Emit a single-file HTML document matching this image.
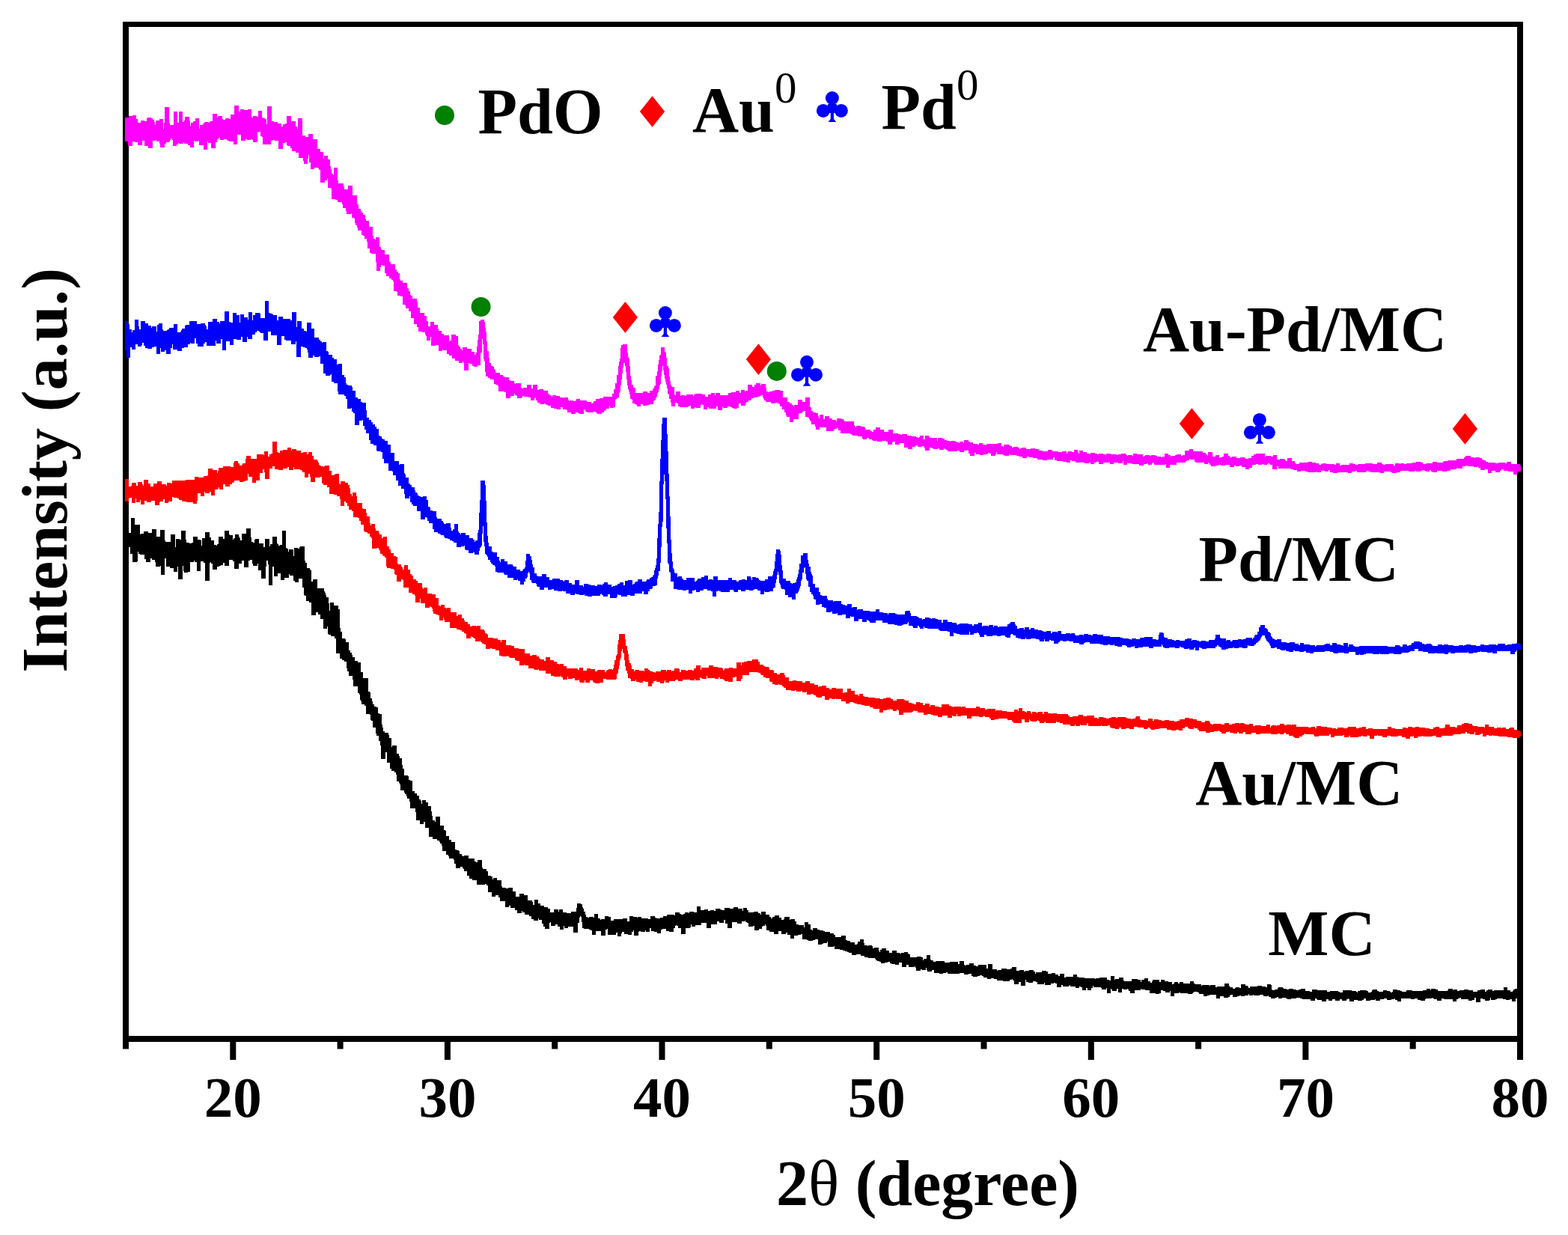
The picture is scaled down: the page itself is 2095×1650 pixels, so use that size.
<!DOCTYPE html>
<html><head><meta charset="utf-8"><title>XRD patterns</title>
<style>html,body{margin:0;padding:0;background:#fff;}body{width:2095px;height:1650px;overflow:hidden;}svg{display:block;}</style>
</head><body><svg width="2095" height="1650" viewBox="0 0 2095 1650"><g fill="#000"><rect x="164" y="29" width="1871" height="7"/><rect x="164" y="29" width="8" height="1372.5"/><rect x="2027" y="29" width="8" height="1387"/><rect x="164" y="1384" width="1871" height="8"/><rect x="307.3" y="1384" width="8" height="32"/><rect x="593.9" y="1384" width="8" height="32"/><rect x="880.5" y="1384" width="8" height="32"/><rect x="1167.2" y="1384" width="8" height="32"/><rect x="1453.8" y="1384" width="8" height="32"/><rect x="1740.4" y="1384" width="8" height="32"/><rect x="2027.0" y="1384" width="8" height="32"/><rect x="450.6" y="1384" width="8" height="17.5"/><rect x="737.2" y="1384" width="8" height="17.5"/><rect x="1023.8" y="1384" width="8" height="17.5"/><rect x="1310.5" y="1384" width="8" height="17.5"/><rect x="1597.1" y="1384" width="8" height="17.5"/><rect x="1883.7" y="1384" width="8" height="17.5"/></g><path fill="#000000" shape-rendering="crispEdges" d="M167,703.7H167V703.7H168V703.7H169V703.7H170V703.7H171V703.7H172V711.5H173V711.5H174V711.5H175V691.5H176V691.5H177V691.5H178V691.5H179V691.5H180V700.8H181V701.1H182V701.1H183V701.1H184V701.1H185V701.1H186V701.1H187V714.2H188V713.1H189V713.1H190V713.1H191V713.1H192V710.1H193V710.1H194V710.1H195V710.1H196V710.1H197V710.1H198V712.3H199V712.3H200V712.3H201V712.3H202V712.3H203V707.2H204V707.2H205V707.2H206V707.2H207V707.2H208V707.2H209V716.7H210V716.8H211V716.8H212V716.8H213V716.8H214V707.9H215V707.9H216V707.9H217V707.9H218V707.9H219V707.9H220V721.6H221V723.8H222V723.8H223V723.8H224V723.8H225V723.8H226V724.0H227V724.0H228V713.8H229V713.8H230V713.8H231V713.8H232V713.8H233V713.8H234V730.5H235V719.7H236V719.7H237V719.7H238V719.7H239V719.7H240V721.4H241V721.4H242V708.9H243V708.9H244V708.9H245V708.9H246V708.9H247V708.9H248V720.9H249V724.9H250V724.9H251V724.9H252V724.9H253V725.9H254V725.9H255V725.9H256V724.8H257V724.8H258V716.5H259V716.5H260V716.5H261V716.5H262V716.5H263V716.5H264V720.8H265V720.8H266V720.8H267V720.8H268V721.5H269V728.6H270V718.7H271V718.7H272V718.7H273V718.7H274V710.8H275V710.8H276V710.8H277V710.8H278V710.8H279V710.8H280V718.1H281V718.1H282V722.0H283V722.0H284V722.0H285V722.0H286V727.6H287V728.4H288V728.4H289V728.9H290V727.1H291V727.1H292V717.3H293V717.3H294V717.3H295V717.3H296V717.3H297V717.3H298V719.9H299V719.9H300V709.1H301V709.1H302V709.1H303V709.1H304V709.1H305V709.1H306V713.5H307V714.8H308V714.8H309V714.8H310V714.8H311V721.3H312V719.1H313V719.1H314V713.8H315V713.8H316V713.8H317V713.8H318V713.8H319V717.2H320V718.9H321V721.7H322V721.7H323V712.6H324V712.6H325V712.6H326V712.6H327V712.6H328V712.6H329V706.3H330V706.3H331V706.3H332V706.3H333V706.3H334V706.3H335V718.3H336V723.7H337V723.7H338V725.4H339V725.2H340V720.6H341V720.4H342V720.4H343V720.4H344V720.4H345V720.4H346V725.5H347V725.6H348V725.6H349V725.6H350V725.6H351V725.6H352V731.0H353V731.0H354V720.2H355V720.2H356V720.2H357V720.2H358V720.2H359V720.2H360V730.4H361V726.6H362V726.6H363V726.6H364V717.4H365V717.4H366V717.4H367V717.4H368V717.4H369V717.4H370V726.3H371V726.5H372V728.8H373V728.8H374V727.6H375V727.6H376V727.6H377V709.3H378V709.3H379V709.3H380V709.3H381V709.3H382V732.1H383V733.4H384V733.4H385V737.0H386V733.7H387V733.7H388V733.7H389V733.7H390V733.7H391V733.7H392V743.0H393V732.0H394V732.0H395V732.0H396V732.0H397V732.0H398V732.5H399V732.5H400V731.2H401V729.7H402V729.7H403V729.7H404V729.7H405V729.7H406V729.7H407V749.4H408V751.5H409V751.5H410V759.0H411V759.0H412V759.0H413V759.0H414V760.9H415V762.4H416V776.8H417V777.3H418V774.2H419V774.2H420V774.2H421V774.2H422V774.2H423V774.2H424V786.3H425V786.3H426V786.3H427V786.3H428V785.9H429V785.9H430V785.9H431V785.9H432V785.9H433V790.4H434V792.3H435V794.6H436V797.6H437V797.6H438V797.6H439V806.4H440V815.5H441V805.0H442V805.0H443V805.0H444V805.0H445V805.0H446V808.7H447V808.7H448V808.7H449V808.7H450V808.7H451V808.7H452V813.5H453V813.5H454V839.3H455V843.5H456V843.5H457V853.0H458V853.0H459V853.0H460V853.0H461V853.8H462V858.2H463V858.2H464V858.2H465V858.2H466V868.6H467V868.6H468V871.7H469V871.7H470V874.6H471V877.7H472V877.7H473V877.7H474V882.6H475V882.6H476V882.6H477V882.6H478V885.0H479V885.0H480V885.0H481V885.0H482V898.1H483V898.1H484V898.1H485V906.3H486V905.7H487V905.7H488V905.7H489V905.7H490V905.7H491V905.7H492V923.9H493V923.9H494V924.7H495V933.2H496V933.2H497V937.3H498V941.2H499V941.2H500V944.2H501V944.2H502V944.2H503V945.3H504V945.3H505V952.7H506V953.1H507V953.5H508V953.5H509V953.5H510V968.2H511V972.2H512V976.6H513V976.6H514V979.0H515V979.0H516V979.2H517V979.2H518V979.2H519V982.3H520V986.1H521V986.1H522V986.1H523V997.8H524V995.8H525V995.8H526V995.8H527V995.8H528V995.8H529V995.8H530V1006.5H531V1006.5H532V1006.5H533V1010.0H534V1012.5H535V1012.5H536V1012.5H537V1021.6H538V1026.7H539V1026.7H540V1035.7H541V1035.7H542V1035.7H543V1035.7H544V1035.7H545V1036.7H546V1041.8H547V1041.8H548V1043.1H549V1043.1H550V1043.1H551V1056.5H552V1056.5H553V1056.5H554V1059.6H555V1059.6H556V1059.6H557V1063.0H558V1063.0H559V1063.4H560V1067.8H561V1067.8H562V1070.4H563V1074.2H564V1068.8H565V1068.8H566V1068.8H567V1068.8H568V1068.8H569V1071.9H570V1071.9H571V1071.9H572V1076.9H573V1076.9H574V1076.9H575V1076.9H576V1083.7H577V1089.9H578V1095.8H579V1095.8H580V1095.8H581V1097.8H582V1091.2H583V1091.2H584V1091.2H585V1091.2H586V1091.2H587V1091.2H588V1102.8H589V1102.8H590V1102.8H591V1102.8H592V1102.8H593V1109.2H594V1109.2H595V1109.9H596V1116.6H597V1116.6H598V1116.6H599V1116.6H600V1121.9H601V1122.3H602V1122.3H603V1125.4H604V1125.4H605V1125.4H606V1125.4H607V1125.4H608V1134.8H609V1134.8H610V1135.6H611V1135.6H612V1135.6H613V1136.8H614V1140.5H615V1140.5H616V1140.5H617V1143.3H618V1144.1H619V1144.1H620V1143.1H621V1143.1H622V1143.1H623V1143.1H624V1143.1H625V1143.1H626V1146.6H627V1146.6H628V1146.6H629V1146.6H630V1146.6H631V1146.6H632V1147.0H633V1147.0H634V1151.1H635V1151.1H636V1151.6H637V1151.6H638V1148.7H639V1148.7H640V1148.7H641V1148.7H642V1148.7H643V1148.7H644V1159.2H645V1160.9H646V1160.9H647V1160.9H648V1160.9H649V1160.9H650V1164.3H651V1164.3H652V1169.5H653V1169.5H654V1169.5H655V1169.5H656V1171.1H657V1171.1H658V1174.6H659V1173.1H660V1173.1H661V1173.1H662V1173.1H663V1173.1H664V1176.2H665V1176.2H666V1176.2H667V1176.2H668V1176.2H669V1176.2H670V1183.5H671V1185.7H672V1185.7H673V1185.7H674V1185.7H675V1185.7H676V1187.3H677V1187.3H678V1187.3H679V1186.3H680V1186.3H681V1186.3H682V1186.3H683V1186.3H684V1186.3H685V1191.0H686V1191.0H687V1191.0H688V1191.0H689V1197.5H690V1197.5H691V1197.5H692V1197.5H693V1197.5H694V1193.7H695V1193.7H696V1193.7H697V1193.7H698V1193.7H699V1193.7H700V1196.3H701V1196.3H702V1196.3H703V1196.3H704V1196.3H705V1202.5H706V1202.5H707V1202.5H708V1202.5H709V1203.0H710V1203.0H711V1205.2H712V1209.1H713V1209.1H714V1201.9H715V1201.9H716V1201.9H717V1201.9H718V1201.9H719V1207.3H720V1207.3H721V1207.3H722V1209.7H723V1209.7H724V1209.7H725V1209.7H726V1209.7H727V1212.1H728V1212.1H729V1212.1H730V1212.1H731V1212.1H732V1213.5H733V1213.5H734V1213.5H735V1218.8H736V1219.4H737V1219.4H738V1219.4H739V1219.4H740V1214.6H741V1214.6H742V1214.6H743V1214.6H744V1214.6H745V1214.6H746V1218.0H747V1214.6H748V1214.6H749V1214.6H750V1214.6H751V1214.6H752V1218.8H753V1218.8H754V1218.8H755V1218.8H756V1218.8H757V1220.4H758V1220.4H759V1220.4H760V1220.4H761V1220.4H762V1220.4H763V1217.9H764V1217.9H765V1217.9H766V1217.9H767V1217.6H768V1217.6H769V1217.6H770V1213.1H771V1207.2H772V1207.2H773V1207.2H774V1207.2H775V1207.2H776V1207.6H777V1207.6H778V1212.2H779V1214.0H780V1217.6H781V1217.6H782V1221.6H783V1224.5H784V1225.3H785V1225.8H786V1225.8H787V1224.9H788V1224.9H789V1224.9H790V1224.9H791V1224.9H792V1224.9H793V1225.5H794V1221.1H795V1221.1H796V1221.1H797V1221.1H798V1221.1H799V1227.0H800V1227.0H801V1227.0H802V1229.1H803V1227.9H804V1227.9H805V1227.9H806V1227.9H807V1227.9H808V1223.5H809V1223.5H810V1223.5H811V1223.5H812V1223.5H813V1224.9H814V1224.9H815V1224.9H816V1229.9H817V1229.8H818V1229.8H819V1229.8H820V1227.9H821V1227.9H822V1227.9H823V1227.9H824V1227.9H825V1227.9H826V1228.4H827V1228.4H828V1228.4H829V1228.4H830V1228.4H831V1228.4H832V1227.0H833V1227.0H834V1227.0H835V1227.0H836V1227.0H837V1227.0H838V1230.8H839V1230.8H840V1230.8H841V1224.2H842V1224.2H843V1224.2H844V1224.2H845V1224.2H846V1225.3H847V1225.3H848V1225.3H849V1225.3H850V1225.3H851V1225.7H852V1225.4H853V1225.4H854V1225.4H855V1225.4H856V1225.4H857V1227.1H858V1227.1H859V1227.1H860V1227.1H861V1227.1H862V1227.4H863V1227.4H864V1227.4H865V1227.4H866V1228.2H867V1228.2H868V1228.2H869V1224.2H870V1224.2H871V1224.2H872V1224.2H873V1224.2H874V1224.2H875V1225.5H876V1225.5H877V1227.2H878V1227.2H879V1227.2H880V1227.2H881V1227.2H882V1225.6H883V1225.6H884V1225.6H885V1225.6H886V1224.3H887V1224.3H888V1224.3H889V1224.3H890V1224.3H891V1221.6H892V1221.6H893V1221.6H894V1221.6H895V1221.6H896V1222.2H897V1222.2H898V1222.2H899V1222.2H900V1222.2H901V1222.9H902V1219.3H903V1219.3H904V1219.3H905V1219.3H906V1219.3H907V1219.3H908V1221.1H909V1221.1H910V1221.5H911V1221.8H912V1221.8H913V1221.4H914V1221.4H915V1219.3H916V1219.3H917V1219.3H918V1219.3H919V1219.3H920V1219.9H921V1218.0H922V1218.0H923V1218.0H924V1218.0H925V1218.0H926V1218.0H927V1218.8H928V1218.8H929V1218.8H930V1218.8H931V1210.8H932V1210.8H933V1210.8H934V1210.8H935V1210.8H936V1216.0H937V1216.0H938V1216.0H939V1216.0H940V1216.0H941V1215.4H942V1215.4H943V1215.4H944V1215.4H945V1215.4H946V1217.0H947V1217.0H948V1217.0H949V1216.2H950V1216.2H951V1216.2H952V1216.2H953V1216.2H954V1216.8H955V1216.8H956V1214.0H957V1214.0H958V1214.0H959V1214.0H960V1214.0H961V1214.0H962V1214.8H963V1214.8H964V1215.5H965V1215.5H966V1215.5H967V1215.5H968V1213.1H969V1213.1H970V1213.1H971V1213.1H972V1213.1H973V1213.1H974V1213.4H975V1214.0H976V1214.0H977V1214.0H978V1214.0H979V1214.0H980V1212.0H981V1212.0H982V1212.0H983V1212.0H984V1212.0H985V1212.0H986V1214.1H987V1214.1H988V1214.1H989V1214.1H990V1214.1H991V1214.1H992V1216.5H993V1212.8H994V1212.8H995V1212.8H996V1212.8H997V1212.8H998V1215.8H999V1215.8H1000V1219.1H1001V1219.1H1002V1218.9H1003V1218.9H1004V1218.9H1005V1218.9H1006V1218.9H1007V1217.6H1008V1217.6H1009V1217.6H1010V1217.6H1011V1217.6H1012V1217.6H1013V1219.5H1014V1219.5H1015V1219.5H1016V1221.5H1017V1218.2H1018V1218.2H1019V1218.2H1020V1218.2H1021V1218.2H1022V1218.2H1023V1222.2H1024V1222.2H1025V1222.2H1026V1222.2H1027V1222.2H1028V1225.4H1029V1225.4H1030V1226.5H1031V1226.5H1032V1224.6H1033V1224.6H1034V1224.6H1035V1222.9H1036V1222.9H1037V1222.9H1038V1222.9H1039V1222.9H1040V1222.9H1041V1226.3H1042V1226.3H1043V1226.3H1044V1228.5H1045V1228.5H1046V1228.5H1047V1227.8H1048V1224.7H1049V1224.6H1050V1224.6H1051V1224.6H1052V1224.6H1053V1224.6H1054V1224.6H1055V1228.8H1056V1227.5H1057V1227.5H1058V1227.5H1059V1227.5H1060V1227.5H1061V1227.5H1062V1230.5H1063V1230.5H1064V1234.6H1065V1234.6H1066V1234.6H1067V1236.1H1068V1236.1H1069V1236.4H1070V1236.4H1071V1236.4H1072V1236.4H1073V1236.4H1074V1238.9H1075V1231.6H1076V1231.6H1077V1231.6H1078V1231.6H1079V1231.6H1080V1234.5H1081V1234.5H1082V1234.5H1083V1241.5H1084V1241.5H1085V1242.7H1086V1240.1H1087V1240.1H1088V1240.1H1089V1240.1H1090V1240.1H1091V1240.1H1092V1241.7H1093V1241.7H1094V1241.7H1095V1243.2H1096V1243.2H1097V1243.2H1098V1243.2H1099V1243.2H1100V1243.7H1101V1243.7H1102V1244.7H1103V1244.7H1104V1244.7H1105V1244.7H1106V1245.4H1107V1245.4H1108V1245.4H1109V1247.4H1110V1247.4H1111V1247.4H1112V1247.4H1113V1247.4H1114V1248.6H1115V1248.6H1116V1251.5H1117V1251.5H1118V1251.5H1119V1251.7H1120V1251.8H1121V1251.8H1122V1251.8H1123V1251.8H1124V1250.2H1125V1250.2H1126V1250.2H1127V1250.2H1128V1250.2H1129V1250.2H1130V1256.2H1131V1256.2H1132V1256.6H1133V1256.6H1134V1256.6H1135V1256.6H1136V1258.7H1137V1258.7H1138V1258.7H1139V1258.7H1140V1258.7H1141V1259.3H1142V1262.1H1143V1262.1H1144V1262.1H1145V1260.9H1146V1258.2H1147V1258.2H1148V1258.2H1149V1255.2H1150V1255.2H1151V1255.2H1152V1255.2H1153V1255.2H1154V1260.1H1155V1263.4H1156V1263.4H1157V1263.4H1158V1263.4H1159V1264.0H1160V1263.2H1161V1263.2H1162V1263.2H1163V1263.2H1164V1263.2H1165V1264.2H1166V1267.2H1167V1267.2H1168V1265.9H1169V1265.9H1170V1265.9H1171V1265.9H1172V1265.9H1173V1265.9H1174V1270.1H1175V1272.0H1176V1269.0H1177V1269.0H1178V1266.5H1179V1266.5H1180V1266.5H1181V1266.5H1182V1266.5H1183V1266.5H1184V1269.5H1185V1269.5H1186V1269.5H1187V1269.5H1188V1273.2H1189V1273.2H1190V1273.2H1191V1273.2H1192V1270.4H1193V1270.4H1194V1270.4H1195V1270.4H1196V1270.4H1197V1270.4H1198V1273.4H1199V1273.4H1200V1273.4H1201V1273.4H1202V1274.0H1203V1274.0H1204V1272.8H1205V1272.8H1206V1272.8H1207V1272.8H1208V1271.7H1209V1271.7H1210V1271.7H1211V1271.7H1212V1271.7H1213V1273.6H1214V1274.9H1215V1274.9H1216V1279.4H1217V1279.4H1218V1279.4H1219V1279.3H1220V1278.6H1221V1278.6H1222V1278.6H1223V1278.6H1224V1278.6H1225V1277.6H1226V1277.6H1227V1277.6H1228V1277.6H1229V1277.6H1230V1277.6H1231V1279.0H1232V1279.0H1233V1282.7H1234V1281.0H1235V1281.0H1236V1281.0H1237V1281.0H1238V1275.7H1239V1275.7H1240V1275.7H1241V1275.7H1242V1275.7H1243V1281.9H1244V1282.8H1245V1282.8H1246V1282.8H1247V1285.3H1248V1285.2H1249V1285.2H1250V1284.4H1251V1284.4H1252V1284.4H1253V1284.4H1254V1284.4H1255V1284.4H1256V1283.8H1257V1283.8H1258V1283.8H1259V1283.8H1260V1283.8H1261V1283.8H1262V1285.8H1263V1285.8H1264V1285.8H1265V1285.8H1266V1285.8H1267V1285.8H1268V1286.2H1269V1285.2H1270V1285.2H1271V1285.2H1272V1285.2H1273V1285.1H1274V1285.1H1275V1285.1H1276V1285.1H1277V1285.1H1278V1285.1H1279V1285.1H1280V1288.1H1281V1288.1H1282V1284.4H1283V1284.4H1284V1284.4H1285V1284.4H1286V1284.4H1287V1284.4H1288V1288.9H1289V1289.5H1290V1289.5H1291V1288.6H1292V1288.6H1293V1288.6H1294V1288.6H1295V1286.6H1296V1286.6H1297V1286.6H1298V1286.6H1299V1286.6H1300V1286.6H1301V1290.0H1302V1290.0H1303V1290.0H1304V1291.3H1305V1291.3H1306V1291.3H1307V1289.1H1308V1289.1H1309V1289.1H1310V1289.1H1311V1289.1H1312V1289.1H1313V1289.1H1314V1289.1H1315V1289.1H1316V1289.1H1317V1289.1H1318V1294.4H1319V1294.4H1320V1288.3H1321V1288.3H1322V1288.3H1323V1288.3H1324V1288.3H1325V1288.3H1326V1294.5H1327V1294.5H1328V1294.5H1329V1295.2H1330V1295.2H1331V1295.2H1332V1296.7H1333V1295.8H1334V1295.8H1335V1295.8H1336V1295.8H1337V1295.8H1338V1293.7H1339V1293.7H1340V1293.7H1341V1293.7H1342V1293.7H1343V1294.2H1344V1294.2H1345V1294.7H1346V1294.7H1347V1294.7H1348V1295.3H1349V1295.3H1350V1293.9H1351V1293.9H1352V1291.9H1353V1291.9H1354V1291.9H1355V1291.9H1356V1291.9H1357V1291.9H1358V1297.3H1359V1297.3H1360V1297.3H1361V1297.3H1362V1295.7H1363V1295.7H1364V1295.7H1365V1295.7H1366V1295.7H1367V1295.7H1368V1298.4H1369V1298.4H1370V1297.2H1371V1297.2H1372V1297.2H1373V1297.2H1374V1297.2H1375V1296.3H1376V1296.3H1377V1296.3H1378V1296.3H1379V1296.3H1380V1296.3H1381V1298.2H1382V1298.2H1383V1301.1H1384V1298.5H1385V1298.5H1386V1298.5H1387V1298.5H1388V1298.5H1389V1298.5H1390V1298.6H1391V1298.6H1392V1297.1H1393V1297.1H1394V1297.1H1395V1297.1H1396V1297.1H1397V1297.1H1398V1297.5H1399V1297.5H1400V1300.6H1401V1300.6H1402V1300.6H1403V1301.4H1404V1301.4H1405V1299.9H1406V1299.9H1407V1299.9H1408V1299.9H1409V1299.9H1410V1301.7H1411V1301.7H1412V1301.7H1413V1301.7H1414V1304.1H1415V1304.2H1416V1301.0H1417V1301.0H1418V1301.0H1419V1301.0H1420V1301.0H1421V1301.0H1422V1306.0H1423V1306.1H1424V1304.8H1425V1304.8H1426V1304.8H1427V1304.8H1428V1304.7H1429V1304.7H1430V1304.7H1431V1304.7H1432V1304.7H1433V1304.7H1434V1301.7H1435V1301.7H1436V1301.7H1437V1301.7H1438V1301.7H1439V1305.0H1440V1305.0H1441V1305.9H1442V1305.9H1443V1305.9H1444V1306.0H1445V1306.1H1446V1306.1H1447V1306.1H1448V1306.1H1449V1307.2H1450V1307.2H1451V1307.2H1452V1307.1H1453V1307.1H1454V1307.1H1455V1307.1H1456V1307.1H1457V1307.0H1458V1307.0H1459V1307.0H1460V1307.0H1461V1307.0H1462V1307.0H1463V1308.0H1464V1307.2H1465V1307.2H1466V1307.2H1467V1307.2H1468V1307.2H1469V1306.4H1470V1306.4H1471V1306.4H1472V1306.4H1473V1306.2H1474V1306.2H1475V1306.2H1476V1306.2H1477V1306.2H1478V1306.2H1479V1308.7H1480V1308.7H1481V1308.7H1482V1310.1H1483V1310.1H1484V1304.1H1485V1304.1H1486V1304.1H1487V1304.1H1488V1304.1H1489V1309.3H1490V1308.2H1491V1308.2H1492V1308.2H1493V1308.2H1494V1308.2H1495V1305.5H1496V1305.5H1497V1305.5H1498V1305.5H1499V1305.5H1500V1305.5H1501V1309.9H1502V1310.5H1503V1310.6H1504V1310.6H1505V1310.6H1506V1310.6H1507V1310.6H1508V1311.4H1509V1311.4H1510V1311.4H1511V1311.4H1512V1307.6H1513V1307.6H1514V1307.6H1515V1307.6H1516V1307.6H1517V1307.6H1518V1308.4H1519V1308.4H1520V1309.0H1521V1309.0H1522V1309.0H1523V1309.0H1524V1311.7H1525V1309.3H1526V1309.3H1527V1309.3H1528V1309.3H1529V1307.0H1530V1307.0H1531V1307.0H1532V1307.0H1533V1307.0H1534V1311.3H1535V1311.3H1536V1311.3H1537V1313.0H1538V1313.0H1539V1310.8H1540V1309.0H1541V1309.0H1542V1309.0H1543V1309.0H1544V1309.0H1545V1309.0H1546V1309.0H1547V1309.0H1548V1309.0H1549V1312.4H1550V1312.4H1551V1308.9H1552V1308.9H1553V1308.9H1554V1308.9H1555V1308.9H1556V1310.5H1557V1310.5H1558V1310.5H1559V1310.5H1560V1310.5H1561V1311.6H1562V1311.6H1563V1311.6H1564V1311.6H1565V1311.6H1566V1315.1H1567V1315.1H1568V1313.9H1569V1312.4H1570V1312.4H1571V1312.4H1572V1312.4H1573V1312.4H1574V1313.8H1575V1313.8H1576V1311.9H1577V1311.9H1578V1311.9H1579V1311.9H1580V1311.9H1581V1313.5H1582V1313.5H1583V1313.5H1584V1314.1H1585V1314.1H1586V1314.1H1587V1314.1H1588V1314.1H1589V1314.1H1590V1311.3H1591V1311.3H1592V1311.3H1593V1311.3H1594V1311.3H1595V1314.3H1596V1314.3H1597V1315.4H1598V1315.4H1599V1314.6H1600V1314.6H1601V1314.6H1602V1314.6H1603V1314.6H1604V1314.6H1605V1317.2H1606V1316.4H1607V1316.4H1608V1316.4H1609V1316.4H1610V1316.2H1611V1316.2H1612V1316.2H1613V1316.2H1614V1316.2H1615V1316.2H1616V1317.3H1617V1316.3H1618V1316.3H1619V1316.2H1620V1316.2H1621V1316.2H1622V1316.2H1623V1316.2H1624V1318.9H1625V1318.9H1626V1318.3H1627V1318.3H1628V1318.3H1629V1318.3H1630V1318.2H1631V1318.1H1632V1318.1H1633V1318.1H1634V1318.1H1635V1318.1H1636V1314.0H1637V1314.0H1638V1314.0H1639V1314.0H1640V1314.0H1641V1314.0H1642V1316.9H1643V1318.5H1644V1318.5H1645V1318.5H1646V1318.5H1647V1320.7H1648V1320.7H1649V1320.7H1650V1320.2H1651V1318.6H1652V1318.6H1653V1318.6H1654V1318.6H1655V1318.6H1656V1319.5H1657V1319.5H1658V1314.9H1659V1314.9H1660V1314.9H1661V1314.9H1662V1314.9H1663V1314.9H1664V1317.2H1665V1317.2H1666V1317.2H1667V1317.7H1668V1319.6H1669V1319.6H1670V1317.8H1671V1317.8H1672V1317.7H1673V1317.7H1674V1317.7H1675V1317.7H1676V1317.7H1677V1317.7H1678V1317.5H1679V1317.5H1680V1316.5H1681V1316.5H1682V1316.5H1683V1316.5H1684V1316.5H1685V1316.5H1686V1317.7H1687V1317.8H1688V1317.8H1689V1317.8H1690V1317.8H1691V1319.0H1692V1319.0H1693V1315.0H1694V1315.0H1695V1315.0H1696V1315.0H1697V1315.0H1698V1316.1H1699V1322.0H1700V1322.5H1701V1322.5H1702V1322.5H1703V1322.1H1704V1322.1H1705V1322.1H1706V1322.1H1707V1320.4H1708V1319.3H1709V1319.3H1710V1319.3H1711V1319.3H1712V1319.3H1713V1319.3H1714V1319.7H1715V1320.8H1716V1320.8H1717V1320.8H1718V1321.0H1719V1321.8H1720V1321.8H1721V1321.8H1722V1321.4H1723V1320.7H1724V1320.7H1725V1320.7H1726V1320.7H1727V1320.7H1728V1322.2H1729V1322.2H1730V1322.2H1731V1322.2H1732V1322.6H1733V1322.6H1734V1322.6H1735V1321.9H1736V1321.9H1737V1321.9H1738V1320.8H1739V1320.8H1740V1320.8H1741V1320.8H1742V1320.8H1743V1320.8H1744V1324.2H1745V1324.2H1746V1324.2H1747V1324.2H1748V1324.2H1749V1324.2H1750V1325.1H1751V1324.8H1752V1324.8H1753V1322.0H1754V1321.6H1755V1321.6H1756V1321.6H1757V1321.6H1758V1321.6H1759V1321.6H1760V1322.5H1761V1322.5H1762V1322.5H1763V1322.5H1764V1322.5H1765V1322.5H1766V1323.3H1767V1323.3H1768V1323.3H1769V1323.3H1770V1323.3H1771V1323.3H1772V1323.3H1773V1325.2H1774V1325.4H1775V1325.4H1776V1325.4H1777V1323.9H1778V1323.9H1779V1323.9H1780V1323.9H1781V1323.9H1782V1323.9H1783V1323.7H1784V1323.7H1785V1323.7H1786V1323.7H1787V1323.7H1788V1325.0H1789V1325.2H1790V1326.1H1791V1325.7H1792V1325.7H1793V1325.7H1794V1323.1H1795V1323.1H1796V1323.1H1797V1323.1H1798V1323.1H1799V1323.1H1800V1323.2H1801V1323.2H1802V1323.2H1803V1323.2H1804V1323.2H1805V1323.2H1806V1323.6H1807V1323.6H1808V1323.6H1809V1323.6H1810V1323.6H1811V1323.6H1812V1325.4H1813V1325.9H1814V1323.6H1815V1323.6H1816V1323.6H1817V1323.1H1818V1323.1H1819V1323.1H1820V1323.1H1821V1323.1H1822V1323.4H1823V1323.4H1824V1323.4H1825V1323.4H1826V1323.6H1827V1323.6H1828V1325.5H1829V1325.5H1830V1325.6H1831V1325.6H1832V1324.9H1833V1323.4H1834V1322.2H1835V1322.2H1836V1322.2H1837V1322.2H1838V1322.2H1839V1322.2H1840V1323.7H1841V1323.7H1842V1324.8H1843V1324.8H1844V1324.8H1845V1324.8H1846V1324.9H1847V1324.9H1848V1323.3H1849V1323.3H1850V1323.3H1851V1323.3H1852V1323.3H1853V1323.8H1854V1323.8H1855V1323.8H1856V1323.8H1857V1324.5H1858V1326.2H1859V1326.2H1860V1325.1H1861V1322.4H1862V1322.4H1863V1322.4H1864V1322.4H1865V1322.4H1866V1322.4H1867V1322.7H1868V1322.7H1869V1322.7H1870V1322.7H1871V1323.7H1872V1324.4H1873V1324.9H1874V1324.9H1875V1324.9H1876V1324.9H1877V1324.8H1878V1324.8H1879V1323.3H1880V1323.3H1881V1323.3H1882V1322.7H1883V1322.7H1884V1322.7H1885V1322.7H1886V1322.7H1887V1323.5H1888V1323.5H1889V1323.5H1890V1323.5H1891V1323.5H1892V1323.8H1893V1323.8H1894V1323.8H1895V1323.8H1896V1323.7H1897V1323.7H1898V1323.7H1899V1323.7H1900V1323.7H1901V1322.5H1902V1322.5H1903V1322.5H1904V1322.5H1905V1322.5H1906V1320.9H1907V1320.9H1908V1320.9H1909V1320.9H1910V1320.9H1911V1322.7H1912V1320.7H1913V1320.7H1914V1320.7H1915V1320.7H1916V1320.7H1917V1320.7H1918V1322.2H1919V1322.2H1920V1322.2H1921V1323.5H1922V1323.5H1923V1323.5H1924V1323.5H1925V1323.5H1926V1323.5H1927V1324.2H1928V1324.2H1929V1324.2H1930V1324.2H1931V1323.7H1932V1323.7H1933V1323.7H1934V1322.8H1935V1321.3H1936V1321.3H1937V1321.3H1938V1321.3H1939V1321.3H1940V1321.3H1941V1323.0H1942V1321.9H1943V1321.9H1944V1321.9H1945V1321.9H1946V1321.9H1947V1323.9H1948V1323.9H1949V1323.9H1950V1322.5H1951V1322.5H1952V1322.5H1953V1322.5H1954V1322.5H1955V1322.5H1956V1322.2H1957V1322.2H1958V1322.2H1959V1322.2H1960V1322.2H1961V1322.2H1962V1322.6H1963V1322.6H1964V1322.8H1965V1322.8H1966V1322.8H1967V1322.8H1968V1324.7H1969V1324.5H1970V1324.5H1971V1324.5H1972V1324.5H1973V1324.5H1974V1322.6H1975V1322.6H1976V1322.6H1977V1322.6H1978V1322.4H1979V1322.4H1980V1322.4H1981V1322.4H1982V1322.4H1983V1322.4H1984V1324.8H1985V1324.8H1986V1322.8H1987V1322.8H1988V1322.2H1989V1322.2H1990V1322.2H1991V1322.2H1992V1322.2H1993V1322.2H1994V1323.9H1995V1323.9H1996V1323.2H1997V1323.2H1998V1323.2H1999V1323.2H2000V1323.2H2001V1323.2H2002V1323.4H2003V1323.4H2004V1323.4H2005V1323.4H2006V1323.4H2007V1322.7H2008V1322.7H2009V1319.0H2010V1319.0H2011V1319.0H2012V1319.0H2013V1319.0H2014V1322.5H2015V1322.5H2016V1323.3H2017V1323.3H2018V1325.0H2019V1324.7H2020V1324.7H2021V1324.0H2022V1322.4H2023V1322.4H2024V1321.3H2025V1321.3H2026V1320.7H2027V1320.7H2028V1320.7H2029V1320.7H2030V1320.7H2031V1320.7H2032V1334.4H2031V1334.4H2030V1334.4H2029V1334.4H2028V1334.4H2027V1334.4H2026V1333.7H2025V1337.5H2024V1337.5H2023V1337.5H2022V1337.5H2021V1337.5H2020V1334.8H2019V1334.8H2018V1334.8H2017V1336.0H2016V1336.0H2015V1336.0H2014V1336.0H2013V1336.0H2012V1335.2H2011V1335.2H2010V1335.2H2009V1335.2H2008V1334.2H2007V1334.2H2006V1334.4H2005V1334.4H2004V1334.4H2003V1334.4H2002V1334.4H2001V1334.4H2000V1334.6H1999V1334.6H1998V1335.6H1997V1335.6H1996V1335.6H1995V1335.6H1994V1335.6H1993V1335.6H1992V1333.2H1991V1335.7H1990V1337.0H1989V1337.0H1988V1337.0H1987V1337.0H1986V1337.0H1985V1337.0H1984V1335.1H1983V1335.1H1982V1335.1H1981V1334.1H1980V1334.1H1979V1334.1H1978V1338.5H1977V1338.5H1976V1338.5H1975V1338.5H1974V1338.5H1973V1338.5H1972V1332.9H1971V1332.9H1970V1336.2H1969V1336.2H1968V1336.2H1967V1336.6H1966V1336.6H1965V1336.6H1964V1336.6H1963V1336.6H1962V1334.6H1961V1334.6H1960V1334.6H1959V1335.1H1958V1335.1H1957V1335.1H1956V1335.1H1955V1335.1H1954V1334.7H1953V1334.7H1952V1332.7H1951V1332.7H1950V1333.6H1949V1333.6H1948V1335.1H1947V1335.1H1946V1337.5H1945V1337.5H1944V1337.5H1943V1337.5H1942V1337.5H1941V1335.1H1940V1335.0H1939V1335.0H1938V1335.0H1937V1335.0H1936V1334.8H1935V1334.8H1934V1334.8H1933V1334.8H1932V1334.8H1931V1334.8H1930V1334.6H1929V1334.4H1928V1334.4H1927V1334.4H1926V1336.7H1925V1336.7H1924V1336.7H1923V1336.7H1922V1336.7H1921V1336.7H1920V1335.4H1919V1335.4H1918V1335.4H1917V1335.4H1916V1334.2H1915V1334.2H1914V1332.6H1913V1333.5H1912V1333.5H1911V1333.5H1910V1333.5H1909V1334.2H1908V1334.2H1907V1334.2H1906V1334.2H1905V1335.4H1904V1336.7H1903V1336.7H1902V1336.7H1901V1336.7H1900V1336.7H1899V1336.7H1898V1335.8H1897V1335.8H1896V1335.8H1895V1335.8H1894V1333.8H1893V1333.8H1892V1333.8H1891V1333.8H1890V1334.6H1889V1334.6H1888V1334.6H1887V1334.6H1886V1334.6H1885V1333.5H1884V1333.5H1883V1333.5H1882V1333.5H1881V1333.5H1880V1333.5H1879V1333.5H1878V1333.5H1877V1334.1H1876V1334.1H1875V1334.1H1874V1334.1H1873V1334.1H1872V1337.9H1871V1337.9H1870V1337.9H1869V1337.9H1868V1337.9H1867V1335.6H1866V1335.6H1865V1335.6H1864V1333.5H1863V1334.6H1862V1335.3H1861V1335.3H1860V1335.3H1859V1336.2H1858V1336.2H1857V1336.2H1856V1336.2H1855V1336.2H1854V1336.2H1853V1334.2H1852V1334.2H1851V1334.2H1850V1334.2H1849V1335.3H1848V1335.3H1847V1335.3H1846V1335.3H1845V1335.3H1844V1337.0H1843V1337.0H1842V1337.0H1841V1337.0H1840V1337.0H1839V1337.0H1838V1335.2H1837V1335.5H1836V1335.5H1835V1335.5H1834V1335.5H1833V1335.5H1832V1335.5H1831V1336.6H1830V1336.6H1829V1336.6H1828V1336.6H1827V1336.6H1826V1336.6H1825V1334.1H1824V1334.1H1823V1334.1H1822V1336.1H1821V1336.1H1820V1336.6H1819V1336.6H1818V1336.6H1817V1336.6H1816V1336.6H1815V1336.6H1814V1335.7H1813V1335.7H1812V1335.7H1811V1335.7H1810V1335.7H1809V1337.7H1808V1337.7H1807V1337.7H1806V1337.7H1805V1337.7H1804V1337.7H1803V1334.6H1802V1334.3H1801V1334.9H1800V1334.9H1799V1337.3H1798V1337.3H1797V1337.3H1796V1337.3H1795V1337.3H1794V1337.3H1793V1334.7H1792V1334.7H1791V1334.7H1790V1336.8H1789V1336.8H1788V1336.8H1787V1336.8H1786V1336.8H1785V1336.8H1784V1334.5H1783V1334.5H1782V1335.3H1781V1335.3H1780V1336.8H1779V1336.8H1778V1336.8H1777V1336.8H1776V1336.8H1775V1335.2H1774V1335.2H1773V1335.2H1772V1337.5H1771V1337.5H1770V1337.5H1769V1337.5H1768V1337.5H1767V1337.5H1766V1335.9H1765V1336.1H1764V1336.1H1763V1336.1H1762V1336.1H1761V1336.1H1760V1334.9H1759V1334.4H1758V1334.4H1757V1336.5H1756V1336.5H1755V1336.5H1754V1336.5H1753V1336.5H1752V1336.5H1751V1334.9H1750V1334.9H1749V1334.9H1748V1334.5H1747V1334.5H1746V1334.7H1745V1334.7H1744V1334.7H1743V1334.7H1742V1334.7H1741V1334.7H1740V1333.8H1739V1333.8H1738V1333.8H1737V1333.0H1736V1333.0H1735V1333.0H1734V1333.0H1733V1332.5H1732V1333.5H1731V1333.5H1730V1334.2H1729V1334.2H1728V1334.2H1727V1334.2H1726V1334.2H1725V1334.5H1724V1334.5H1723V1334.5H1722V1334.5H1721V1334.5H1720V1333.5H1719V1333.5H1718V1333.1H1717V1332.7H1716V1332.7H1715V1332.6H1714V1332.6H1713V1333.7H1712V1333.7H1711V1333.7H1710V1333.7H1709V1333.7H1708V1331.9H1707V1331.9H1706V1332.6H1705V1332.6H1704V1334.2H1703V1334.2H1702V1334.2H1701V1334.2H1700V1334.2H1699V1334.2H1698V1332.2H1697V1331.8H1696V1331.8H1695V1329.6H1694V1331.2H1693V1331.2H1692V1331.2H1691V1331.2H1690V1331.2H1689V1331.2H1688V1329.2H1687V1329.2H1686V1329.2H1685V1329.2H1684V1329.2H1683V1329.5H1682V1329.5H1681V1330.0H1680V1330.0H1679V1330.0H1678V1330.0H1677V1330.0H1676V1330.0H1675V1328.6H1674V1330.3H1673V1330.3H1672V1330.3H1671V1330.3H1670V1330.3H1669V1328.2H1668V1330.3H1667V1330.3H1666V1330.3H1665V1330.3H1664V1330.3H1663V1330.5H1662V1330.5H1661V1330.5H1660V1330.5H1659V1330.5H1658V1330.1H1657V1330.1H1656V1330.9H1655V1330.9H1654V1330.9H1653V1331.8H1652V1331.8H1651V1331.8H1650V1331.8H1649V1331.8H1648V1331.8H1647V1329.3H1646V1329.3H1645V1329.3H1644V1329.6H1643V1332.4H1642V1332.4H1641V1332.5H1640V1332.5H1639V1332.5H1638V1332.5H1637V1332.5H1636V1332.5H1635V1330.5H1634V1330.5H1633V1331.0H1632V1331.0H1631V1331.0H1630V1334.1H1629V1334.1H1628V1334.1H1627V1334.1H1626V1334.1H1625V1329.2H1624V1329.2H1623V1329.2H1622V1329.2H1621V1329.2H1620V1328.9H1619V1328.9H1618V1328.9H1617V1328.9H1616V1330.3H1615V1330.3H1614V1330.3H1613V1330.8H1612V1330.8H1611V1330.8H1610V1330.8H1609V1330.8H1608V1327.6H1607V1328.2H1606V1328.2H1605V1328.2H1604V1328.2H1603V1328.2H1602V1326.2H1601V1326.2H1600V1325.1H1599V1325.1H1598V1325.4H1597V1325.4H1596V1325.4H1595V1325.7H1594V1327.2H1593V1328.0H1592V1328.0H1591V1328.0H1590V1328.0H1589V1328.0H1588V1328.0H1587V1327.3H1586V1327.3H1585V1326.8H1584V1326.8H1583V1326.8H1582V1326.8H1581V1326.8H1580V1326.8H1579V1326.8H1578V1326.8H1577V1325.9H1576V1325.9H1575V1326.9H1574V1326.9H1573V1326.9H1572V1326.9H1571V1326.9H1570V1326.9H1569V1331.0H1568V1331.0H1567V1331.0H1566V1331.0H1565V1331.0H1564V1324.2H1563V1325.6H1562V1325.6H1561V1325.6H1560V1325.6H1559V1325.6H1558V1325.6H1557V1323.7H1556V1323.7H1555V1323.7H1554V1323.0H1553V1323.0H1552V1323.0H1551V1327.2H1550V1327.2H1549V1327.7H1548V1327.7H1547V1327.7H1546V1327.7H1545V1327.7H1544V1327.0H1543V1327.0H1542V1327.0H1541V1327.0H1540V1327.0H1539V1327.0H1538V1327.0H1537V1327.0H1536V1323.1H1535V1323.1H1534V1323.1H1533V1323.1H1532V1323.1H1531V1323.1H1530V1322.3H1529V1322.3H1528V1322.3H1527V1322.3H1526V1322.3H1525V1320.7H1524V1323.1H1523V1323.1H1522V1323.1H1521V1323.1H1520V1323.1H1519V1323.1H1518V1322.9H1517V1322.9H1516V1327.4H1515V1327.4H1514V1327.4H1513V1327.4H1512V1327.4H1511V1327.4H1510V1324.2H1509V1324.2H1508V1322.2H1507V1321.0H1506V1322.1H1505V1322.1H1504V1322.1H1503V1322.1H1502V1322.1H1501V1320.9H1500V1320.9H1499V1325.7H1498V1325.7H1497V1325.7H1496V1325.7H1495V1325.7H1494V1321.2H1493V1321.2H1492V1324.0H1491V1324.0H1490V1324.0H1489V1324.0H1488V1324.0H1487V1324.0H1486V1321.8H1485V1321.4H1484V1327.0H1483V1327.0H1482V1327.0H1481V1327.0H1480V1327.0H1479V1319.8H1478V1321.9H1477V1321.9H1476V1321.9H1475V1321.9H1474V1321.9H1473V1321.9H1472V1319.8H1471V1318.9H1470V1318.9H1469V1318.9H1468V1318.9H1467V1318.9H1466V1318.6H1465V1318.6H1464V1318.6H1463V1318.6H1462V1318.6H1461V1316.8H1460V1319.6H1459V1319.6H1458V1322.7H1457V1322.7H1456V1322.7H1455V1322.7H1454V1322.7H1453V1320.3H1452V1320.3H1451V1322.9H1450V1322.9H1449V1322.9H1448V1322.9H1447V1322.9H1446V1318.6H1445V1318.6H1444V1317.5H1443V1317.5H1442V1319.9H1441V1319.9H1440V1319.9H1439V1319.9H1438V1319.9H1437V1317.7H1436V1317.7H1435V1318.2H1434V1318.2H1433V1318.2H1432V1318.2H1431V1318.2H1430V1315.6H1429V1317.0H1428V1317.9H1427V1317.9H1426V1318.3H1425V1318.3H1424V1318.3H1423V1318.3H1422V1318.3H1421V1318.3H1420V1316.3H1419V1316.3H1418V1319.4H1417V1319.4H1416V1319.4H1415V1319.4H1414V1319.4H1413V1319.4H1412V1314.2H1411V1314.2H1410V1312.8H1409V1313.4H1408V1314.3H1407V1314.3H1406V1314.3H1405V1314.3H1404V1316.0H1403V1316.0H1402V1316.0H1401V1316.0H1400V1316.0H1399V1316.0H1398V1315.5H1397V1315.5H1396V1312.8H1395V1314.5H1394V1314.5H1393V1314.5H1392V1315.0H1391V1315.0H1390V1315.0H1389V1315.0H1388V1315.0H1387V1315.0H1386V1312.2H1385V1312.2H1384V1311.0H1383V1311.0H1382V1311.2H1381V1311.2H1380V1313.0H1379V1313.0H1378V1313.0H1377V1313.0H1376V1313.0H1375V1313.0H1374V1311.7H1373V1311.7H1372V1311.7H1371V1309.3H1370V1316.9H1369V1316.9H1368V1316.9H1367V1316.9H1366V1316.9H1365V1316.9H1364V1312.2H1363V1312.2H1362V1312.2H1361V1314.8H1360V1314.8H1359V1314.8H1358V1314.8H1357V1314.8H1356V1314.8H1355V1309.9H1354V1309.9H1353V1307.5H1352V1308.6H1351V1308.6H1350V1308.6H1349V1310.7H1348V1310.7H1347V1310.7H1346V1310.9H1345V1310.9H1344V1310.9H1343V1310.9H1342V1310.9H1341V1310.9H1340V1309.6H1339V1309.6H1338V1309.6H1337V1310.3H1336V1310.3H1335V1310.3H1334V1310.3H1333V1310.3H1332V1307.8H1331V1307.8H1330V1307.8H1329V1307.8H1328V1307.4H1327V1307.2H1326V1307.2H1325V1307.2H1324V1307.5H1323V1307.5H1322V1307.5H1321V1307.5H1320V1307.5H1319V1305.9H1318V1305.9H1317V1305.9H1316V1305.9H1315V1305.9H1314V1303.6H1313V1303.6H1312V1302.7H1311V1302.7H1310V1302.7H1309V1303.5H1308V1303.5H1307V1303.5H1306V1305.3H1305V1305.3H1304V1305.3H1303V1305.3H1302V1305.3H1301V1305.3H1300V1303.9H1299V1303.9H1298V1301.1H1297V1301.1H1296V1301.1H1295V1301.1H1294V1302.1H1293V1302.1H1292V1302.1H1291V1302.1H1290V1302.1H1289V1302.1H1288V1300.3H1287V1300.3H1286V1299.8H1285V1299.8H1284V1299.8H1283V1299.8H1282V1300.6H1281V1300.6H1280V1300.6H1279V1301.0H1278V1301.0H1277V1301.0H1276V1301.0H1275V1301.0H1274V1300.7H1273V1300.7H1272V1301.1H1271V1301.1H1270V1301.1H1269V1301.1H1268V1301.1H1267V1301.1H1266V1298.9H1265V1298.9H1264V1300.3H1263V1300.3H1262V1300.3H1261V1300.3H1260V1301.3H1259V1301.3H1258V1301.3H1257V1301.3H1256V1301.3H1255V1300.3H1254V1300.3H1253V1300.3H1252V1300.3H1251V1300.3H1250V1299.8H1249V1299.8H1248V1295.6H1247V1295.6H1246V1295.6H1245V1298.2H1244V1298.2H1243V1298.2H1242V1298.2H1241V1298.2H1240V1298.2H1239V1295.7H1238V1293.1H1237V1295.9H1236V1295.9H1235V1295.9H1234V1295.9H1233V1295.9H1232V1295.2H1231V1295.2H1230V1296.8H1229V1296.8H1228V1296.8H1227V1296.8H1226V1296.8H1225V1296.8H1224V1293.3H1223V1291.0H1222V1291.8H1221V1291.8H1220V1291.8H1219V1291.8H1218V1291.8H1217V1291.6H1216V1291.6H1215V1291.6H1214V1288.9H1213V1288.9H1212V1288.9H1211V1292.0H1210V1292.0H1209V1292.0H1208V1292.0H1207V1292.0H1206V1292.0H1205V1285.5H1204V1285.5H1203V1285.5H1202V1285.5H1201V1288.9H1200V1288.9H1199V1288.9H1198V1288.9H1197V1288.9H1196V1287.5H1195V1287.5H1194V1287.5H1193V1287.5H1192V1287.5H1191V1286.6H1190V1286.6H1189V1285.2H1188V1285.2H1187V1285.2H1186V1286.0H1185V1286.0H1184V1286.0H1183V1286.0H1182V1287.2H1181V1287.2H1180V1287.2H1179V1287.2H1178V1287.2H1177V1285.2H1176V1285.2H1175V1284.3H1174V1284.3H1173V1284.3H1172V1282.7H1171V1282.7H1170V1281.3H1169V1279.9H1168V1279.9H1167V1279.9H1166V1280.2H1165V1280.2H1164V1280.2H1163V1280.2H1162V1280.2H1161V1280.2H1160V1279.3H1159V1279.3H1158V1279.3H1157V1279.3H1156V1279.3H1155V1277.2H1154V1277.2H1153V1277.2H1152V1277.2H1151V1277.2H1150V1275.2H1149V1275.2H1148V1275.1H1147V1275.1H1146V1275.1H1145V1275.1H1144V1276.0H1143V1276.0H1142V1276.0H1141V1276.0H1140V1276.0H1139V1276.0H1138V1273.4H1137V1273.2H1136V1273.2H1135V1273.2H1134V1272.1H1133V1272.1H1132V1270.9H1131V1270.9H1130V1270.9H1129V1270.4H1128V1270.4H1127V1270.4H1126V1268.8H1125V1268.8H1124V1268.8H1123V1268.8H1122V1267.8H1121V1267.8H1120V1268.2H1119V1268.2H1118V1268.2H1117V1268.2H1116V1268.2H1115V1263.9H1114V1265.0H1113V1265.0H1112V1265.0H1111V1265.0H1110V1265.0H1109V1265.0H1108V1264.6H1107V1264.6H1106V1258.3H1105V1260.3H1104V1260.3H1103V1260.3H1102V1260.3H1101V1260.3H1100V1260.6H1099V1260.6H1098V1262.1H1097V1262.1H1096V1262.1H1095V1262.1H1094V1262.1H1093V1255.2H1092V1255.2H1091V1255.2H1090V1255.2H1089V1256.4H1088V1256.4H1087V1256.4H1086V1257.0H1085V1257.0H1084V1257.0H1083V1257.0H1082V1257.0H1081V1257.0H1080V1255.5H1079V1255.5H1078V1254.9H1077V1254.9H1076V1254.9H1075V1254.9H1074V1254.9H1073V1254.9H1072V1248.1H1071V1248.1H1070V1249.1H1069V1249.1H1068V1249.1H1067V1249.1H1066V1250.1H1065V1250.1H1064V1250.1H1063V1250.1H1062V1250.1H1061V1254.4H1060V1254.4H1059V1254.4H1058V1254.4H1057V1254.4H1056V1249.0H1055V1249.0H1054V1249.0H1053V1249.0H1052V1246.1H1051V1246.1H1050V1248.1H1049V1248.1H1048V1248.1H1047V1248.1H1046V1248.1H1045V1248.1H1044V1243.8H1043V1243.8H1042V1243.8H1041V1243.8H1040V1247.5H1039V1247.5H1038V1247.5H1037V1247.5H1036V1247.5H1035V1247.5H1034V1245.3H1033V1245.3H1032V1245.3H1031V1245.3H1030V1245.3H1029V1245.3H1028V1242.7H1027V1242.7H1026V1242.7H1025V1242.7H1024V1236.5H1023V1235.1H1022V1236.6H1021V1236.6H1020V1236.6H1019V1238.1H1018V1241.1H1017V1241.1H1016V1241.1H1015V1241.1H1014V1243.2H1013V1243.2H1012V1243.2H1011V1243.2H1010V1243.2H1009V1243.2H1008V1237.1H1007V1237.1H1006V1237.8H1005V1237.8H1004V1237.8H1003V1237.8H1002V1237.8H1001V1237.8H1000V1232.5H999V1232.5H998V1232.3H997V1232.3H996V1229.6H995V1230.7H994V1230.7H993V1230.7H992V1230.7H991V1234.3H990V1234.4H989V1234.4H988V1234.4H987V1234.4H986V1234.4H985V1231.5H984V1231.5H983V1231.5H982V1231.8H981V1231.8H980V1231.8H979V1231.8H978V1239.5H977V1239.5H976V1239.5H975V1239.5H974V1239.5H973V1239.5H972V1233.8H971V1233.8H970V1233.7H969V1229.0H968V1229.0H967V1232.9H966V1232.9H965V1232.9H964V1232.9H963V1232.9H962V1232.9H961V1231.0H960V1231.4H959V1231.4H958V1234.7H957V1234.7H956V1234.7H955V1234.7H954V1234.7H953V1235.2H952V1235.2H951V1235.2H950V1239.9H949V1239.9H948V1239.9H947V1239.9H946V1239.9H945V1239.9H944V1233.2H943V1233.2H942V1233.2H941V1233.2H940V1233.4H939V1233.4H938V1233.4H937V1235.5H936V1235.5H935V1235.5H934V1235.5H933V1235.5H932V1236.3H931V1236.3H930V1236.3H929V1238.1H928V1238.1H927V1238.1H926V1238.1H925V1238.1H924V1235.0H923V1239.0H922V1239.5H921V1239.5H920V1239.5H919V1239.5H918V1239.5H917V1239.5H916V1247.6H915V1247.6H914V1247.6H913V1247.6H912V1247.6H911V1247.6H910V1240.2H909V1240.2H908V1240.2H907V1240.2H906V1236.5H905V1236.5H904V1235.6H903V1236.5H902V1239.6H901V1239.6H900V1245.4H899V1245.4H898V1245.4H897V1245.4H896V1245.4H895V1245.4H894V1243.6H893V1243.6H892V1243.6H891V1243.6H890V1240.8H889V1240.8H888V1240.8H887V1240.8H886V1241.4H885V1241.6H884V1241.8H883V1247.2H882V1247.2H881V1247.2H880V1247.2H879V1247.2H878V1245.4H877V1245.4H876V1245.4H875V1245.4H874V1244.0H873V1244.0H872V1244.0H871V1244.0H870V1239.8H869V1239.8H868V1245.3H867V1245.3H866V1245.3H865V1245.3H864V1245.3H863V1243.2H862V1244.8H861V1244.8H860V1244.8H859V1244.8H858V1244.8H857V1244.8H856V1244.3H855V1244.3H854V1245.0H853V1250.0H852V1250.0H851V1250.0H850V1250.0H849V1250.0H848V1250.0H847V1243.1H846V1245.1H845V1245.1H844V1248.6H843V1248.6H842V1248.6H841V1248.6H840V1248.6H839V1247.5H838V1247.5H837V1247.5H836V1247.5H835V1247.5H834V1245.1H833V1245.1H832V1245.1H831V1247.4H830V1251.2H829V1251.2H828V1251.2H827V1251.2H826V1251.2H825V1246.0H824V1245.6H823V1248.9H822V1248.9H821V1248.9H820V1248.9H819V1248.9H818V1248.8H817V1248.8H816V1248.8H815V1248.8H814V1248.8H813V1248.8H812V1241.3H811V1241.5H810V1241.7H809V1249.9H808V1249.9H807V1249.9H806V1249.9H805V1249.9H804V1249.9H803V1243.8H802V1243.8H801V1243.8H800V1243.6H799V1243.6H798V1243.6H797V1243.6H796V1249.0H795V1249.0H794V1249.0H793V1249.0H792V1249.0H791V1242.6H790V1242.6H789V1241.6H788V1241.6H787V1241.1H786V1240.9H785V1240.9H784V1240.9H783V1240.9H782V1240.9H781V1240.9H780V1239.9H779V1239.9H778V1232.4H777V1225.3H776V1224.4H775V1226.0H774V1233.3H773V1233.3H772V1246.4H771V1246.4H770V1246.4H769V1246.4H768V1246.4H767V1246.4H766V1238.1H765V1238.1H764V1238.1H763V1238.1H762V1237.5H761V1237.5H760V1237.5H759V1239.5H758V1239.5H757V1239.5H756V1239.5H755V1239.5H754V1236.7H753V1241.6H752V1241.6H751V1241.6H750V1241.6H749V1241.6H748V1237.9H747V1237.9H746V1237.9H745V1235.4H744V1235.4H743V1235.4H742V1237.3H741V1237.3H740V1237.3H739V1237.3H738V1237.3H737V1237.3H736V1232.3H735V1233.0H734V1241.3H733V1241.3H732V1241.3H731V1241.3H730V1241.3H729V1241.3H728V1237.8H727V1237.8H726V1233.6H725V1233.6H724V1229.3H723V1229.3H722V1229.3H721V1228.5H720V1226.8H719V1230.0H718V1230.0H717V1230.0H716V1230.0H715V1230.0H714V1230.0H713V1228.1H712V1228.1H711V1228.1H710V1223.9H709V1223.9H708V1223.9H707V1221.9H706V1221.9H705V1221.9H704V1221.9H703V1221.9H702V1221.9H701V1219.3H700V1219.3H699V1219.3H698V1216.9H697V1219.7H696V1219.7H695V1219.7H694V1219.7H693V1219.7H692V1219.7H691V1216.0H690V1216.0H689V1216.0H688V1213.3H687V1213.3H686V1213.3H685V1213.3H684V1213.3H683V1213.3H682V1210.3H681V1210.3H680V1212.4H679V1212.4H678V1212.4H677V1212.4H676V1212.4H675V1203.7H674V1203.7H673V1204.2H672V1204.2H671V1204.2H670V1204.2H669V1204.2H668V1198.8H667V1198.8H666V1196.3H665V1196.3H664V1196.3H663V1196.3H662V1197.8H661V1197.8H660V1197.8H659V1197.8H658V1197.8H657V1191.5H656V1191.5H655V1191.5H654V1191.5H653V1191.5H652V1183.1H651V1183.1H650V1180.8H649V1180.8H648V1181.7H647V1181.7H646V1181.7H645V1181.7H644V1181.7H643V1182.3H642V1182.3H641V1182.3H640V1182.3H639V1182.3H638V1182.3H637V1175.6H636V1175.6H635V1175.6H634V1175.6H633V1175.6H632V1175.6H631V1173.8H630V1173.8H629V1173.8H628V1173.8H627V1170.1H626V1170.1H625V1170.1H624V1164.3H623V1164.3H622V1164.3H621V1164.3H620V1160.8H619V1159.7H618V1158.3H617V1158.3H616V1158.3H615V1159.8H614V1159.8H613V1159.8H612V1159.8H611V1159.8H610V1159.8H609V1154.1H608V1154.1H607V1148.5H606V1146.6H605V1147.1H604V1147.1H603V1147.1H602V1147.1H601V1147.1H600V1143.6H599V1142.0H598V1142.0H597V1142.0H596V1137.4H595V1137.4H594V1137.4H593V1137.4H592V1137.4H591V1129.6H590V1127.2H589V1127.2H588V1125.2H587V1122.9H586V1122.9H585V1122.9H584V1121.2H583V1121.2H582V1121.2H581V1121.2H580V1121.2H579V1121.2H578V1118.4H577V1118.4H576V1118.4H575V1118.4H574V1118.4H573V1106.0H572V1106.0H571V1106.0H570V1106.0H569V1106.0H568V1098.3H567V1098.3H566V1101.0H565V1101.0H564V1101.0H563V1101.0H562V1101.0H561V1095.6H560V1095.6H559V1095.6H558V1095.6H557V1095.6H556V1085.0H555V1080.4H554V1080.4H553V1080.4H552V1080.4H551V1080.4H550V1080.4H549V1080.4H548V1071.4H547V1067.4H546V1067.4H545V1067.4H544V1063.9H543V1060.8H542V1060.8H541V1058.8H540V1056.1H539V1056.1H538V1056.1H537V1056.1H536V1056.1H535V1047.5H534V1046.2H533V1043.7H532V1043.7H531V1043.7H530V1035.2H529V1032.2H528V1032.2H527V1030.4H526V1030.4H525V1030.4H524V1030.4H523V1026.7H522V1026.7H521V1019.4H520V1019.4H519V1019.0H518V1019.0H517V1004.6H516V1004.6H515V1014.3H514V1014.3H513V1014.3H512V1014.3H511V1014.3H510V1014.3H509V996.1H508V989.5H507V989.5H506V983.1H505V983.1H504V983.1H503V979.5H502V972.1H501V972.1H500V972.1H499V972.1H498V962.7H497V962.7H496V961.7H495V955.4H494V954.3H493V954.3H492V954.3H491V954.3H490V954.3H489V943.1H488V942.5H487V941.2H486V941.2H485V941.2H484V941.2H483V936.7H482V934.7H481V927.6H480V926.3H479V926.3H478V917.3H477V917.3H476V917.3H475V917.3H474V917.3H473V917.3H472V907.9H471V902.9H470V902.9H469V902.9H468V902.9H467V902.9H466V897.3H465V897.3H464V893.2H463V883.5H462V883.5H461V883.5H460V882.3H459V882.3H458V882.3H457V879.5H456V879.5H455V879.5H454V873.2H453V873.2H452V873.2H451V873.2H450V873.2H449V853.2H448V853.2H447V849.6H446V849.6H445V849.6H444V849.6H443V849.6H442V847.7H441V847.7H440V847.7H439V846.9H438V836.7H437V839.6H436V839.6H435V839.6H434V839.6H433V839.6H432V826.6H431V826.6H430V826.6H429V826.6H428V821.3H427V821.3H426V821.3H425V818.2H424V818.2H423V818.2H422V821.8H421V821.8H420V821.8H419V821.8H418V821.8H417V821.8H416V805.0H415V805.0H414V805.0H413V802.6H412V802.6H411V802.6H410V802.6H409V796.1H408V796.1H407V794.7H406V784.9H405V784.9H404V772.6H403V772.6H402V772.6H401V772.6H400V772.6H399V777.5H398V777.5H397V777.5H396V777.5H395V777.5H394V775.8H393V775.8H392V768.8H391V768.8H390V768.8H389V768.8H388V768.8H387V766.8H386V772.1H385V772.1H384V772.1H383V772.1H382V772.1H381V772.1H380V774.7H379V774.7H378V774.7H377V774.7H376V774.7H375V766.3H374V766.0H373V766.0H372V766.0H371V769.6H370V769.6H369V769.6H368V769.6H367V769.6H366V757.3H365V757.3H364V782.4H363V782.4H362V782.4H361V782.4H360V782.4H359V753.6H358V748.5H357V748.5H356V757.4H355V772.5H354V772.5H353V772.5H352V772.5H351V772.5H350V772.5H349V761.6H348V761.6H347V761.6H346V761.6H345V752.7H344V756.1H343V756.1H342V756.1H341V756.1H340V756.1H339V756.1H338V753.0H337V747.6H336V747.6H335V747.6H334V748.9H333V748.9H332V757.7H331V757.7H330V757.7H329V757.7H328V757.7H327V757.7H326V748.7H325V748.7H324V748.7H323V753.0H322V753.0H321V753.0H320V753.0H319V760.2H318V760.2H317V760.2H316V760.2H315V760.2H314V760.2H313V750.2H312V750.2H311V748.3H310V747.7H309V747.7H308V747.7H307V747.7H306V756.3H305V756.3H304V756.3H303V756.3H302V756.3H301V756.3H300V751.7H299V751.7H298V755.3H297V755.3H296V755.3H295V756.3H294V756.3H293V756.7H292V756.7H291V756.7H290V760.9H289V760.9H288V760.9H287V760.9H286V760.9H285V760.9H284V752.6H283V752.6H282V751.4H281V751.5H280V776.1H279V776.1H278V776.1H277V776.1H276V776.1H275V776.1H274V752.2H273V752.2H272V750.1H271V750.1H270V750.1H269V750.1H268V762.7H267V762.7H266V762.7H265V762.7H264V762.7H263V751.4H262V751.4H261V751.4H260V748.8H259V751.4H258V751.4H257V751.4H256V751.4H255V751.4H254V763.7H253V763.7H252V763.7H251V765.3H250V765.3H249V765.3H248V765.3H247V765.3H246V763.2H245V756.4H244V774.2H243V774.2H242V774.2H241V774.2H240V774.2H239V774.2H238V757.1H237V763.7H236V763.7H235V763.7H234V763.7H233V763.7H232V759.4H231V759.4H230V759.4H229V759.4H228V759.4H227V756.7H226V756.7H225V756.7H224V756.7H223V756.7H222V746.3H221V746.3H220V767.6H219V767.6H218V767.6H217V767.6H216V767.6H215V756.0H214V757.4H213V757.4H212V757.4H211V757.4H210V757.4H209V757.4H208V751.0H207V748.0H206V748.0H205V748.0H204V748.0H203V745.5H202V745.5H201V750.6H200V750.6H199V750.6H198V750.6H197V750.6H196V750.6H195V746.6H194V746.6H193V741.2H192V741.2H191V741.2H190V741.2H189V741.2H188V740.6H187V740.0H186V740.0H185V736.6H184V750.3H183V750.7H182V750.7H181V750.7H180V750.7H179V750.7H178V750.7H177V740.2H176V740.2H175V740.2H174V731.4H173V731.4H172V733.0H171V733.0H170V733.0H169V733.0H168V733.0H167Z"/><path fill="#ff0000" shape-rendering="crispEdges" d="M167,640.0H167V640.0H168V640.0H169V640.0H170V640.0H171V640.0H172V650.2H173V649.7H174V649.7H175V649.0H176V644.8H177V644.8H178V644.8H179V644.8H180V644.8H181V644.8H182V648.6H183V648.6H184V644.2H185V644.2H186V644.2H187V644.2H188V644.2H189V644.2H190V646.9H191V649.1H192V640.8H193V640.8H194V640.8H195V640.8H196V640.8H197V640.8H198V646.3H199V646.3H200V646.3H201V649.9H202V649.9H203V649.9H204V649.9H205V645.7H206V645.7H207V645.7H208V645.7H209V645.7H210V643.1H211V643.1H212V643.1H213V643.1H214V643.1H215V643.1H216V646.6H217V646.6H218V646.6H219V646.6H220V646.6H221V646.6H222V649.0H223V645.1H224V645.1H225V645.1H226V645.1H227V645.1H228V646.1H229V646.1H230V641.5H231V641.5H232V641.5H233V641.5H234V641.5H235V641.5H236V642.2H237V642.2H238V642.2H239V642.2H240V642.2H241V641.5H242V641.5H243V641.5H244V641.5H245V641.5H246V642.2H247V642.2H248V641.3H249V641.3H250V641.3H251V641.3H252V641.3H253V641.3H254V640.5H255V640.5H256V640.5H257V640.5H258V640.5H259V640.5H260V636.5H261V636.5H262V636.5H263V636.5H264V636.5H265V637.9H266V637.9H267V637.9H268V637.9H269V637.9H270V637.8H271V637.8H272V635.9H273V635.9H274V635.9H275V635.9H276V635.9H277V635.1H278V626.3H279V626.3H280V626.3H281V626.3H282V626.3H283V626.3H284V628.3H285V628.3H286V628.3H287V628.3H288V628.3H289V628.3H290V631.6H291V628.6H292V625.1H293V624.9H294V624.9H295V624.9H296V624.9H297V624.9H298V622.7H299V622.7H300V622.7H301V622.7H302V622.5H303V622.5H304V622.5H305V622.5H306V622.5H307V622.5H308V623.9H309V623.9H310V623.9H311V623.9H312V617.5H313V616.3H314V616.3H315V616.3H316V616.3H317V616.3H318V619.2H319V619.2H320V622.4H321V622.4H322V622.4H323V621.2H324V619.2H325V618.9H326V618.9H327V618.9H328V613.3H329V608.7H330V608.7H331V608.7H332V608.7H333V608.7H334V608.7H335V613.3H336V613.3H337V613.3H338V613.3H339V613.3H340V613.1H341V613.1H342V613.1H343V606.7H344V606.7H345V606.7H346V606.7H347V606.7H348V607.1H349V607.1H350V607.1H351V607.1H352V608.0H353V603.1H354V603.1H355V603.1H356V603.1H357V603.1H358V610.4H359V610.4H360V607.3H361V607.3H362V606.1H363V606.1H364V590.1H365V590.1H366V590.1H367V590.1H368V590.1H369V590.1H370V603.6H371V603.6H372V604.9H373V604.9H374V602.0H375V602.0H376V602.0H377V602.0H378V600.9H379V600.9H380V600.9H381V600.9H382V600.9H383V600.9H384V598.1H385V598.1H386V598.1H387V598.1H388V598.1H389V602.0H390V599.7H391V599.7H392V599.7H393V599.7H394V599.7H395V599.7H396V602.1H397V602.1H398V602.1H399V602.1H400V602.1H401V602.1H402V604.9H403V604.9H404V604.9H405V603.7H406V603.7H407V603.7H408V603.7H409V603.7H410V607.1H411V607.1H412V603.5H413V603.5H414V603.5H415V603.5H416V603.5H417V608.7H418V608.7H419V613.8H420V613.8H421V613.8H422V614.3H423V614.3H424V616.3H425V617.6H426V620.7H427V621.6H428V621.6H429V623.2H430V623.2H431V623.2H432V623.6H433V623.2H434V622.0H435V622.0H436V622.0H437V622.0H438V622.0H439V622.0H440V628.9H441V628.9H442V628.9H443V634.6H444V634.6H445V635.3H446V634.2H447V634.2H448V633.0H449V633.0H450V633.0H451V633.0H452V633.0H453V645.9H454V646.5H455V642.8H456V642.8H457V642.8H458V642.8H459V642.8H460V642.8H461V644.9H462V644.9H463V644.9H464V644.9H465V648.3H466V648.3H467V652.1H468V660.2H469V660.2H470V662.7H471V658.3H472V658.3H473V658.3H474V658.3H475V658.3H476V662.6H477V671.6H478V671.6H479V671.6H480V671.6H481V671.7H482V671.7H483V671.7H484V679.0H485V679.8H486V679.8H487V679.8H488V679.8H489V685.0H490V689.6H491V690.1H492V690.1H493V690.1H494V699.1H495V702.3H496V700.3H497V700.3H498V700.3H499V700.3H500V700.3H501V706.4H502V709.3H503V709.3H504V709.3H505V709.3H506V712.4H507V713.5H508V713.5H509V713.5H510V719.0H511V719.0H512V717.2H513V717.2H514V717.2H515V717.2H516V717.2H517V729.7H518V729.9H519V729.9H520V734.1H521V734.1H522V738.8H523V738.8H524V738.8H525V738.8H526V742.9H527V742.9H528V742.9H529V744.1H530V744.1H531V753.2H532V753.9H533V753.9H534V753.9H535V753.9H536V757.2H537V758.0H538V760.7H539V760.7H540V755.2H541V755.2H542V755.2H543V755.2H544V755.2H545V761.1H546V761.1H547V761.1H548V767.1H549V767.1H550V769.1H551V769.1H552V774.2H553V774.2H554V774.2H555V774.2H556V775.7H557V775.7H558V778.7H559V778.7H560V778.7H561V778.7H562V778.7H563V778.7H564V784.5H565V787.0H566V784.5H567V784.5H568V784.5H569V784.5H570V784.5H571V792.8H572V792.8H573V793.1H574V793.1H575V793.1H576V793.1H577V794.4H578V794.4H579V794.4H580V794.4H581V794.4H582V798.6H583V798.6H584V798.6H585V798.6H586V808.7H587V808.7H588V810.0H589V808.2H590V808.2H591V808.2H592V808.2H593V808.2H594V811.5H595V811.5H596V813.2H597V811.8H598V811.8H599V811.8H600V811.8H601V811.8H602V818.4H603V818.4H604V818.2H605V818.2H606V818.2H607V818.2H608V818.2H609V818.2H610V823.2H611V823.2H612V820.5H613V820.5H614V820.5H615V820.5H616V820.5H617V826.2H618V826.2H619V826.2H620V828.8H621V831.2H622V831.2H623V831.2H624V831.2H625V833.5H626V833.5H627V833.5H628V836.9H629V836.9H630V835.6H631V835.6H632V835.6H633V835.6H634V835.6H635V835.6H636V837.3H637V836.2H638V836.2H639V836.2H640V836.2H641V836.2H642V841.2H643V841.2H644V841.2H645V841.2H646V841.2H647V843.1H648V845.7H649V845.7H650V846.6H651V847.7H652V851.8H653V851.8H654V851.5H655V851.5H656V851.5H657V851.5H658V851.5H659V853.0H660V853.0H661V853.2H662V853.2H663V853.2H664V853.2H665V854.9H666V854.9H667V855.2H668V855.2H669V858.3H670V855.1H671V855.1H672V855.1H673V855.1H674V855.1H675V855.1H676V861.9H677V861.9H678V861.6H679V861.6H680V861.6H681V861.6H682V861.6H683V863.1H684V863.1H685V863.1H686V863.1H687V866.3H688V866.3H689V866.3H690V866.3H691V866.3H692V866.3H693V867.0H694V867.0H695V867.0H696V867.0H697V867.1H698V867.1H699V867.1H700V867.1H701V872.6H702V872.6H703V872.6H704V872.6H705V872.6H706V872.6H707V872.6H708V876.0H709V876.0H710V876.0H711V875.3H712V875.3H713V875.3H714V875.3H715V875.3H716V875.3H717V877.0H718V877.0H719V877.0H720V878.8H721V880.1H722V880.9H723V880.9H724V880.9H725V880.9H726V880.9H727V883.3H728V882.5H729V878.3H730V878.3H731V878.3H732V878.3H733V878.3H734V878.3H735V882.0H736V882.0H737V882.0H738V882.0H739V882.0H740V883.9H741V883.9H742V883.9H743V883.9H744V887.3H745V887.3H746V887.3H747V888.2H748V886.5H749V886.5H750V886.5H751V886.5H752V886.5H753V889.8H754V889.8H755V889.8H756V889.8H757V892.5H758V892.5H759V892.5H760V892.5H761V892.9H762V892.9H763V892.9H764V892.9H765V893.3H766V893.3H767V893.2H768V893.2H769V893.2H770V893.2H771V893.2H772V895.0H773V895.0H774V892.0H775V892.0H776V892.0H777V892.0H778V892.0H779V896.2H780V896.2H781V896.2H782V896.0H783V896.0H784V892.7H785V892.7H786V892.7H787V892.7H788V892.7H789V894.0H790V894.0H791V894.0H792V894.0H793V894.0H794V894.0H795V897.3H796V897.3H797V897.3H798V894.9H799V894.9H800V894.9H801V894.9H802V894.9H803V894.6H804V894.6H805V894.6H806V894.6H807V894.6H808V897.8H809V898.1H810V896.2H811V895.0H812V895.0H813V893.6H814V893.6H815V893.6H816V893.6H817V893.6H818V895.1H819V892.7H820V888.2H821V882.4H822V882.4H823V875.9H824V873.7H825V860.6H826V855.0H827V846.5H828V846.5H829V846.5H830V846.5H831V846.5H832V846.5H833V846.5H834V846.9H835V853.5H836V862.9H837V863.0H838V868.8H839V874.4H840V882.2H841V885.8H842V885.8H843V888.6H844V893.7H845V893.7H846V893.7H847V897.2H848V894.5H849V894.5H850V894.5H851V894.5H852V894.5H853V894.5H854V896.2H855V896.2H856V896.2H857V896.2H858V896.2H859V896.2H860V897.4H861V893.3H862V893.3H863V893.3H864V893.3H865V893.3H866V894.7H867V894.7H868V896.1H869V897.4H870V897.4H871V897.4H872V898.2H873V898.2H874V898.2H875V898.8H876V897.0H877V897.0H878V896.6H879V896.6H880V896.6H881V896.6H882V896.6H883V895.4H884V895.0H885V895.0H886V895.0H887V895.0H888V895.0H889V895.0H890V896.7H891V894.6H892V894.6H893V894.6H894V894.6H895V894.6H896V894.6H897V896.6H898V896.2H899V896.2H900V896.2H901V893.0H902V893.0H903V893.0H904V893.0H905V893.0H906V893.0H907V894.0H908V897.6H909V897.6H910V895.1H911V895.1H912V895.1H913V895.1H914V895.1H915V895.1H916V896.2H917V896.2H918V896.2H919V894.5H920V894.5H921V894.5H922V894.5H923V894.5H924V894.5H925V895.9H926V895.9H927V893.3H928V892.7H929V892.7H930V889.3H931V889.3H932V889.3H933V889.3H934V889.3H935V889.3H936V895.4H937V891.6H938V891.6H939V891.6H940V891.6H941V891.6H942V891.6H943V891.9H944V891.9H945V891.9H946V891.6H947V889.3H948V889.3H949V889.3H950V889.3H951V889.3H952V889.3H953V890.5H954V890.5H955V890.5H956V890.5H957V890.5H958V890.5H959V891.6H960V891.6H961V891.6H962V891.6H963V891.6H964V891.7H965V893.0H966V896.0H967V894.8H968V893.3H969V893.3H970V893.3H971V893.3H972V893.3H973V893.3H974V892.4H975V892.4H976V892.4H977V892.4H978V892.4H979V893.3H980V893.3H981V893.3H982V893.3H983V893.3H984V884.7H985V884.7H986V884.7H987V884.7H988V884.7H989V884.7H990V889.2H991V884.9H992V884.9H993V884.9H994V884.0H995V884.0H996V884.0H997V884.0H998V882.7H999V882.7H1000V882.7H1001V882.7H1002V882.7H1003V882.7H1004V883.1H1005V881.3H1006V881.3H1007V881.3H1008V881.0H1009V881.0H1010V881.0H1011V881.0H1012V881.0H1013V883.7H1014V883.7H1015V887.6H1016V888.1H1017V888.3H1018V888.3H1019V888.3H1020V889.5H1021V889.5H1022V890.5H1023V890.5H1024V890.5H1025V890.5H1026V890.5H1027V891.8H1028V894.7H1029V894.7H1030V895.1H1031V895.1H1032V895.1H1033V896.0H1034V898.7H1035V898.8H1036V899.1H1037V899.1H1038V901.0H1039V901.0H1040V901.0H1041V901.0H1042V898.8H1043V898.8H1044V898.8H1045V898.8H1046V898.8H1047V898.8H1048V901.6H1049V905.2H1050V905.4H1051V905.4H1052V905.4H1053V905.4H1054V909.7H1055V909.9H1056V910.1H1057V910.1H1058V910.1H1059V909.3H1060V909.3H1061V909.3H1062V909.3H1063V909.3H1064V910.3H1065V910.3H1066V909.8H1067V909.8H1068V909.8H1069V909.8H1070V909.8H1071V909.8H1072V911.6H1073V911.6H1074V911.6H1075V911.6H1076V909.7H1077V909.7H1078V909.7H1079V909.7H1080V909.7H1081V909.7H1082V912.6H1083V912.6H1084V913.0H1085V913.0H1086V913.0H1087V913.0H1088V915.0H1089V915.0H1090V915.0H1091V915.0H1092V915.0H1093V918.4H1094V917.1H1095V917.1H1096V917.1H1097V917.1H1098V916.0H1099V916.0H1100V916.0H1101V916.0H1102V916.0H1103V916.0H1104V918.7H1105V918.7H1106V918.7H1107V919.4H1108V920.7H1109V920.7H1110V920.7H1111V919.4H1112V919.4H1113V919.4H1114V919.4H1115V919.4H1116V919.4H1117V920.1H1118V920.3H1119V920.3H1120V920.1H1121V920.1H1122V920.1H1123V920.1H1124V920.1H1125V920.1H1126V925.8H1127V925.8H1128V925.3H1129V925.3H1130V925.3H1131V925.3H1132V919.5H1133V919.5H1134V919.5H1135V919.5H1136V919.5H1137V923.2H1138V923.2H1139V923.2H1140V923.2H1141V923.2H1142V928.0H1143V928.0H1144V928.0H1145V928.0H1146V928.0H1147V930.3H1148V926.5H1149V926.5H1150V926.5H1151V926.5H1152V926.5H1153V930.0H1154V930.0H1155V930.9H1156V930.9H1157V930.9H1158V930.9H1159V930.9H1160V932.2H1161V932.2H1162V931.9H1163V931.9H1164V931.9H1165V931.9H1166V931.9H1167V931.9H1168V932.1H1169V932.5H1170V932.6H1171V932.6H1172V932.6H1173V932.6H1174V932.6H1175V932.6H1176V934.1H1177V933.6H1178V933.6H1179V933.6H1180V933.2H1181V933.2H1182V933.2H1183V933.2H1184V932.3H1185V932.3H1186V932.3H1187V932.3H1188V932.3H1189V932.3H1190V933.8H1191V933.8H1192V933.8H1193V935.5H1194V935.7H1195V935.7H1196V935.7H1197V935.7H1198V934.4H1199V934.4H1200V934.4H1201V934.4H1202V934.4H1203V933.7H1204V933.7H1205V933.7H1206V933.7H1207V933.7H1208V935.2H1209V935.5H1210V935.8H1211V935.8H1212V935.8H1213V935.8H1214V939.4H1215V939.4H1216V939.4H1217V939.4H1218V939.5H1219V939.5H1220V940.4H1221V940.6H1222V940.5H1223V940.5H1224V937.7H1225V937.7H1226V937.7H1227V937.7H1228V937.7H1229V939.1H1230V939.1H1231V939.1H1232V939.1H1233V942.4H1234V942.4H1235V942.4H1236V939.7H1237V939.7H1238V939.7H1239V939.7H1240V939.7H1241V939.7H1242V943.6H1243V942.0H1244V942.0H1245V942.0H1246V942.0H1247V942.0H1248V942.0H1249V943.5H1250V943.5H1251V943.5H1252V944.1H1253V944.1H1254V944.1H1255V944.7H1256V944.7H1257V944.7H1258V941.2H1259V941.2H1260V941.2H1261V941.2H1262V941.2H1263V940.9H1264V940.9H1265V940.9H1266V940.9H1267V940.9H1268V942.7H1269V942.7H1270V942.7H1271V943.7H1272V943.7H1273V944.8H1274V944.2H1275V944.2H1276V944.2H1277V944.2H1278V943.9H1279V943.9H1280V943.9H1281V943.9H1282V943.9H1283V943.9H1284V945.0H1285V944.4H1286V944.4H1287V944.4H1288V944.4H1289V944.4H1290V946.0H1291V945.9H1292V945.9H1293V945.9H1294V945.9H1295V945.9H1296V945.8H1297V945.8H1298V945.8H1299V945.8H1300V945.8H1301V945.8H1302V946.0H1303V946.0H1304V944.4H1305V944.4H1306V944.4H1307V944.4H1308V944.4H1309V945.9H1310V945.9H1311V945.9H1312V945.9H1313V945.9H1314V946.3H1315V946.3H1316V948.2H1317V947.7H1318V947.7H1319V947.0H1320V947.0H1321V947.0H1322V947.0H1323V947.0H1324V946.8H1325V946.8H1326V946.8H1327V946.8H1328V946.8H1329V946.8H1330V950.2H1331V948.8H1332V948.8H1333V948.8H1334V948.7H1335V948.7H1336V948.7H1337V948.7H1338V948.7H1339V950.2H1340V950.1H1341V950.1H1342V950.1H1343V950.1H1344V950.1H1345V950.5H1346V950.5H1347V950.5H1348V950.9H1349V950.9H1350V950.9H1351V950.9H1352V950.9H1353V951.1H1354V951.1H1355V948.3H1356V948.3H1357V948.3H1358V948.3H1359V948.3H1360V949.6H1361V945.5H1362V945.5H1363V945.5H1364V945.5H1365V945.5H1366V949.6H1367V949.6H1368V949.6H1369V950.5H1370V950.5H1371V951.8H1372V949.5H1373V949.5H1374V949.5H1375V949.5H1376V949.5H1377V952.4H1378V953.5H1379V951.0H1380V951.0H1381V951.0H1382V951.0H1383V951.0H1384V951.5H1385V951.5H1386V951.5H1387V951.2H1388V951.2H1389V951.2H1390V951.2H1391V951.2H1392V951.2H1393V954.3H1394V954.3H1395V950.9H1396V950.9H1397V950.9H1398V950.9H1399V950.9H1400V953.1H1401V953.1H1402V953.1H1403V953.1H1404V953.1H1405V953.6H1406V953.3H1407V953.3H1408V953.3H1409V953.3H1410V953.3H1411V953.3H1412V954.4H1413V954.4H1414V954.4H1415V953.8H1416V953.8H1417V953.8H1418V953.8H1419V953.8H1420V953.8H1421V953.9H1422V953.9H1423V953.9H1424V954.3H1425V954.3H1426V954.3H1427V955.7H1428V955.7H1429V957.6H1430V957.6H1431V957.6H1432V957.6H1433V957.2H1434V957.2H1435V957.2H1436V956.8H1437V956.8H1438V956.8H1439V956.8H1440V956.3H1441V954.5H1442V954.5H1443V954.5H1444V954.5H1445V954.5H1446V954.5H1447V957.2H1448V956.5H1449V956.5H1450V956.5H1451V956.5H1452V956.4H1453V956.4H1454V956.4H1455V956.4H1456V956.2H1457V956.2H1458V956.2H1459V956.2H1460V956.2H1461V956.2H1462V958.7H1463V958.7H1464V958.7H1465V958.7H1466V959.7H1467V959.7H1468V958.2H1469V958.2H1470V958.2H1471V958.2H1472V958.2H1473V958.2H1474V958.9H1475V958.9H1476V958.9H1477V959.2H1478V959.5H1479V959.5H1480V959.5H1481V960.0H1482V958.7H1483V958.7H1484V958.7H1485V957.8H1486V957.8H1487V957.8H1488V957.8H1489V957.8H1490V957.8H1491V958.5H1492V958.5H1493V958.1H1494V958.1H1495V958.1H1496V958.1H1497V958.1H1498V958.1H1499V957.9H1500V957.9H1501V957.9H1502V957.9H1503V957.9H1504V959.4H1505V959.4H1506V960.1H1507V960.1H1508V960.1H1509V960.1H1510V960.1H1511V960.8H1512V961.4H1513V960.3H1514V960.3H1515V960.3H1516V960.3H1517V957.7H1518V957.2H1519V957.2H1520V957.2H1521V957.2H1522V957.2H1523V961.4H1524V961.4H1525V961.6H1526V962.3H1527V961.5H1528V961.5H1529V961.5H1530V961.5H1531V961.5H1532V962.8H1533V962.8H1534V960.1H1535V960.1H1536V960.1H1537V960.1H1538V960.1H1539V960.1H1540V963.0H1541V963.0H1542V960.8H1543V960.8H1544V960.8H1545V960.8H1546V960.8H1547V960.8H1548V962.0H1549V962.0H1550V962.0H1551V962.0H1552V963.2H1553V963.2H1554V963.2H1555V963.2H1556V962.1H1557V961.8H1558V961.8H1559V961.8H1560V961.8H1561V961.8H1562V962.9H1563V962.9H1564V962.9H1565V962.9H1566V963.1H1567V963.1H1568V963.1H1569V963.5H1570V963.5H1571V963.5H1572V964.2H1573V963.2H1574V963.2H1575V963.2H1576V961.0H1577V961.0H1578V961.0H1579V961.0H1580V961.0H1581V961.0H1582V961.4H1583V959.3H1584V959.3H1585V959.3H1586V959.3H1587V959.3H1588V959.3H1589V959.5H1590V960.4H1591V960.4H1592V960.4H1593V960.4H1594V960.7H1595V960.7H1596V960.7H1597V960.7H1598V960.7H1599V963.1H1600V963.1H1601V963.1H1602V963.1H1603V963.1H1604V963.1H1605V964.9H1606V964.8H1607V964.8H1608V964.8H1609V964.8H1610V962.6H1611V962.6H1612V962.6H1613V962.6H1614V962.6H1615V962.6H1616V965.2H1617V966.9H1618V966.9H1619V967.7H1620V967.7H1621V966.5H1622V966.5H1623V966.5H1624V966.5H1625V966.5H1626V966.5H1627V966.5H1628V966.5H1629V966.5H1630V966.5H1631V966.5H1632V967.7H1633V967.7H1634V967.7H1635V967.7H1636V966.4H1637V966.4H1638V966.4H1639V966.4H1640V966.4H1641V966.4H1642V967.7H1643V967.6H1644V967.6H1645V967.6H1646V967.4H1647V967.4H1648V967.4H1649V967.4H1650V966.3H1651V966.1H1652V966.1H1653V966.1H1654V966.1H1655V966.1H1656V967.2H1657V965.7H1658V965.7H1659V965.7H1660V965.7H1661V965.7H1662V967.1H1663V967.1H1664V967.8H1665V967.9H1666V967.9H1667V967.9H1668V967.9H1669V967.2H1670V967.2H1671V967.2H1672V967.2H1673V967.2H1674V970.0H1675V970.0H1676V970.0H1677V968.7H1678V968.7H1679V968.7H1680V968.7H1681V968.7H1682V968.7H1683V969.4H1684V969.4H1685V970.0H1686V970.0H1687V970.0H1688V970.0H1689V970.0H1690V970.0H1691V969.7H1692V967.5H1693V967.5H1694V967.5H1695V967.5H1696V967.5H1697V972.3H1698V969.6H1699V969.0H1700V969.0H1701V969.0H1702V969.0H1703V969.0H1704V969.0H1705V970.0H1706V968.8H1707V968.8H1708V968.8H1709V968.8H1710V967.4H1711V967.4H1712V967.4H1713V967.4H1714V967.4H1715V967.4H1716V969.0H1717V969.0H1718V969.0H1719V967.8H1720V967.8H1721V967.8H1722V967.8H1723V967.8H1724V967.8H1725V969.3H1726V968.4H1727V968.4H1728V968.4H1729V968.4H1730V968.4H1731V968.4H1732V970.6H1733V970.6H1734V971.2H1735V971.2H1736V971.2H1737V971.2H1738V971.2H1739V970.7H1740V970.7H1741V970.7H1742V970.7H1743V970.7H1744V971.0H1745V971.0H1746V971.0H1747V971.0H1748V971.5H1749V971.5H1750V971.5H1751V971.5H1752V971.0H1753V971.0H1754V971.0H1755V971.0H1756V971.0H1757V972.5H1758V972.5H1759V970.3H1760V970.3H1761V970.3H1762V970.3H1763V970.3H1764V970.3H1765V970.5H1766V971.2H1767V970.8H1768V970.8H1769V970.8H1770V970.8H1771V970.8H1772V970.8H1773V971.6H1774V971.6H1775V971.6H1776V971.6H1777V971.6H1778V971.6H1779V972.6H1780V972.6H1781V972.6H1782V972.6H1783V972.6H1784V972.9H1785V973.9H1786V973.9H1787V971.6H1788V971.6H1789V971.6H1790V971.6H1791V971.6H1792V971.6H1793V972.3H1794V972.3H1795V973.3H1796V973.3H1797V973.3H1798V973.4H1799V973.4H1800V971.8H1801V970.6H1802V970.6H1803V970.6H1804V970.6H1805V970.6H1806V970.8H1807V970.8H1808V970.8H1809V970.8H1810V970.8H1811V970.8H1812V972.7H1813V972.7H1814V972.7H1815V972.7H1816V971.7H1817V971.7H1818V971.7H1819V971.7H1820V971.1H1821V971.1H1822V971.1H1823V971.1H1824V971.1H1825V973.8H1826V974.1H1827V974.1H1828V973.2H1829V973.2H1830V973.2H1831V973.2H1832V973.2H1833V973.2H1834V973.9H1835V973.9H1836V974.0H1837V974.0H1838V973.6H1839V973.6H1840V973.6H1841V973.6H1842V973.6H1843V973.6H1844V973.8H1845V973.8H1846V973.8H1847V973.8H1848V973.9H1849V973.9H1850V973.9H1851V974.1H1852V974.3H1853V974.3H1854V971.3H1855V971.3H1856V971.3H1857V971.3H1858V971.3H1859V972.8H1860V972.8H1861V972.8H1862V972.8H1863V972.8H1864V973.5H1865V973.5H1866V974.4H1867V974.4H1868V974.4H1869V974.4H1870V974.4H1871V974.4H1872V974.4H1873V974.4H1874V971.7H1875V971.7H1876V971.7H1877V971.7H1878V971.7H1879V972.5H1880V972.5H1881V970.5H1882V970.5H1883V970.5H1884V970.5H1885V970.5H1886V970.5H1887V971.9H1888V971.9H1889V971.9H1890V971.9H1891V970.5H1892V970.5H1893V970.5H1894V970.5H1895V970.5H1896V971.7H1897V971.7H1898V971.7H1899V971.7H1900V971.8H1901V971.8H1902V971.8H1903V971.8H1904V973.4H1905V973.0H1906V973.0H1907V973.0H1908V973.0H1909V973.0H1910V974.1H1911V974.1H1912V974.1H1913V974.0H1914V974.0H1915V972.2H1916V972.2H1917V972.2H1918V970.9H1919V970.9H1920V970.9H1921V970.9H1922V970.9H1923V973.1H1924V973.1H1925V973.1H1926V973.1H1927V973.1H1928V973.1H1929V972.2H1930V972.2H1931V968.4H1932V968.4H1933V968.4H1934V968.4H1935V968.4H1936V968.4H1937V970.8H1938V971.3H1939V971.3H1940V971.3H1941V971.3H1942V971.3H1943V971.3H1944V971.7H1945V971.7H1946V971.6H1947V968.5H1948V968.5H1949V968.5H1950V968.5H1951V968.5H1952V968.5H1953V967.2H1954V967.1H1955V967.1H1956V966.1H1957V966.1H1958V966.1H1959V966.1H1960V966.1H1961V966.1H1962V967.1H1963V967.1H1964V967.1H1965V967.1H1966V967.1H1967V968.7H1968V969.7H1969V969.7H1970V970.0H1971V970.0H1972V970.0H1973V970.0H1974V970.5H1975V971.4H1976V970.8H1977V970.8H1978V970.8H1979V970.8H1980V970.8H1981V970.8H1982V971.2H1983V972.2H1984V968.4H1985V968.4H1986V968.4H1987V968.4H1988V968.4H1989V971.2H1990V971.2H1991V970.5H1992V970.5H1993V970.5H1994V970.5H1995V970.5H1996V972.6H1997V972.6H1998V972.6H1999V972.6H2000V972.1H2001V972.1H2002V972.1H2003V972.1H2004V972.1H2005V972.1H2006V972.9H2007V972.3H2008V972.3H2009V972.3H2010V972.3H2011V972.3H2012V973.5H2013V973.5H2014V973.5H2015V973.5H2016V973.3H2017V971.9H2018V971.9H2019V971.9H2020V971.9H2021V971.9H2022V971.9H2023V974.7H2024V974.7H2025V974.7H2026V974.7H2027V974.7H2028V976.0H2029V976.0H2030V976.0H2031V976.5H2032V984.1H2031V984.1H2030V985.7H2029V985.7H2028V985.7H2027V985.7H2026V985.7H2025V985.7H2024V985.7H2023V985.7H2022V985.7H2021V985.3H2020V985.3H2019V985.3H2018V985.3H2017V985.3H2016V985.1H2015V985.1H2014V984.3H2013V984.3H2012V984.3H2011V984.3H2010V984.3H2009V984.3H2008V984.3H2007V984.3H2006V984.3H2005V984.3H2004V984.3H2003V984.3H2002V983.1H2001V983.1H2000V983.1H1999V983.1H1998V982.5H1997V982.5H1996V982.5H1995V982.4H1994V982.5H1993V982.5H1992V982.5H1991V982.5H1990V982.5H1989V981.7H1988V981.7H1987V981.7H1986V984.3H1985V984.3H1984V984.3H1983V984.3H1982V984.3H1981V980.2H1980V980.2H1979V980.9H1978V981.4H1977V981.9H1976V981.9H1975V981.9H1974V981.9H1973V981.9H1972V981.9H1971V978.4H1970V981.0H1969V981.0H1968V981.0H1967V981.0H1966V981.0H1965V981.0H1964V980.0H1963V980.0H1962V980.0H1961V980.0H1960V977.7H1959V977.7H1958V980.0H1957V980.0H1956V980.0H1955V980.0H1954V980.0H1953V980.0H1952V981.0H1951V981.1H1950V981.1H1949V981.1H1948V981.1H1947V981.1H1946V981.1H1945V981.3H1944V981.3H1943V981.3H1942V981.9H1941V982.7H1940V982.7H1939V983.4H1938V983.4H1937V983.4H1936V983.4H1935V983.4H1934V983.2H1933V983.4H1932V983.4H1931V983.4H1930V983.4H1929V983.4H1928V983.4H1927V982.9H1926V984.9H1925V984.9H1924V984.9H1923V984.9H1922V984.9H1921V984.6H1920V984.6H1919V983.2H1918V983.3H1917V983.3H1916V983.3H1915V983.3H1914V983.7H1913V983.7H1912V983.7H1911V983.7H1910V983.8H1909V983.8H1908V983.8H1907V983.8H1906V983.8H1905V983.8H1904V983.8H1903V983.8H1902V983.8H1901V983.3H1900V984.0H1899V984.0H1898V984.0H1897V984.0H1896V984.0H1895V984.0H1894V986.2H1893V986.2H1892V986.2H1891V986.2H1890V986.2H1889V982.8H1888V983.9H1887V983.9H1886V983.9H1885V983.9H1884V986.5H1883V986.5H1882V986.5H1881V986.5H1880V986.5H1879V986.5H1878V984.9H1877V984.9H1876V984.9H1875V984.9H1874V984.9H1873V982.7H1872V982.7H1871V982.7H1870V982.7H1869V982.7H1868V984.4H1867V984.4H1866V984.4H1865V984.4H1864V984.4H1863V984.4H1862V983.8H1861V983.8H1860V983.8H1859V983.8H1858V982.8H1857V982.8H1856V982.8H1855V983.0H1854V983.0H1853V984.7H1852V984.7H1851V984.7H1850V984.7H1849V984.7H1848V984.7H1847V983.4H1846V983.4H1845V983.4H1844V983.4H1843V983.4H1842V983.4H1841V982.1H1840V982.6H1839V983.3H1838V983.3H1837V983.3H1836V986.9H1835V986.9H1834V986.9H1833V986.9H1832V986.9H1831V986.9H1830V983.0H1829V983.0H1828V982.2H1827V983.9H1826V983.9H1825V983.9H1824V983.9H1823V983.9H1822V983.9H1821V983.2H1820V983.2H1819V983.8H1818V983.8H1817V983.8H1816V983.8H1815V985.0H1814V985.1H1813V985.1H1812V985.1H1811V985.1H1810V985.4H1809V985.4H1808V985.4H1807V985.4H1806V985.4H1805V985.4H1804V983.1H1803V983.0H1802V984.8H1801V984.8H1800V984.8H1799V984.8H1798V984.8H1797V984.8H1796V981.9H1795V981.9H1794V982.5H1793V982.5H1792V982.5H1791V982.7H1790V982.7H1789V982.7H1788V982.7H1787V982.7H1786V983.3H1785V983.3H1784V983.3H1783V985.1H1782V985.1H1781V985.1H1780V985.1H1779V985.1H1778V981.2H1777V981.2H1776V983.2H1775V983.2H1774V983.2H1773V983.2H1772V983.2H1771V983.0H1770V983.3H1769V983.3H1768V983.3H1767V983.3H1766V983.3H1765V983.3H1764V983.0H1763V983.0H1762V984.1H1761V984.1H1760V984.1H1759V984.1H1758V984.1H1757V984.1H1756V981.5H1755V980.7H1754V980.7H1753V980.7H1752V980.7H1751V980.7H1750V980.7H1749V980.9H1748V980.9H1747V980.9H1746V980.9H1745V980.9H1744V980.2H1743V980.6H1742V981.7H1741V981.7H1740V983.7H1739V983.7H1738V983.7H1737V983.7H1736V986.0H1735V986.0H1734V986.0H1733V986.0H1732V986.0H1731V986.0H1730V984.6H1729V984.6H1728V982.7H1727V982.7H1726V982.7H1725V982.7H1724V982.7H1723V982.7H1722V980.7H1721V980.7H1720V980.7H1719V980.7H1718V978.9H1717V978.9H1716V980.1H1715V980.7H1714V980.7H1713V980.7H1712V980.7H1711V980.7H1710V979.5H1709V979.5H1708V979.9H1707V981.4H1706V981.4H1705V981.4H1704V981.4H1703V981.4H1702V981.4H1701V980.6H1700V980.6H1699V980.6H1698V980.2H1697V980.2H1696V980.2H1695V980.0H1694V980.0H1693V980.0H1692V980.3H1691V980.3H1690V980.3H1689V980.3H1688V980.3H1687V980.3H1686V980.3H1685V980.3H1684V980.8H1683V980.8H1682V980.8H1681V980.8H1680V980.8H1679V980.8H1678V978.8H1677V978.8H1676V978.9H1675V978.9H1674V979.1H1673V979.1H1672V981.1H1671V981.1H1670V981.1H1669V981.1H1668V981.1H1667V981.1H1666V981.1H1665V981.1H1664V977.9H1663V977.9H1662V977.9H1661V980.2H1660V980.2H1659V980.2H1658V980.2H1657V980.2H1656V980.2H1655V977.7H1654V977.7H1653V979.7H1652V979.7H1651V979.7H1650V979.7H1649V979.7H1648V979.2H1647V979.2H1646V979.2H1645V979.2H1644V979.2H1643V977.3H1642V977.8H1641V977.8H1640V977.8H1639V977.8H1638V979.5H1637V979.5H1636V979.5H1635V979.5H1634V979.5H1633V979.5H1632V977.9H1631V977.9H1630V977.1H1629V975.6H1628V976.5H1627V976.5H1626V976.5H1625V976.5H1624V976.6H1623V976.6H1622V977.5H1621V977.5H1620V977.5H1619V977.5H1618V977.5H1617V978.5H1616V978.5H1615V978.5H1614V978.5H1613V978.5H1612V978.5H1611V976.7H1610V977.4H1609V977.4H1608V977.4H1607V977.4H1606V977.4H1605V976.6H1604V976.6H1603V976.6H1602V974.5H1601V974.5H1600V972.6H1599V972.6H1598V972.6H1597V972.6H1596V971.7H1595V973.6H1594V973.6H1593V973.6H1592V973.6H1591V973.6H1590V973.6H1589V972.9H1588V972.9H1587V971.3H1586V971.3H1585V971.3H1584V971.3H1583V973.3H1582V973.3H1581V973.3H1580V976.0H1579V976.0H1578V976.0H1577V976.0H1576V976.0H1575V974.5H1574V974.5H1573V974.5H1572V974.5H1571V976.2H1570V976.2H1569V976.2H1568V976.2H1567V976.2H1566V976.2H1565V975.4H1564V975.4H1563V975.4H1562V975.4H1561V975.4H1560V975.4H1559V972.6H1558V973.2H1557V973.2H1556V973.2H1555V973.2H1554V973.2H1553V973.2H1552V972.8H1551V972.8H1550V972.8H1549V974.1H1548V974.1H1547V974.4H1546V974.4H1545V974.4H1544V974.4H1543V974.8H1542V974.8H1541V974.8H1540V974.8H1539V974.8H1538V973.8H1537V972.5H1536V972.3H1535V972.3H1534V973.3H1533V973.5H1532V973.5H1531V973.5H1530V973.5H1529V973.5H1528V972.0H1527V972.4H1526V972.4H1525V972.4H1524V972.4H1523V972.4H1522V972.3H1521V972.3H1520V971.2H1519V971.2H1518V971.2H1517V971.2H1516V971.0H1515V973.8H1514V973.8H1513V973.8H1512V973.8H1511V973.8H1510V973.5H1509V972.5H1508V973.1H1507V973.1H1506V973.1H1505V973.1H1504V973.7H1503V973.7H1502V973.7H1501V973.7H1500V973.7H1499V973.7H1498V972.3H1497V972.3H1496V972.3H1495V974.1H1494V974.1H1493V974.1H1492V974.1H1491V974.1H1490V973.3H1489V973.3H1488V973.3H1487V973.3H1486V973.3H1485V971.8H1484V971.8H1483V969.4H1482V969.2H1481V969.2H1480V970.1H1479V970.1H1478V970.1H1477V970.1H1476V970.1H1475V970.1H1474V969.8H1473V969.8H1472V969.2H1471V969.7H1470V969.7H1469V969.7H1468V969.7H1467V969.7H1466V969.7H1465V970.3H1464V970.3H1463V970.3H1462V970.3H1461V970.3H1460V970.3H1459V969.7H1458V969.7H1457V969.7H1456V969.7H1455V969.7H1454V967.0H1453V966.3H1452V969.3H1451V969.3H1450V969.3H1449V969.3H1448V969.3H1447V969.1H1446V969.1H1445V969.1H1444V968.1H1443V970.2H1442V970.2H1441V970.2H1440V970.2H1439V970.2H1438V970.2H1437V967.9H1436V969.7H1435V969.7H1434V969.7H1433V969.7H1432V969.7H1431V969.7H1430V967.6H1429V968.0H1428V968.0H1427V968.0H1426V968.0H1425V968.0H1424V968.0H1423V967.6H1422V967.6H1421V967.6H1420V965.7H1419V965.7H1418V965.7H1417V965.7H1416V965.0H1415V965.0H1414V965.0H1413V965.0H1412V964.4H1411V965.5H1410V965.5H1409V965.5H1408V965.5H1407V965.5H1406V966.1H1405V966.1H1404V966.1H1403V966.1H1402V966.1H1401V966.1H1400V965.6H1399V965.6H1398V965.6H1397V964.3H1396V964.7H1395V966.3H1394V966.3H1393V966.3H1392V966.3H1391V966.3H1390V966.3H1389V964.3H1388V963.0H1387V962.2H1386V963.3H1385V964.4H1384V964.4H1383V964.4H1382V964.4H1381V964.4H1380V964.3H1379V964.3H1378V962.8H1377V962.8H1376V960.6H1375V965.0H1374V965.0H1373V965.0H1372V965.0H1371V965.0H1370V965.0H1369V961.1H1368V961.1H1367V961.1H1366V961.1H1365V965.6H1364V965.6H1363V965.6H1362V965.6H1361V965.6H1360V966.0H1359V966.0H1358V966.0H1357V966.0H1356V966.0H1355V966.0H1354V963.8H1353V963.8H1352V961.9H1351V961.9H1350V961.9H1349V961.9H1348V961.8H1347V961.8H1346V959.9H1345V959.9H1344V960.1H1343V960.1H1342V960.1H1341V960.1H1340V960.1H1339V960.1H1338V960.0H1337V960.0H1336V960.0H1335V960.0H1334V960.7H1333V960.7H1332V960.9H1331V960.9H1330V960.9H1329V962.0H1328V962.0H1327V962.0H1326V962.0H1325V962.0H1324V959.8H1323V959.8H1322V958.0H1321V958.0H1320V958.0H1319V958.0H1318V958.0H1317V957.6H1316V956.8H1315V956.8H1314V956.8H1313V958.2H1312V958.2H1311V958.2H1310V958.2H1309V958.2H1308V957.3H1307V957.3H1306V957.3H1305V956.5H1304V956.5H1303V956.7H1302V956.7H1301V956.7H1300V956.7H1299V956.7H1298V959.5H1297V959.5H1296V959.5H1295V959.5H1294V959.5H1293V959.5H1292V956.2H1291V956.2H1290V956.2H1289V956.2H1288V955.5H1287V955.5H1286V955.5H1285V955.5H1284V957.2H1283V957.2H1282V957.2H1281V957.2H1280V957.2H1279V954.4H1278V957.1H1277V957.1H1276V957.1H1275V957.1H1274V957.1H1273V956.2H1272V959.2H1271V959.2H1270V959.2H1269V959.2H1268V959.2H1267V959.2H1266V956.4H1265V956.4H1264V956.4H1263V956.4H1262V956.2H1261V956.2H1260V956.2H1259V958.2H1258V958.2H1257V958.2H1256V958.2H1255V958.2H1254V958.2H1253V956.2H1252V956.2H1251V956.2H1250V956.2H1249V956.2H1248V956.2H1247V954.9H1246V954.9H1245V954.9H1244V954.3H1243V954.3H1242V954.3H1241V954.3H1240V954.1H1239V954.8H1238V954.8H1237V954.8H1236V954.8H1235V954.8H1234V952.0H1233V952.0H1232V952.0H1231V952.0H1230V952.0H1229V952.0H1228V952.0H1227V952.0H1226V949.8H1225V949.8H1224V949.7H1223V949.7H1222V949.1H1221V950.1H1220V950.7H1219V951.3H1218V951.8H1217V951.8H1216V951.8H1215V951.8H1214V951.8H1213V951.6H1212V951.6H1211V951.6H1210V951.6H1209V951.6H1208V951.6H1207V955.1H1206V955.1H1205V955.1H1204V955.1H1203V955.1H1202V955.1H1201V949.0H1200V948.4H1199V948.4H1198V950.4H1197V950.4H1196V950.4H1195V950.4H1194V950.4H1193V947.9H1192V947.9H1191V947.9H1190V946.6H1189V948.2H1188V948.2H1187V948.2H1186V948.2H1185V948.5H1184V949.1H1183V949.1H1182V949.1H1181V949.1H1180V952.1H1179V952.1H1178V952.1H1177V952.1H1176V952.1H1175V946.6H1174V946.6H1173V946.6H1172V946.6H1171V946.6H1170V946.6H1169V946.6H1168V946.6H1167V945.6H1166V945.3H1165V945.3H1164V945.3H1163V945.3H1162V942.9H1161V942.9H1160V942.6H1159V942.6H1158V942.6H1157V942.6H1156V942.6H1155V941.6H1154V941.6H1153V941.6H1152V941.6H1151V941.0H1150V941.4H1149V941.4H1148V941.4H1147V941.4H1146V941.4H1145V939.8H1144V939.8H1143V939.8H1142V939.3H1141V939.3H1140V938.3H1139V937.9H1138V937.9H1137V937.9H1136V937.9H1135V939.8H1134V939.8H1133V939.8H1132V939.8H1131V939.8H1130V937.4H1129V937.4H1128V937.4H1127V936.7H1126V936.7H1125V936.7H1124V934.3H1123V934.3H1122V934.3H1121V934.3H1120V934.3H1119V933.7H1118V933.7H1117V932.7H1116V933.9H1115V933.9H1114V933.9H1113V933.9H1112V933.9H1111V933.2H1110V933.2H1109V933.2H1108V934.8H1107V934.8H1106V934.8H1105V934.8H1104V934.8H1103V934.8H1102V930.4H1101V930.4H1100V930.4H1099V930.4H1098V932.2H1097V932.2H1096V932.2H1095V932.2H1094V932.2H1093V932.2H1092V930.6H1091V930.6H1090V928.6H1089V928.6H1088V928.0H1087V928.0H1086V926.5H1085V926.5H1084V927.5H1083V927.5H1082V927.5H1081V927.5H1080V927.5H1079V927.5H1078V923.5H1077V924.7H1076V924.7H1075V924.7H1074V924.7H1073V924.7H1072V922.7H1071V922.7H1070V923.5H1069V923.5H1068V923.5H1067V923.5H1066V923.5H1065V923.5H1064V922.4H1063V921.5H1062V922.9H1061V922.9H1060V922.9H1059V922.9H1058V922.9H1057V921.9H1056V921.9H1055V921.9H1054V921.9H1053V921.6H1052V921.6H1051V921.6H1050V919.2H1049V919.2H1048V919.2H1047V916.9H1046V916.9H1045V914.7H1044V914.7H1043V914.7H1042V914.7H1041V913.8H1040V915.1H1039V915.1H1038V915.1H1037V915.1H1036V915.1H1035V913.6H1034V913.6H1033V913.6H1032V910.5H1031V910.5H1030V910.5H1029V909.8H1028V906.1H1027V906.1H1026V906.1H1025V906.1H1024V906.1H1023V905.0H1022V905.0H1021V905.0H1020V902.1H1019V902.1H1018V902.1H1017V900.5H1016V899.2H1015V899.2H1014V899.2H1013V898.0H1012V897.9H1011V897.9H1010V897.9H1009V897.9H1008V898.1H1007V898.1H1006V898.2H1005V898.2H1004V898.2H1003V898.2H1002V898.2H1001V901.9H1000V901.9H999V901.9H998V901.9H997V901.9H996V901.9H995V901.5H994V901.5H993V901.5H992V907.2H991V907.2H990V909.5H989V909.5H988V909.5H987V909.5H986V909.5H985V909.5H984V904.2H983V904.2H982V904.6H981V904.6H980V904.6H979V910.7H978V910.7H977V910.7H976V910.7H975V910.7H974V910.7H973V909.5H972V909.5H971V909.5H970V909.5H969V909.5H968V908.1H967V908.1H966V907.4H965V907.4H964V907.4H963V907.4H962V905.2H961V905.2H960V906.5H959V906.5H958V906.5H957V906.5H956V906.5H955V905.9H954V905.9H953V905.9H952V905.9H951V906.3H950V906.3H949V906.3H948V906.3H947V906.3H946V906.3H945V903.2H944V906.7H943V906.7H942V906.7H941V906.7H940V906.7H939V906.7H938V905.8H937V905.8H936V905.1H935V909.0H934V909.0H933V909.0H932V909.0H931V909.0H930V909.0H929V906.6H928V908.6H927V908.6H926V908.6H925V908.6H924V908.6H923V908.6H922V907.8H921V907.8H920V907.8H919V907.8H918V907.7H917V907.7H916V907.7H915V907.9H914V907.9H913V907.9H912V910.1H911V910.1H910V910.1H909V910.1H908V910.1H907V910.1H906V907.5H905V907.5H904V907.5H903V908.5H902V909.5H901V909.5H900V909.6H899V909.6H898V909.6H897V909.6H896V909.6H895V909.6H894V912.4H893V912.4H892V912.4H891V912.4H890V912.4H889V909.3H888V910.5H887V913.0H886V913.0H885V913.0H884V913.0H883V913.0H882V910.9H881V910.9H880V910.9H879V910.9H878V910.9H877V909.4H876V910.1H875V910.1H874V910.1H873V913.0H872V913.0H871V916.7H870V916.7H869V916.7H868V916.7H867V916.7H866V911.1H865V911.1H864V911.1H863V911.1H862V910.0H861V910.0H860V910.0H859V911.5H858V911.5H857V911.5H856V911.5H855V911.5H854V910.8H853V910.8H852V910.8H851V910.8H850V908.0H849V910.4H848V910.4H847V910.4H846V910.4H845V910.4H844V910.4H843V906.9H842V905.5H841V905.5H840V905.5H839V900.0H838V895.9H837V895.9H836V889.5H835V881.7H834V873.3H833V871.6H832V867.4H831V870.3H830V878.5H829V882.2H828V889.3H827V893.9H826V900.0H825V900.0H824V907.4H823V907.5H822V907.5H821V907.5H820V907.5H819V907.5H818V908.0H817V908.0H816V908.2H815V908.2H814V908.2H813V908.2H812V908.2H811V908.2H810V906.7H809V906.7H808V907.4H807V907.4H806V911.6H805V911.6H804V911.6H803V911.6H802V911.6H801V912.5H800V912.5H799V912.5H798V912.5H797V912.5H796V912.5H795V911.9H794V911.9H793V910.9H792V908.9H791V908.9H790V908.9H789V908.9H788V912.3H787V912.3H786V912.3H785V912.3H784V912.3H783V912.3H782V909.0H781V911.6H780V911.6H779V911.6H778V911.6H777V911.6H776V911.6H775V910.7H774V908.4H773V908.7H772V908.7H771V908.7H770V908.7H769V908.7H768V905.7H767V905.7H766V905.7H765V907.1H764V907.1H763V907.1H762V907.1H761V907.1H760V907.1H759V903.5H758V907.9H757V907.9H756V907.9H755V907.9H754V907.9H753V907.9H752V905.2H751V905.2H750V902.8H749V904.0H748V904.0H747V904.0H746V904.0H745V904.0H744V904.0H743V904.0H742V904.0H741V904.0H740V903.1H739V903.1H738V903.1H737V903.1H736V899.6H735V899.6H734V899.8H733V899.8H732V899.8H731V899.8H730V899.8H729V895.8H728V895.8H727V895.5H726V896.1H725V896.1H724V896.1H723V896.1H722V896.1H721V896.1H720V893.9H719V894.8H718V894.8H717V894.8H716V894.8H715V894.8H714V893.7H713V893.3H712V893.3H711V893.3H710V893.3H709V893.3H708V892.8H707V892.8H706V889.4H705V889.4H704V889.4H703V889.4H702V889.4H701V888.4H700V888.5H699V888.5H698V888.5H697V888.5H696V888.5H695V888.5H694V883.4H693V883.4H692V883.4H691V883.4H690V881.7H689V881.7H688V879.4H687V879.4H686V879.4H685V878.5H684V878.5H683V878.5H682V878.5H681V878.0H680V877.1H679V876.3H678V877.2H677V877.2H676V877.2H675V877.2H674V877.2H673V876.7H672V876.7H671V876.7H670V875.6H669V875.6H668V875.6H667V869.1H666V869.1H665V869.1H664V869.1H663V869.1H662V866.7H661V866.7H660V866.7H659V866.7H658V866.7H657V866.3H656V866.3H655V866.9H654V866.9H653V866.9H652V866.9H651V866.9H650V866.9H649V860.7H648V860.7H647V860.4H646V860.4H645V860.4H644V858.0H643V857.5H642V855.7H641V856.8H640V857.1H639V857.1H638V857.1H637V857.1H636V857.1H635V853.3H634V853.3H633V852.4H632V851.2H631V851.2H630V849.7H629V853.4H628V853.4H627V853.4H626V853.4H625V853.4H624V852.6H623V846.8H622V845.8H621V845.8H620V843.8H619V843.8H618V843.8H617V841.6H616V841.6H615V841.6H614V840.7H613V840.7H612V840.7H611V840.7H610V838.7H609V838.7H608V838.7H607V838.7H606V838.5H605V838.5H604V838.5H603V838.5H602V838.5H601V831.1H600V831.1H599V831.0H598V831.0H597V831.0H596V831.0H595V831.0H594V827.9H593V825.0H592V828.7H591V828.7H590V828.7H589V828.7H588V828.7H587V822.1H586V822.1H585V821.1H584V821.1H583V821.1H582V819.6H581V819.6H580V819.6H579V816.6H578V813.2H577V811.1H576V811.1H575V810.4H574V811.5H573V811.5H572V811.5H571V811.5H570V811.5H569V811.5H568V805.9H567V805.9H566V805.9H565V805.9H564V805.9H563V805.9H562V800.2H561V804.8H560V804.8H559V804.8H558V804.8H557V804.8H556V804.8H555V796.1H554V793.6H553V793.6H552V793.6H551V791.7H550V791.7H549V791.7H548V791.7H547V791.7H546V784.8H545V784.8H544V784.6H543V784.6H542V784.6H541V784.6H540V784.6H539V775.0H538V773.9H537V773.9H536V777.1H535V777.1H534V777.1H533V777.1H532V777.1H531V777.1H530V768.2H529V768.2H528V766.7H527V761.1H526V760.1H525V760.1H524V760.1H523V760.1H522V758.9H521V758.9H520V758.9H519V758.9H518V758.9H517V757.2H516V744.8H515V744.5H514V743.3H513V743.3H512V742.2H511V739.5H510V739.5H509V739.5H508V736.0H507V734.4H506V731.8H505V731.8H504V731.8H503V733.4H502V733.4H501V733.4H500V733.4H499V733.4H498V733.4H497V719.4H496V717.0H495V717.0H494V713.0H493V713.0H492V713.0H491V710.6H490V710.6H489V710.6H488V710.1H487V710.1H486V701.0H485V701.0H484V701.0H483V701.0H482V695.9H481V695.9H480V692.4H479V692.4H478V691.4H477V691.4H476V691.4H475V691.4H474V691.4H473V691.4H472V683.2H471V683.2H470V681.2H469V681.2H468V681.2H467V681.2H466V676.0H465V676.0H464V671.5H463V671.5H462V670.4H461V670.4H460V676.1H459V676.1H458V676.1H457V676.1H456V676.1H455V666.6H454V663.3H453V663.3H452V663.3H451V663.3H450V661.4H449V661.4H448V661.4H447V661.4H446V659.5H445V659.5H444V659.5H443V659.5H442V659.5H441V659.5H440V651.3H439V650.8H438V650.8H437V647.6H436V647.6H435V647.6H434V647.6H433V647.6H432V645.6H431V645.6H430V636.8H429V636.8H428V637.8H427V637.8H426V637.8H425V637.8H424V638.1H423V638.1H422V638.1H421V644.2H420V644.2H419V644.2H418V644.2H417V644.2H416V644.2H415V637.0H414V632.8H413V632.8H412V638.2H411V638.2H410V638.2H409V638.2H408V638.2H407V630.7H406V630.7H405V630.7H404V629.3H403V628.2H402V628.2H401V626.9H400V627.1H399V627.1H398V627.1H397V627.1H396V627.1H395V627.1H394V627.1H393V624.1H392V628.1H391V628.1H390V628.1H389V628.1H388V628.1H387V628.1H386V624.4H385V624.4H384V625.7H383V625.7H382V625.7H381V625.7H380V625.7H379V625.7H378V628.4H377V628.4H376V628.4H375V628.4H374V628.4H373V628.4H372V626.5H371V626.5H370V626.5H369V626.5H368V626.5H367V623.3H366V623.3H365V623.3H364V626.2H363V626.2H362V626.2H361V626.2H360V640.4H359V640.4H358V640.4H357V640.4H356V640.4H355V640.4H354V630.7H353V626.6H352V626.6H351V632.1H350V632.1H349V632.1H348V632.1H347V641.5H346V641.5H345V641.5H344V641.5H343V641.5H342V645.4H341V645.4H340V645.4H339V645.4H338V645.4H337V636.6H336V636.6H335V636.6H334V636.6H333V636.6H332V633.1H331V642.4H330V642.4H329V642.4H328V643.2H327V643.2H326V643.2H325V644.2H324V644.2H323V644.2H322V644.2H321V644.2H320V641.8H319V641.8H318V641.8H317V642.4H316V642.4H315V642.4H314V642.4H313V643.6H312V645.2H311V645.2H310V646.9H309V646.9H308V646.9H307V649.5H306V649.5H305V649.5H304V649.5H303V649.5H302V649.5H301V646.7H300V646.7H299V646.7H298V654.1H297V654.1H296V654.1H295V654.1H294V654.1H293V651.3H292V652.7H291V653.9H290V653.9H289V653.9H288V653.9H287V662.2H286V662.2H285V662.2H284V662.2H283V662.2H282V657.2H281V657.2H280V658.6H279V658.6H278V658.6H277V658.6H276V658.6H275V658.6H274V657.1H273V663.4H272V663.4H271V663.4H270V663.4H269V663.4H268V658.9H267V658.9H266V658.9H265V659.0H264V668.5H263V673.0H262V673.0H261V673.0H260V673.0H259V673.0H258V671.3H257V671.3H256V671.3H255V671.3H254V671.3H253V671.3H252V671.1H251V671.1H250V671.1H249V670.1H248V670.1H247V670.1H246V670.1H245V670.1H244V670.1H243V667.7H242V667.7H241V667.7H240V667.7H239V665.5H238V665.5H237V665.0H236V665.0H235V664.5H234V664.5H233V664.5H232V663.5H231V663.5H230V669.5H229V669.5H228V669.5H227V669.5H226V669.5H225V671.8H224V671.8H223V671.8H222V671.8H221V671.8H220V667.3H219V667.3H218V669.6H217V669.6H216V669.6H215V669.6H214V670.9H213V674.5H212V674.5H211V674.5H210V674.5H209V674.5H208V674.5H207V668.5H206V668.5H205V668.5H204V668.5H203V668.5H202V670.7H201V670.7H200V670.7H199V670.7H198V670.7H197V670.7H196V669.2H195V669.2H194V669.2H193V674.4H192V674.4H191V674.4H190V674.4H189V674.4H188V668.0H187V670.9H186V670.9H185V670.9H184V670.9H183V670.9H182V666.3H181V672.2H180V672.2H179V672.2H178V672.2H177V672.2H176V664.7H175V665.3H174V665.3H173V666.3H172V670.2H171V670.2H170V670.2H169V670.2H168V670.2H167Z"/><path fill="#0000ff" shape-rendering="crispEdges" d="M167,428.7H167V428.7H168V428.7H169V428.7H170V428.7H171V432.8H172V432.8H173V440.1H174V440.1H175V440.1H176V444.3H177V441.4H178V441.4H179V441.4H180V426.7H181V426.7H182V426.7H183V426.7H184V426.7H185V435.5H186V440.0H187V440.0H188V429.2H189V429.2H190V429.2H191V429.2H192V429.2H193V429.2H194V431.9H195V431.9H196V431.9H197V431.9H198V435.4H199V435.4H200V435.4H201V435.4H202V437.7H203V435.8H204V435.8H205V435.8H206V435.8H207V435.8H208V435.8H209V443.2H210V434.0H211V434.0H212V432.3H213V432.3H214V432.3H215V432.3H216V432.3H217V439.7H218V441.6H219V441.6H220V441.6H221V441.6H222V441.6H223V440.8H224V439.5H225V439.5H226V437.9H227V437.9H228V437.9H229V437.9H230V437.9H231V437.9H232V433.2H233V433.2H234V433.2H235V433.2H236V433.2H237V444.4H238V444.4H239V444.4H240V443.7H241V442.9H242V440.5H243V438.6H244V438.6H245V438.6H246V438.6H247V434.8H248V433.6H249V433.6H250V433.6H251V433.6H252V433.6H253V428.9H254V428.9H255V428.9H256V428.9H257V428.9H258V428.9H259V429.2H260V429.2H261V429.3H262V429.3H263V432.6H264V432.6H265V432.8H266V433.1H267V433.1H268V432.2H269V432.2H270V432.2H271V432.2H272V432.2H273V432.2H274V434.4H275V436.1H276V440.3H277V440.3H278V429.5H279V429.5H280V429.5H281V429.5H282V429.5H283V429.5H284V426.1H285V426.1H286V426.1H287V426.1H288V426.1H289V426.1H290V429.9H291V429.9H292V429.9H293V432.3H294V429.2H295V429.2H296V429.2H297V429.2H298V429.2H299V429.2H300V416.4H301V416.4H302V416.4H303V416.4H304V416.4H305V416.4H306V430.2H307V430.2H308V430.9H309V430.9H310V430.9H311V417.6H312V417.6H313V417.6H314V417.6H315V417.6H316V421.0H317V421.0H318V421.0H319V421.0H320V431.3H321V420.3H322V420.3H323V420.3H324V420.3H325V420.3H326V423.8H327V423.8H328V423.8H329V423.8H330V423.8H331V427.1H332V417.0H333V417.0H334V417.0H335V417.0H336V417.0H337V428.1H338V421.4H339V421.4H340V421.4H341V417.5H342V417.5H343V417.5H344V417.5H345V417.5H346V417.5H347V418.9H348V424.7H349V425.0H350V425.0H351V424.6H352V424.6H353V424.6H354V401.8H355V401.8H356V401.8H357V401.8H358V401.8H359V417.6H360V417.6H361V418.8H362V418.8H363V418.8H364V420.4H365V420.8H366V420.8H367V420.8H368V420.8H369V420.8H370V427.5H371V427.5H372V422.5H373V422.5H374V422.5H375V422.5H376V422.5H377V422.5H378V426.0H379V426.0H380V426.2H381V426.2H382V426.2H383V426.2H384V426.2H385V426.3H386V426.3H387V426.3H388V427.5H389V427.5H390V417.2H391V417.2H392V417.2H393V417.2H394V417.2H395V417.2H396V437.0H397V429.3H398V429.3H399V429.3H400V429.3H401V429.3H402V429.3H403V439.2H404V439.2H405V439.2H406V441.6H407V441.6H408V441.6H409V442.6H410V430.9H411V430.9H412V430.9H413V430.9H414V430.9H415V430.9H416V439.0H417V439.0H418V439.0H419V439.0H420V451.3H421V451.3H422V451.3H423V451.3H424V451.3H425V451.3H426V454.0H427V454.0H428V455.5H429V455.5H430V458.0H431V457.1H432V457.1H433V457.1H434V457.1H435V457.1H436V468.6H437V468.6H438V470.3H439V474.2H440V474.2H441V474.2H442V474.2H443V474.2H444V478.0H445V478.0H446V480.0H447V480.0H448V480.0H449V480.0H450V486.5H451V486.5H452V486.0H453V486.0H454V486.0H455V486.0H456V486.0H457V501.0H458V501.0H459V501.4H460V503.6H461V503.6H462V512.3H463V513.7H464V513.7H465V515.3H466V515.3H467V515.3H468V515.3H469V515.3H470V517.1H471V521.6H472V521.6H473V521.6H474V521.6H475V530.8H476V530.8H477V530.8H478V532.9H479V532.9H480V532.9H481V532.9H482V537.1H483V537.1H484V537.6H485V537.6H486V537.6H487V537.6H488V537.6H489V547.7H490V558.1H491V558.1H492V558.1H493V561.4H494V561.4H495V561.4H496V563.9H497V564.0H498V566.6H499V566.6H500V566.6H501V569.5H502V569.5H503V572.5H504V572.5H505V572.9H506V581.8H507V581.8H508V583.3H509V583.3H510V585.9H511V585.9H512V587.2H513V587.2H514V588.8H515V588.8H516V588.8H517V588.8H518V594.0H519V594.0H520V594.0H521V594.0H522V604.9H523V604.9H524V604.9H525V604.9H526V604.9H527V616.2H528V616.2H529V616.2H530V616.2H531V616.2H532V616.2H533V621.3H534V620.1H535V620.1H536V620.1H537V620.1H538V620.1H539V620.1H540V632.2H541V634.4H542V637.6H543V638.4H544V638.4H545V638.4H546V645.7H547V645.7H548V647.8H549V647.8H550V650.6H551V650.6H552V650.6H553V650.6H554V655.4H555V657.8H556V657.8H557V658.8H558V662.0H559V662.0H560V662.5H561V662.5H562V663.5H563V663.5H564V663.5H565V662.6H566V662.6H567V662.6H568V662.6H569V662.6H570V668.1H571V668.1H572V676.9H573V676.9H574V677.5H575V681.9H576V681.9H577V681.9H578V683.3H579V683.3H580V683.3H581V683.3H582V683.3H583V690.5H584V693.3H585V693.3H586V693.3H587V693.3H588V693.3H589V693.3H590V695.7H591V695.7H592V697.5H593V699.8H594V699.8H595V699.8H596V699.1H597V699.1H598V699.1H599V699.1H600V699.1H601V699.1H602V705.3H603V709.0H604V709.0H605V707.4H606V707.4H607V699.6H608V699.6H609V699.6H610V699.6H611V699.6H612V709.6H613V711.7H614V711.9H615V714.0H616V712.1H617V712.1H618V712.1H619V712.1H620V712.1H621V712.1H622V714.5H623V714.5H624V714.5H625V714.5H626V714.5H627V719.4H628V719.4H629V719.4H630V719.4H631V719.4H632V720.8H633V720.8H634V723.5H635V722.3H636V722.3H637V722.3H638V712.2H639V708.4H640V684.9H641V668.1H642V642.4H643V642.4H644V642.4H645V642.4H646V642.4H647V642.4H648V648.0H649V668.8H650V698.0H651V715.6H652V725.0H653V730.3H654V730.3H655V730.3H656V730.3H657V737.3H658V737.3H659V737.9H660V738.0H661V738.0H662V738.0H663V738.0H664V743.6H665V743.8H666V743.8H667V749.2H668V750.7H669V747.2H670V747.2H671V747.2H672V747.2H673V747.2H674V749.9H675V749.9H676V749.9H677V749.9H678V754.0H679V754.3H680V754.3H681V754.3H682V754.3H683V754.3H684V754.3H685V755.9H686V757.2H687V757.2H688V757.2H689V757.2H690V760.8H691V760.8H692V760.8H693V760.8H694V760.8H695V762.5H696V762.5H697V762.8H698V762.0H699V759.9H700V759.9H701V758.2H702V749.4H703V739.6H704V739.6H705V739.6H706V739.6H707V739.6H708V743.3H709V743.3H710V748.4H711V753.7H712V758.4H713V758.4H714V766.0H715V766.4H716V766.4H717V769.2H718V769.8H719V769.8H720V769.8H721V770.2H722V770.2H723V770.2H724V766.9H725V766.9H726V766.9H727V766.9H728V766.9H729V766.9H730V771.0H731V771.0H732V771.0H733V771.0H734V774.6H735V774.6H736V774.8H737V774.8H738V773.1H739V773.1H740V773.1H741V772.7H742V772.7H743V772.7H744V772.7H745V772.7H746V772.7H747V772.7H748V774.7H749V774.7H750V774.7H751V774.7H752V776.4H753V776.7H754V775.3H755V775.3H756V775.3H757V775.3H758V775.3H759V775.3H760V778.7H761V778.7H762V779.3H763V779.3H764V781.1H765V780.6H766V780.6H767V780.6H768V775.0H769V775.0H770V775.0H771V775.0H772V775.0H773V775.0H774V781.7H775V781.7H776V782.4H777V782.4H778V782.4H779V783.5H780V780.0H781V780.0H782V780.0H783V780.0H784V780.0H785V780.0H786V780.5H787V780.5H788V780.5H789V782.3H790V781.7H791V781.7H792V781.7H793V781.7H794V781.7H795V783.2H796V783.2H797V783.2H798V780.7H799V780.7H800V780.7H801V780.7H802V780.7H803V780.7H804V782.4H805V780.3H806V780.3H807V777.9H808V777.9H809V777.9H810V777.9H811V777.9H812V781.0H813V781.0H814V781.0H815V781.0H816V781.0H817V784.3H818V784.3H819V783.4H820V783.4H821V783.4H822V782.3H823V782.3H824V782.3H825V779.8H826V779.8H827V779.8H828V777.6H829V777.6H830V777.6H831V777.6H832V777.6H833V781.8H834V781.8H835V776.3H836V776.3H837V776.3H838V776.3H839V774.6H840V774.6H841V774.6H842V774.6H843V774.6H844V774.6H845V780.6H846V780.3H847V779.8H848V778.4H849V777.1H850V777.1H851V777.1H852V774.2H853V774.2H854V774.2H855V774.2H856V774.2H857V774.2H858V777.2H859V777.2H860V777.2H861V777.2H862V777.2H863V775.6H864V773.7H865V773.7H866V773.7H867V773.7H868V772.2H869V772.2H870V770.8H871V770.8H872V768.8H873V768.1H874V761.5H875V758.7H876V755.4H877V746.4H878V718.7H879V699.6H880V683.6H881V642.7H882V613.3H883V588.1H884V566.1H885V558.3H886V558.3H887V558.3H888V558.3H889V558.3H890V558.3H891V579.8H892V602.6H893V632.5H894V662.5H895V690.2H896V721.3H897V739.2H898V749.7H899V758.7H900V760.6H901V765.1H902V765.9H903V765.9H904V765.9H905V771.2H906V770.4H907V770.4H908V770.4H909V770.4H910V770.4H911V772.7H912V772.7H913V774.5H914V774.5H915V774.5H916V774.5H917V771.6H918V771.6H919V771.6H920V771.6H921V771.6H922V771.6H923V771.6H924V771.6H925V771.6H926V771.6H927V771.6H928V776.7H929V776.6H930V776.2H931V774.7H932V773.3H933V773.3H934V773.3H935V773.3H936V773.3H937V771.0H938V771.0H939V771.0H940V771.0H941V769.4H942V769.4H943V769.4H944V769.4H945V769.4H946V775.4H947V773.5H948V773.5H949V773.5H950V773.5H951V773.5H952V775.0H953V770.1H954V770.1H955V770.1H956V770.1H957V770.1H958V770.1H959V774.5H960V774.6H961V774.6H962V774.6H963V774.6H964V774.8H965V774.8H966V774.8H967V774.8H968V774.8H969V774.8H970V774.8H971V774.8H972V774.8H973V771.5H974V771.5H975V771.5H976V771.5H977V771.5H978V774.9H979V774.9H980V774.9H981V774.9H982V774.9H983V774.9H984V777.0H985V777.2H986V777.2H987V775.4H988V775.4H989V775.1H990V775.1H991V774.3H992V774.3H993V774.3H994V774.3H995V774.3H996V775.4H997V775.4H998V770.1H999V770.1H1000V770.1H1001V770.1H1002V770.1H1003V771.6H1004V775.0H1005V771.1H1006V771.1H1007V771.1H1008V771.1H1009V771.1H1010V771.5H1011V771.5H1012V771.5H1013V773.1H1014V774.6H1015V774.6H1016V776.2H1017V775.8H1018V775.8H1019V775.8H1020V775.8H1021V775.8H1022V774.4H1023V774.4H1024V774.4H1025V773.9H1026V769.6H1027V769.6H1028V769.6H1029V769.6H1030V769.6H1031V769.6H1032V768.0H1033V763.2H1034V759.8H1035V750.1H1036V739.8H1037V734.4H1038V734.4H1039V734.4H1040V734.4H1041V734.4H1042V735.9H1043V740.7H1044V754.5H1045V762.1H1046V773.2H1047V773.3H1048V773.3H1049V773.3H1050V775.8H1051V775.8H1052V775.8H1053V775.8H1054V775.8H1055V775.8H1056V779.0H1057V779.0H1058V780.0H1059V778.8H1060V778.8H1061V778.8H1062V778.1H1063V778.1H1064V773.9H1065V771.1H1066V766.7H1067V760.5H1068V753.2H1069V753.2H1070V741.5H1071V741.5H1072V741.5H1073V739.0H1074V739.0H1075V739.0H1076V739.0H1077V739.0H1078V739.0H1079V747.7H1080V753.0H1081V756.8H1082V756.8H1083V763.8H1084V766.5H1085V769.4H1086V779.9H1087V780.3H1088V780.3H1089V784.9H1090V784.9H1091V784.9H1092V784.9H1093V784.9H1094V791.4H1095V791.4H1096V795.4H1097V795.4H1098V795.8H1099V795.8H1100V795.8H1101V795.8H1102V795.8H1103V795.8H1104V795.8H1105V799.5H1106V802.0H1107V802.0H1108V802.0H1109V802.0H1110V802.0H1111V802.0H1112V802.4H1113V804.1H1114V803.2H1115V803.2H1116V803.2H1117V803.2H1118V803.2H1119V803.2H1120V803.3H1121V803.3H1122V803.3H1123V803.3H1124V806.9H1125V806.9H1126V807.6H1127V807.6H1128V807.6H1129V809.4H1130V809.4H1131V809.4H1132V806.7H1133V806.7H1134V806.7H1135V806.7H1136V806.7H1137V806.7H1138V812.4H1139V811.4H1140V811.4H1141V811.4H1142V811.4H1143V811.4H1144V811.4H1145V815.4H1146V813.5H1147V813.5H1148V813.5H1149V813.5H1150V813.5H1151V813.8H1152V813.8H1153V816.2H1154V816.2H1155V816.2H1156V815.8H1157V815.8H1158V815.8H1159V815.8H1160V815.8H1161V815.8H1162V816.6H1163V816.6H1164V816.6H1165V817.2H1166V817.2H1167V817.2H1168V817.4H1169V817.4H1170V814.3H1171V814.3H1172V814.3H1173V814.3H1174V814.3H1175V817.5H1176V817.5H1177V817.5H1178V817.5H1179V817.5H1180V818.8H1181V818.8H1182V819.3H1183V819.3H1184V819.3H1185V819.3H1186V821.0H1187V819.3H1188V819.3H1189V819.3H1190V819.3H1191V818.6H1192V818.6H1193V818.6H1194V818.6H1195V818.6H1196V820.2H1197V820.2H1198V820.9H1199V820.9H1200V820.5H1201V820.5H1202V820.5H1203V820.5H1204V820.5H1205V820.5H1206V820.7H1207V820.7H1208V821.3H1209V817.3H1210V815.5H1211V815.5H1212V815.5H1213V815.5H1214V815.5H1215V815.5H1216V818.7H1217V822.8H1218V822.8H1219V822.8H1220V822.8H1221V823.4H1222V823.4H1223V823.4H1224V823.4H1225V824.3H1226V824.3H1227V825.4H1228V825.9H1229V825.9H1230V825.9H1231V825.9H1232V827.7H1233V827.2H1234V827.2H1235V826.8H1236V825.3H1237V825.3H1238V825.3H1239V825.3H1240V825.3H1241V825.3H1242V826.4H1243V826.4H1244V826.9H1245V826.1H1246V826.1H1247V826.1H1248V826.1H1249V826.1H1250V826.5H1251V826.5H1252V826.7H1253V827.9H1254V827.9H1255V828.2H1256V828.4H1257V828.4H1258V831.6H1259V831.6H1260V828.3H1261V828.3H1262V828.3H1263V828.3H1264V828.3H1265V828.3H1266V831.2H1267V831.0H1268V831.0H1269V831.0H1270V831.0H1271V831.0H1272V831.6H1273V831.6H1274V831.6H1275V831.6H1276V831.6H1277V831.6H1278V833.9H1279V835.2H1280V833.6H1281V833.6H1282V833.4H1283V833.4H1284V833.4H1285V833.4H1286V833.4H1287V833.4H1288V832.8H1289V832.8H1290V832.8H1291V832.8H1292V832.8H1293V832.8H1294V834.4H1295V834.4H1296V834.4H1297V834.4H1298V834.4H1299V836.0H1300V835.6H1301V834.4H1302V834.4H1303V834.4H1304V834.4H1305V834.4H1306V834.4H1307V831.9H1308V831.9H1309V831.9H1310V831.9H1311V831.9H1312V836.5H1313V836.3H1314V836.3H1315V836.3H1316V836.3H1317V836.3H1318V836.3H1319V836.4H1320V836.5H1321V835.1H1322V835.1H1323V835.1H1324V835.1H1325V835.1H1326V835.1H1327V838.0H1328V835.8H1329V835.8H1330V835.8H1331V835.8H1332V835.8H1333V838.3H1334V838.3H1335V837.0H1336V837.0H1337V837.0H1338V837.0H1339V837.0H1340V837.0H1341V837.3H1342V837.3H1343V837.3H1344V836.7H1345V836.7H1346V834.3H1347V834.3H1348V832.9H1349V832.9H1350V830.8H1351V830.8H1352V830.8H1353V830.8H1354V830.8H1355V830.8H1356V833.9H1357V835.5H1358V835.5H1359V840.1H1360V840.1H1361V840.1H1362V839.3H1363V839.3H1364V839.3H1365V839.3H1366V839.3H1367V839.3H1368V840.7H1369V837.7H1370V837.7H1371V837.7H1372V837.7H1373V837.7H1374V837.7H1375V840.6H1376V840.6H1377V839.1H1378V839.1H1379V839.1H1380V839.1H1381V839.1H1382V841.2H1383V841.2H1384V841.2H1385V841.2H1386V841.2H1387V841.8H1388V841.8H1389V841.8H1390V841.8H1391V841.8H1392V842.6H1393V842.6H1394V843.8H1395V843.8H1396V844.2H1397V844.2H1398V843.2H1399V843.2H1400V843.2H1401V843.2H1402V843.2H1403V843.2H1404V845.6H1405V845.6H1406V844.0H1407V844.0H1408V844.0H1409V844.0H1410V844.0H1411V844.0H1412V844.5H1413V843.0H1414V843.0H1415V843.0H1416V843.0H1417V843.0H1418V846.5H1419V846.5H1420V846.5H1421V846.5H1422V846.5H1423V846.5H1424V845.5H1425V845.5H1426V845.5H1427V845.5H1428V845.5H1429V845.5H1430V847.3H1431V846.2H1432V846.2H1433V846.2H1434V846.2H1435V846.2H1436V847.9H1437V849.2H1438V849.2H1439V849.2H1440V849.2H1441V849.1H1442V848.3H1443V848.3H1444V848.3H1445V848.3H1446V848.3H1447V849.4H1448V847.2H1449V847.2H1450V847.2H1451V847.2H1452V847.2H1453V847.2H1454V847.9H1455V847.9H1456V847.9H1457V847.9H1458V848.7H1459V848.7H1460V847.0H1461V847.0H1462V847.0H1463V847.0H1464V847.0H1465V847.0H1466V848.4H1467V848.4H1468V847.8H1469V847.8H1470V847.8H1471V847.8H1472V847.8H1473V847.8H1474V850.3H1475V850.3H1476V850.3H1477V850.0H1478V850.0H1479V850.0H1480V850.0H1481V850.0H1482V850.0H1483V851.0H1484V851.0H1485V851.0H1486V851.0H1487V851.0H1488V851.0H1489V851.0H1490V851.0H1491V851.0H1492V851.0H1493V851.0H1494V851.0H1495V851.0H1496V851.0H1497V851.7H1498V852.1H1499V852.1H1500V852.9H1501V852.9H1502V852.9H1503V852.9H1504V852.9H1505V853.1H1506V853.1H1507V853.1H1508V854.2H1509V854.2H1510V854.2H1511V854.5H1512V852.8H1513V852.8H1514V852.8H1515V852.8H1516V852.8H1517V852.8H1518V854.4H1519V854.4H1520V853.5H1521V853.5H1522V853.5H1523V851.7H1524V851.7H1525V851.7H1526V851.7H1527V851.7H1528V852.3H1529V851.4H1530V851.4H1531V851.4H1532V851.4H1533V851.4H1534V850.9H1535V850.9H1536V850.9H1537V850.9H1538V850.9H1539V850.9H1540V854.3H1541V854.3H1542V854.3H1543V854.3H1544V854.3H1545V855.0H1546V854.5H1547V854.0H1548V848.0H1549V844.5H1550V844.5H1551V844.5H1552V844.5H1553V844.5H1554V846.4H1555V851.3H1556V852.3H1557V852.3H1558V852.3H1559V852.3H1560V853.6H1561V854.4H1562V854.4H1563V854.4H1564V854.4H1565V854.4H1566V854.9H1567V854.9H1568V855.2H1569V856.3H1570V856.3H1571V854.7H1572V854.7H1573V854.7H1574V854.7H1575V854.7H1576V855.6H1577V855.6H1578V855.6H1579V855.6H1580V855.5H1581V855.5H1582V855.5H1583V853.9H1584V853.9H1585V853.9H1586V853.1H1587V853.1H1588V853.1H1589V853.1H1590V853.1H1591V853.1H1592V856.2H1593V854.9H1594V854.9H1595V854.9H1596V854.9H1597V854.9H1598V854.9H1599V855.7H1600V855.7H1601V856.1H1602V856.5H1603V856.5H1604V856.5H1605V856.2H1606V856.2H1607V856.2H1608V856.2H1609V856.2H1610V856.2H1611V856.8H1612V856.6H1613V856.6H1614V856.6H1615V855.4H1616V855.1H1617V855.1H1618V855.1H1619V855.1H1620V855.1H1621V855.4H1622V854.6H1623V853.4H1624V848.1H1625V848.1H1626V848.1H1627V848.1H1628V848.1H1629V848.1H1630V852.4H1631V853.0H1632V853.0H1633V852.9H1634V852.9H1635V852.9H1636V852.9H1637V852.9H1638V855.5H1639V855.3H1640V855.3H1641V855.3H1642V855.3H1643V855.3H1644V856.5H1645V856.5H1646V855.6H1647V855.3H1648V855.3H1649V855.3H1650V855.0H1651V854.9H1652V854.9H1653V854.9H1654V854.2H1655V854.2H1656V854.2H1657V854.2H1658V854.2H1659V854.7H1660V854.4H1661V854.4H1662V854.4H1663V853.7H1664V852.8H1665V851.6H1666V851.6H1667V851.6H1668V851.6H1669V851.6H1670V851.6H1671V851.9H1672V852.4H1673V853.7H1674V852.3H1675V852.3H1676V848.9H1677V847.8H1678V847.8H1679V847.8H1680V843.7H1681V843.7H1682V837.9H1683V837.9H1684V834.8H1685V834.8H1686V834.8H1687V834.8H1688V834.8H1689V834.8H1690V838.8H1691V838.8H1692V840.2H1693V841.1H1694V843.9H1695V843.9H1696V845.3H1697V846.4H1698V849.8H1699V851.4H1700V853.4H1701V853.4H1702V853.8H1703V853.8H1704V854.7H1705V854.8H1706V853.8H1707V853.8H1708V853.8H1709V853.8H1710V853.8H1711V853.8H1712V858.4H1713V858.4H1714V858.4H1715V858.4H1716V858.4H1717V858.4H1718V858.4H1719V859.1H1720V859.4H1721V859.4H1722V858.8H1723V858.2H1724V858.2H1725V858.2H1726V858.2H1727V858.2H1728V858.2H1729V858.2H1730V859.8H1731V859.8H1732V859.8H1733V859.8H1734V859.8H1735V861.7H1736V861.7H1737V858.6H1738V858.6H1739V858.6H1740V858.6H1741V858.6H1742V861.4H1743V861.4H1744V861.2H1745V861.2H1746V861.2H1747V861.2H1748V861.2H1749V861.2H1750V861.7H1751V861.7H1752V861.7H1753V862.4H1754V862.4H1755V862.4H1756V862.4H1757V863.5H1758V862.7H1759V862.2H1760V861.9H1761V861.9H1762V861.7H1763V861.7H1764V861.7H1765V861.5H1766V861.5H1767V861.5H1768V861.5H1769V861.4H1770V861.4H1771V860.2H1772V860.2H1773V860.2H1774V860.2H1775V860.2H1776V860.2H1777V861.8H1778V861.8H1779V861.8H1780V859.3H1781V859.3H1782V859.3H1783V859.3H1784V859.3H1785V859.3H1786V860.7H1787V860.7H1788V860.7H1789V860.7H1790V860.7H1791V861.5H1792V861.5H1793V861.5H1794V863.4H1795V858.9H1796V858.9H1797V858.9H1798V858.9H1799V858.9H1800V858.9H1801V863.7H1802V861.2H1803V861.2H1804V861.2H1805V861.2H1806V861.2H1807V861.2H1808V863.0H1809V863.0H1810V864.0H1811V864.2H1812V864.2H1813V864.2H1814V863.9H1815V863.9H1816V862.6H1817V862.6H1818V862.6H1819V862.6H1820V862.6H1821V862.6H1822V862.7H1823V862.7H1824V862.7H1825V862.7H1826V862.7H1827V863.4H1828V863.4H1829V863.4H1830V863.4H1831V863.4H1832V863.4H1833V863.4H1834V863.4H1835V863.4H1836V863.4H1837V863.4H1838V863.0H1839V863.0H1840V863.0H1841V863.0H1842V863.0H1843V863.0H1844V863.0H1845V862.9H1846V862.9H1847V862.9H1848V862.9H1849V862.9H1850V862.9H1851V863.1H1852V863.1H1853V863.1H1854V863.9H1855V863.9H1856V863.9H1857V864.2H1858V864.1H1859V864.1H1860V864.0H1861V864.0H1862V864.0H1863V863.5H1864V862.4H1865V862.3H1866V862.3H1867V862.3H1868V862.3H1869V862.3H1870V863.0H1871V864.4H1872V864.0H1873V864.0H1874V861.4H1875V861.4H1876V861.4H1877V861.4H1878V861.4H1879V861.4H1880V862.7H1881V862.7H1882V862.0H1883V862.0H1884V862.0H1885V861.3H1886V858.7H1887V858.7H1888V858.7H1889V857.1H1890V857.1H1891V857.1H1892V857.1H1893V857.1H1894V857.1H1895V857.1H1896V857.1H1897V858.3H1898V858.3H1899V858.3H1900V860.1H1901V860.1H1902V860.1H1903V860.7H1904V860.7H1905V860.7H1906V860.0H1907V860.0H1908V860.0H1909V860.0H1910V860.0H1911V860.0H1912V860.9H1913V862.4H1914V862.8H1915V862.8H1916V862.9H1917V862.9H1918V862.9H1919V863.2H1920V862.7H1921V860.6H1922V860.6H1923V860.6H1924V860.6H1925V860.6H1926V860.6H1927V861.5H1928V861.5H1929V861.1H1930V861.1H1931V861.1H1932V861.1H1933V861.1H1934V861.1H1935V862.1H1936V862.0H1937V862.0H1938V862.0H1939V862.0H1940V862.0H1941V862.0H1942V863.2H1943V863.2H1944V863.1H1945V863.1H1946V862.9H1947V862.9H1948V862.9H1949V861.5H1950V861.5H1951V861.5H1952V861.5H1953V861.5H1954V861.5H1955V862.8H1956V861.9H1957V861.9H1958V861.9H1959V861.0H1960V861.0H1961V861.0H1962V861.0H1963V861.0H1964V861.0H1965V862.3H1966V862.0H1967V861.8H1968V861.8H1969V861.8H1970V861.8H1971V861.8H1972V862.6H1973V862.6H1974V862.6H1975V862.6H1976V862.6H1977V862.6H1978V861.0H1979V861.0H1980V861.0H1981V861.0H1982V861.0H1983V862.2H1984V862.2H1985V862.2H1986V861.8H1987V861.8H1988V861.8H1989V861.4H1990V861.4H1991V861.4H1992V861.0H1993V861.0H1994V861.0H1995V861.0H1996V861.0H1997V861.0H1998V861.1H1999V861.6H2000V862.1H2001V859.6H2002V859.6H2003V859.6H2004V859.6H2005V859.6H2006V859.6H2007V860.2H2008V860.2H2009V860.2H2010V860.2H2011V861.5H2012V862.1H2013V862.3H2014V860.5H2015V860.5H2016V860.5H2017V860.5H2018V860.5H2019V860.5H2020V860.1H2021V860.1H2022V860.1H2023V860.1H2024V859.8H2025V859.8H2026V859.4H2027V859.4H2028V859.4H2029V859.4H2030V859.4H2031V859.8H2032V868.3H2031V868.3H2030V868.3H2029V868.3H2028V868.3H2027V868.5H2026V871.3H2025V871.3H2024V873.9H2023V873.9H2022V873.9H2021V873.9H2020V873.9H2019V873.9H2018V870.0H2017V870.0H2016V870.0H2015V870.1H2014V870.1H2013V870.1H2012V870.3H2011V870.3H2010V870.3H2009V870.3H2008V870.3H2007V870.3H2006V870.2H2005V870.2H2004V869.8H2003V869.8H2002V869.6H2001V870.3H2000V872.7H1999V872.7H1998V872.7H1997V872.7H1996V872.7H1995V872.7H1994V870.8H1993V871.7H1992V871.7H1991V871.7H1990V871.7H1989V871.7H1988V871.7H1987V870.5H1986V870.5H1985V870.5H1984V870.5H1983V870.5H1982V870.5H1981V870.5H1980V870.5H1979V869.8H1978V871.4H1977V871.4H1976V871.4H1975V871.4H1974V872.2H1973V872.2H1972V872.2H1971V872.2H1970V872.2H1969V871.8H1968V872.8H1967V872.8H1966V872.8H1965V872.8H1964V872.8H1963V872.8H1962V871.3H1961V871.8H1960V871.8H1959V872.4H1958V872.4H1957V872.4H1956V872.4H1955V872.4H1954V872.1H1953V872.1H1952V872.1H1951V872.1H1950V872.1H1949V872.1H1948V871.9H1947V871.9H1946V871.9H1945V871.9H1944V873.2H1943V873.2H1942V873.2H1941V873.2H1940V873.2H1939V873.2H1938V870.9H1937V872.0H1936V872.0H1935V874.3H1934V874.3H1933V874.3H1932V874.3H1931V874.3H1930V872.8H1929V872.8H1928V872.8H1927V872.8H1926V872.8H1925V872.9H1924V872.9H1923V872.9H1922V872.9H1921V872.9H1920V872.9H1919V871.9H1918V873.2H1917V873.2H1916V873.2H1915V873.2H1914V873.2H1913V873.2H1912V873.2H1911V873.2H1910V873.2H1909V872.6H1908V870.8H1907V871.0H1906V871.0H1905V871.0H1904V871.0H1903V871.0H1902V871.0H1901V869.9H1900V869.9H1899V869.9H1898V869.9H1897V869.9H1896V869.9H1895V866.8H1894V866.8H1893V866.8H1892V866.8H1891V866.8H1890V869.7H1889V869.7H1888V869.7H1887V870.2H1886V870.3H1885V870.3H1884V870.5H1883V871.2H1882V872.1H1881V872.1H1880V872.1H1879V872.1H1878V872.1H1877V872.1H1876V871.7H1875V871.6H1874V871.6H1873V872.6H1872V873.5H1871V873.5H1870V873.5H1869V873.5H1868V874.0H1867V874.0H1866V874.0H1865V874.0H1864V874.0H1863V874.0H1862V873.0H1861V873.0H1860V873.0H1859V872.9H1858V872.9H1857V872.9H1856V874.2H1855V874.2H1854V874.2H1853V874.2H1852V874.2H1851V874.2H1850V873.9H1849V873.9H1848V873.6H1847V873.6H1846V873.5H1845V873.5H1844V872.9H1843V873.6H1842V873.6H1841V873.6H1840V873.6H1839V874.3H1838V874.3H1837V874.3H1836V874.3H1835V874.3H1834V873.0H1833V873.0H1832V873.0H1831V872.6H1830V872.6H1829V872.6H1828V872.6H1827V872.6H1826V873.0H1825V873.9H1824V873.9H1823V873.9H1822V874.7H1821V874.7H1820V874.7H1819V874.7H1818V874.7H1817V874.3H1816V874.7H1815V874.7H1814V874.7H1813V874.7H1812V874.7H1811V870.8H1810V870.8H1809V870.8H1808V870.7H1807V871.1H1806V871.4H1805V871.4H1804V871.4H1803V871.4H1802V872.7H1801V872.7H1800V872.7H1799V872.7H1798V872.7H1797V872.7H1796V872.2H1795V872.2H1794V872.2H1793V872.2H1792V872.4H1791V872.4H1790V872.4H1789V872.4H1788V873.4H1787V873.4H1786V873.4H1785V873.4H1784V873.4H1783V873.4H1782V872.2H1781V871.0H1780V871.0H1779V871.0H1778V871.0H1777V870.0H1776V870.0H1775V869.5H1774V869.5H1773V869.5H1772V869.5H1771V869.5H1770V871.1H1769V871.1H1768V871.3H1767V871.3H1766V871.3H1765V871.3H1764V871.3H1763V870.8H1762V870.8H1761V870.8H1760V870.8H1759V870.8H1758V870.6H1757V870.6H1756V870.7H1755V872.7H1754V872.7H1753V872.7H1752V872.7H1751V872.7H1750V872.1H1749V872.1H1748V872.1H1747V872.1H1746V872.1H1745V870.1H1744V870.1H1743V869.8H1742V870.5H1741V870.5H1740V870.5H1739V870.5H1738V870.5H1737V870.5H1736V870.4H1735V870.3H1734V870.3H1733V870.3H1732V870.3H1731V870.3H1730V869.3H1729V868.9H1728V871.2H1727V871.2H1726V871.2H1725V871.2H1724V871.2H1723V871.2H1722V870.0H1721V870.0H1720V870.0H1719V870.0H1718V868.3H1717V869.1H1716V869.1H1715V869.1H1714V869.1H1713V869.1H1712V867.5H1711V867.5H1710V866.6H1709V866.6H1708V866.6H1707V866.6H1706V865.3H1705V865.3H1704V865.3H1703V865.8H1702V865.8H1701V865.8H1700V865.8H1699V865.8H1698V862.8H1697V861.4H1696V859.4H1695V858.4H1694V857.4H1693V856.0H1692V853.7H1691V851.5H1690V849.2H1689V848.6H1688V848.6H1687V848.8H1686V851.4H1685V853.0H1684V854.9H1683V855.5H1682V857.3H1681V857.8H1680V859.3H1679V859.3H1678V860.8H1677V860.8H1676V862.9H1675V863.4H1674V863.4H1673V863.4H1672V863.4H1671V863.4H1670V863.2H1669V863.2H1668V862.4H1667V864.9H1666V865.7H1665V865.7H1664V865.7H1663V865.7H1662V865.7H1661V865.7H1660V865.2H1659V865.2H1658V864.8H1657V864.8H1656V864.8H1655V865.7H1654V865.7H1653V865.7H1652V865.7H1651V865.7H1650V865.7H1649V865.0H1648V865.0H1647V865.7H1646V865.7H1645V866.4H1644V866.4H1643V866.4H1642V866.4H1641V866.9H1640V866.9H1639V866.9H1638V868.2H1637V868.2H1636V868.2H1635V868.2H1634V868.2H1633V868.2H1632V865.2H1631V864.7H1630V863.6H1629V863.6H1628V862.3H1627V862.3H1626V864.4H1625V864.4H1624V866.4H1623V866.4H1622V866.4H1621V866.4H1620V866.4H1619V865.5H1618V865.5H1617V866.3H1616V866.3H1615V866.3H1614V866.3H1613V866.3H1612V867.2H1611V867.2H1610V867.2H1609V867.2H1608V867.2H1607V867.2H1606V865.7H1605V865.5H1604V865.4H1603V865.4H1602V869.2H1601V869.2H1600V869.2H1599V869.2H1598V869.2H1597V865.3H1596V866.0H1595V867.6H1594V867.6H1593V867.6H1592V867.6H1591V867.6H1590V867.6H1589V866.0H1588V866.9H1587V866.9H1586V866.9H1585V866.9H1584V866.9H1583V866.9H1582V866.1H1581V865.0H1580V865.0H1579V865.0H1578V863.9H1577V863.9H1576V865.8H1575V865.8H1574V865.8H1573V865.8H1572V865.8H1571V865.8H1570V865.1H1569V865.1H1568V865.1H1567V865.1H1566V865.4H1565V865.4H1564V865.4H1563V865.4H1562V866.4H1561V866.4H1560V866.4H1559V866.4H1558V866.4H1557V866.4H1556V865.4H1555V865.4H1554V863.4H1553V861.3H1552V863.9H1551V863.9H1550V863.9H1549V863.9H1548V863.9H1547V864.1H1546V864.1H1545V864.1H1544V864.1H1543V864.1H1542V864.1H1541V865.8H1540V865.8H1539V865.8H1538V865.8H1537V865.8H1536V865.8H1535V864.1H1534V864.1H1533V864.1H1532V863.6H1531V863.6H1530V863.6H1529V864.0H1528V864.0H1527V864.7H1526V864.7H1525V864.7H1524V865.1H1523V865.1H1522V865.1H1521V866.1H1520V866.1H1519V866.1H1518V866.1H1517V866.1H1516V862.8H1515V863.5H1514V863.5H1513V863.5H1512V863.5H1511V864.9H1510V864.9H1509V864.9H1508V864.9H1507V864.9H1506V862.9H1505V862.9H1504V862.0H1503V862.4H1502V862.4H1501V862.4H1500V862.4H1499V863.5H1498V863.5H1497V863.5H1496V863.5H1495V863.5H1494V863.5H1493V862.9H1492V862.9H1491V862.9H1490V862.9H1489V861.3H1488V861.9H1487V861.9H1486V861.9H1485V861.9H1484V861.9H1483V861.3H1482V861.2H1481V861.2H1480V861.8H1479V861.8H1478V861.8H1477V861.8H1476V861.8H1475V861.8H1474V861.0H1473V861.0H1472V861.0H1471V861.0H1470V860.4H1469V860.4H1468V860.4H1467V860.4H1466V860.3H1465V860.3H1464V860.3H1463V860.3H1462V860.3H1461V860.1H1460V860.1H1459V860.1H1458V860.1H1457V860.1H1456V858.3H1455V858.3H1454V858.3H1453V858.3H1452V858.3H1451V858.3H1450V858.9H1449V858.9H1448V860.8H1447V860.8H1446V860.8H1445V860.8H1444V860.8H1443V860.8H1442V859.0H1441V859.0H1440V859.0H1439V859.0H1438V858.6H1437V858.6H1436V858.6H1435V858.6H1434V857.2H1433V857.2H1432V857.2H1431V857.2H1430V857.2H1429V857.2H1428V856.0H1427V855.9H1426V856.0H1425V856.9H1424V856.9H1423V856.9H1422V856.9H1421V856.9H1420V856.3H1419V856.3H1418V855.8H1417V855.8H1416V857.6H1415V857.6H1414V859.9H1413V859.9H1412V859.9H1411V859.9H1410V859.9H1409V859.9H1408V856.1H1407V856.1H1406V856.1H1405V856.1H1404V855.1H1403V855.1H1402V857.1H1401V857.1H1400V857.1H1399V857.1H1398V857.1H1397V857.1H1396V853.9H1395V856.7H1394V856.7H1393V856.7H1392V856.7H1391V856.7H1390V856.7H1389V855.1H1388V854.1H1387V854.1H1386V854.1H1385V854.1H1384V853.2H1383V853.4H1382V853.4H1381V853.4H1380V853.4H1379V853.4H1378V853.4H1377V853.8H1376V853.8H1375V853.8H1374V853.8H1373V853.8H1372V853.8H1371V852.1H1370V854.3H1369V854.3H1368V854.3H1367V854.3H1366V854.3H1365V854.3H1364V853.0H1363V853.0H1362V853.0H1361V853.0H1360V851.5H1359V851.5H1358V851.5H1357V849.4H1356V849.4H1355V849.4H1354V847.8H1353V847.3H1352V847.3H1351V848.3H1350V851.9H1349V851.9H1348V851.9H1347V851.9H1346V851.9H1345V850.7H1344V850.7H1343V848.8H1342V849.4H1341V849.4H1340V849.4H1339V849.4H1338V849.4H1337V850.1H1336V850.1H1335V850.1H1334V850.1H1333V850.1H1332V848.6H1331V848.6H1330V848.6H1329V848.6H1328V848.6H1327V848.6H1326V849.6H1325V849.6H1324V849.7H1323V849.7H1322V849.7H1321V849.7H1320V849.7H1319V849.7H1318V848.2H1317V848.2H1316V848.2H1315V850.6H1314V850.6H1313V850.6H1312V850.6H1311V850.6H1310V850.6H1309V847.6H1308V845.9H1307V845.3H1306V845.3H1305V845.7H1304V845.7H1303V845.7H1302V845.8H1301V848.1H1300V848.1H1299V848.1H1298V848.1H1297V848.1H1296V844.3H1295V848.1H1294V848.1H1293V848.1H1292V848.1H1291V848.1H1290V848.1H1289V848.1H1288V848.1H1287V847.9H1286V847.8H1285V847.8H1284V847.8H1283V847.8H1282V847.4H1281V847.4H1280V847.4H1279V847.4H1278V846.3H1277V846.3H1276V846.3H1275V845.4H1274V849.5H1273V849.5H1272V849.5H1271V849.5H1270V849.5H1269V844.3H1268V844.3H1267V844.1H1266V843.3H1265V843.3H1264V843.3H1263V842.6H1262V842.6H1261V842.7H1260V842.7H1259V842.7H1258V842.7H1257V842.7H1256V841.6H1255V841.6H1254V840.1H1253V840.1H1252V840.1H1251V840.1H1250V840.1H1249V840.1H1248V840.1H1247V839.9H1246V839.9H1245V840.2H1244V840.2H1243V840.2H1242V840.2H1241V840.2H1240V840.2H1239V839.4H1238V839.4H1237V839.4H1236V839.4H1235V837.1H1234V839.7H1233V839.7H1232V839.7H1231V839.7H1230V839.7H1229V837.7H1228V836.4H1227V836.4H1226V839.1H1225V839.1H1224V839.1H1223V839.1H1222V839.1H1221V839.1H1220V836.5H1219V835.5H1218V835.5H1217V835.5H1216V835.5H1215V835.5H1214V831.3H1213V832.6H1212V833.5H1211V833.5H1210V833.5H1209V833.5H1208V833.5H1207V835.3H1206V835.3H1205V835.5H1204V835.5H1203V835.5H1202V835.5H1201V835.5H1200V835.5H1199V834.9H1198V834.9H1197V834.9H1196V834.9H1195V834.0H1194V834.0H1193V834.0H1192V834.0H1191V834.0H1190V834.0H1189V833.9H1188V833.9H1187V833.9H1186V832.0H1185V831.8H1184V832.4H1183V832.4H1182V832.4H1181V832.4H1180V832.4H1179V829.4H1178V829.4H1177V829.4H1176V829.4H1175V829.4H1174V829.4H1173V829.4H1172V829.4H1171V829.4H1170V832.2H1169V832.2H1168V832.2H1167V832.2H1166V832.2H1165V832.2H1164V832.1H1163V832.1H1162V829.8H1161V828.6H1160V828.6H1159V827.7H1158V830.6H1157V830.6H1156V830.6H1155V830.6H1154V830.6H1153V830.6H1152V827.3H1151V826.8H1150V827.0H1149V827.0H1148V827.0H1147V830.4H1146V830.4H1145V830.4H1144V830.4H1143V830.4H1142V830.4H1141V824.0H1140V824.0H1139V824.0H1138V824.0H1137V823.4H1136V826.0H1135V826.0H1134V826.0H1133V826.0H1132V826.0H1131V826.0H1130V820.7H1129V820.7H1128V820.7H1127V820.7H1126V820.7H1125V821.8H1124V821.8H1123V821.8H1122V821.8H1121V821.8H1120V821.8H1119V819.2H1118V819.5H1117V819.5H1116V819.5H1115V819.5H1114V819.5H1113V819.5H1112V817.3H1111V817.3H1110V817.8H1109V817.8H1108V817.8H1107V817.8H1106V817.8H1105V817.8H1104V812.0H1103V812.0H1102V812.0H1101V810.6H1100V810.6H1099V810.6H1098V807.0H1097V807.0H1096V807.0H1095V807.8H1094V807.8H1093V807.8H1092V807.8H1091V807.8H1090V800.5H1089V800.5H1088V800.4H1087V795.7H1086V794.4H1085V794.4H1084V791.4H1083V791.4H1082V784.4H1081V783.5H1080V775.9H1079V775.9H1078V774.1H1077V766.5H1076V758.0H1075V758.6H1074V765.3H1073V765.3H1072V773.8H1071V775.6H1070V782.9H1069V786.4H1068V788.7H1067V790.7H1066V792.7H1065V792.7H1064V792.7H1063V800.7H1062V800.7H1061V800.7H1060V800.7H1059V800.7H1058V797.6H1057V797.6H1056V797.6H1055V797.6H1054V797.6H1053V794.8H1052V794.7H1051V794.7H1050V794.7H1049V788.3H1048V787.4H1047V787.4H1046V787.4H1045V787.4H1044V784.9H1043V781.2H1042V779.3H1041V768.4H1040V764.4H1039V767.9H1038V774.0H1037V778.6H1036V784.6H1035V784.8H1034V785.8H1033V790.4H1032V790.4H1031V790.4H1030V790.4H1029V790.4H1028V791.1H1027V791.1H1026V791.1H1025V791.1H1024V791.1H1023V791.1H1022V790.2H1021V794.2H1020V794.2H1019V794.2H1018V794.2H1017V794.2H1016V788.9H1015V788.9H1014V788.9H1013V788.9H1012V787.2H1011V787.2H1010V787.2H1009V787.1H1008V787.7H1007V788.4H1006V788.5H1005V788.5H1004V788.5H1003V788.5H1002V788.5H1001V788.1H1000V788.1H999V788.1H998V788.1H997V787.7H996V790.1H995V790.1H994V790.1H993V790.1H992V790.1H991V790.1H990V788.3H989V788.3H988V788.3H987V787.5H986V790.7H985V790.7H984V790.7H983V790.7H982V790.7H981V789.9H980V787.5H979V787.5H978V787.5H977V787.5H976V787.5H975V790.5H974V790.5H973V790.5H972V790.5H971V790.5H970V790.5H969V791.1H968V791.1H967V791.1H966V791.1H965V791.1H964V791.1H963V790.4H962V790.4H961V788.9H960V788.9H959V789.8H958V789.8H957V796.9H956V796.9H955V796.9H954V796.9H953V796.9H952V789.9H951V789.9H950V789.4H949V789.4H948V789.4H947V789.4H946V788.7H945V787.2H944V787.2H943V787.0H942V787.0H941V787.0H940V789.2H939V789.2H938V789.2H937V789.2H936V789.2H935V790.6H934V790.6H933V790.6H932V790.6H931V790.6H930V787.8H929V787.8H928V788.5H927V788.5H926V788.5H925V793.1H924V793.1H923V793.1H922V793.1H921V793.1H920V787.7H919V787.7H918V787.7H917V789.1H916V789.1H915V789.1H914V789.1H913V789.1H912V788.2H911V788.2H910V788.2H909V788.2H908V788.2H907V787.7H906V787.7H905V786.5H904V786.5H903V786.5H902V786.5H901V786.5H900V776.8H899V776.8H898V776.8H897V776.8H896V765.3H895V764.2H894V754.2H893V752.1H892V725.8H891V705.5H890V667.0H889V642.8H888V634.3H887V647.2H886V697.1H885V704.1H884V731.0H883V752.4H882V762.7H881V763.2H880V768.5H879V772.6H878V782.3H877V782.3H876V783.4H875V783.4H874V783.4H873V783.4H872V785.5H871V786.9H870V786.9H869V786.9H868V789.5H867V789.5H866V793.6H865V793.6H864V793.6H863V793.6H862V793.6H861V793.6H860V790.4H859V790.4H858V792.6H857V792.6H856V792.6H855V792.6H854V792.6H853V792.6H852V793.4H851V793.4H850V793.4H849V793.4H848V796.2H847V796.2H846V796.2H845V796.2H844V796.2H843V795.6H842V795.0H841V795.0H840V795.0H839V795.0H838V797.4H837V797.4H836V797.4H835V797.4H834V797.4H833V796.6H832V796.6H831V796.6H830V795.2H829V795.2H828V795.2H827V795.2H826V793.7H825V797.2H824V799.0H823V799.0H822V799.0H821V799.0H820V799.0H819V798.7H818V798.7H817V798.7H816V798.7H815V794.2H814V794.2H813V794.2H812V796.8H811V796.8H810V796.8H809V796.8H808V796.8H807V796.8H806V795.3H805V795.3H804V792.8H803V793.7H802V795.9H801V795.9H800V795.9H799V796.2H798V796.2H797V796.2H796V796.2H795V796.2H794V796.2H793V795.7H792V795.7H791V796.9H790V796.9H789V796.9H788V796.9H787V796.9H786V796.9H785V795.5H784V795.5H783V795.5H782V795.5H781V793.9H780V795.3H779V795.3H778V795.3H777V795.3H776V795.3H775V795.3H774V794.3H773V794.3H772V794.3H771V794.3H770V792.5H769V792.5H768V794.6H767V794.6H766V794.6H765V794.6H764V794.6H763V794.6H762V792.6H761V792.6H760V792.6H759V792.6H758V792.5H757V792.5H756V790.1H755V790.1H754V790.1H753V790.1H752V789.4H751V789.6H750V789.6H749V789.6H748V789.6H747V789.6H746V789.6H745V789.1H744V789.1H743V789.1H742V789.1H741V789.1H740V787.0H739V787.0H738V787.0H737V787.5H736V787.5H735V787.5H734V787.5H733V787.5H732V784.6H731V784.6H730V785.2H729V785.2H728V785.2H727V788.3H726V788.3H725V788.3H724V788.3H723V788.3H722V788.3H721V783.5H720V783.5H719V783.5H718V782.8H717V779.5H716V779.3H715V779.3H714V779.3H713V779.3H712V779.3H711V778.2H710V775.2H709V775.2H708V765.9H707V763.6H706V766.3H705V770.8H704V772.8H703V772.8H702V776.6H701V776.6H700V780.5H699V780.5H698V780.5H697V780.5H696V780.5H695V775.9H694V775.6H693V775.6H692V773.7H691V775.3H690V775.3H689V775.3H688V775.3H687V775.3H686V771.9H685V771.9H684V772.0H683V772.0H682V772.0H681V772.0H680V772.0H679V772.0H678V768.0H677V768.0H676V768.0H675V768.0H674V766.9H673V764.7H672V764.7H671V764.7H670V765.4H669V765.4H668V765.4H667V765.4H666V765.4H665V765.4H664V763.7H663V763.7H662V756.6H661V755.0H660V755.0H659V755.0H658V752.5H657V752.5H656V751.3H655V748.2H654V748.2H653V748.2H652V744.1H651V741.5H650V741.2H649V740.0H648V729.5H647V724.2H646V702.5H645V712.9H644V728.6H643V731.4H642V732.2H641V736.3H640V740.9H639V740.9H638V740.9H637V740.9H636V740.9H635V740.9H634V737.9H633V737.9H632V738.7H631V738.7H630V738.7H629V738.7H628V738.7H627V738.7H626V735.3H625V735.3H624V735.3H623V735.0H622V734.1H621V729.2H620V730.0H619V730.0H618V730.0H617V730.0H616V730.9H615V730.9H614V730.9H613V730.9H612V730.9H611V730.9H610V725.3H609V725.3H608V725.3H607V725.3H606V722.5H605V722.5H604V722.4H603V721.8H602V721.8H601V720.0H600V720.0H599V720.0H598V718.7H597V718.7H596V718.7H595V718.7H594V717.1H593V715.3H592V715.3H591V715.3H590V715.3H589V713.5H588V712.7H587V712.7H586V712.7H585V711.3H584V711.3H583V711.3H582V711.3H581V711.3H580V706.9H579V706.9H578V699.2H577V699.2H576V698.8H575V698.5H574V698.5H573V695.8H572V695.8H571V691.8H570V690.8H569V690.8H568V694.4H567V694.4H566V694.4H565V694.4H564V694.4H563V694.4H562V682.6H561V682.6H560V682.6H559V682.6H558V682.6H557V675.8H556V675.8H555V675.8H554V675.8H553V675.8H552V673.9H551V673.9H550V670.5H549V670.5H548V662.8H547V666.1H546V666.1H545V666.1H544V666.1H543V666.1H542V666.1H541V660.2H540V652.8H539V652.8H538V652.8H537V652.8H536V648.5H535V648.5H534V648.5H533V648.5H532V641.5H531V641.5H530V641.5H529V635.3H528V635.3H527V635.3H526V634.7H525V629.7H524V628.7H523V628.7H522V628.7H521V628.7H520V628.7H519V618.6H518V619.3H517V619.3H516V619.3H515V619.3H514V619.3H513V612.8H512V612.8H511V603.9H510V603.5H509V603.0H508V602.5H507V602.5H506V602.5H505V602.5H504V601.5H503V595.0H502V595.0H501V595.0H500V595.0H499V593.0H498V593.0H497V593.0H496V593.0H495V588.4H494V588.4H493V579.0H492V579.0H491V579.0H490V579.0H489V574.0H488V574.0H487V568.5H486V568.5H485V561.1H484V561.7H483V561.7H482V561.7H481V561.7H480V567.7H479V567.7H478V567.7H477V567.7H476V567.7H475V567.7H474V552.3H473V552.3H472V550.2H471V550.2H470V544.9H469V545.7H468V545.7H467V545.7H466V545.7H465V545.7H464V532.6H463V532.6H462V529.3H461V529.3H460V527.1H459V527.1H458V526.5H457V526.5H456V526.5H455V526.5H454V526.5H453V526.5H452V522.5H451V512.1H450V512.1H449V512.1H448V512.1H447V512.1H446V509.6H445V509.6H444V509.6H443V499.8H442V501.1H441V501.6H440V501.6H439V501.6H438V501.6H437V501.6H436V501.6H435V498.6H434V498.6H433V498.6H432V486.0H431V486.0H430V486.0H429V486.0H428V476.3H427V476.3H426V477.2H425V477.2H424V477.2H423V477.2H422V477.2H421V477.2H420V475.0H419V474.6H418V477.6H417V477.6H416V477.6H415V477.6H414V477.6H413V477.6H412V471.0H411V467.3H410V465.1H409V465.1H408V463.9H407V463.9H406V463.9H405V462.5H404V462.5H403V462.5H402V477.4H401V477.4H400V477.4H399V477.4H398V477.4H397V477.4H396V455.6H395V459.8H394V459.8H393V459.8H392V459.8H391V459.8H390V459.8H389V455.3H388V455.3H387V454.9H386V454.9H385V454.9H384V454.9H383V454.9H382V453.8H381V453.8H380V448.8H379V448.8H378V448.8H377V448.8H376V461.1H375V461.1H374V461.1H373V461.1H372V461.1H371V461.1H370V448.2H369V448.2H368V448.3H367V448.3H366V448.3H365V448.3H364V448.3H363V448.3H362V442.5H361V442.5H360V442.5H359V442.5H358V454.5H357V454.5H356V454.5H355V454.5H354V454.5H353V454.5H352V444.8H351V444.8H350V444.8H349V444.8H348V444.0H347V443.3H346V442.0H345V442.0H344V442.0H343V444.4H342V444.4H341V446.5H340V446.5H339V446.5H338V446.5H337V453.1H336V453.1H335V453.1H334V453.1H333V453.1H332V453.1H331V449.6H330V456.8H329V456.8H328V456.8H327V456.8H326V456.8H325V456.8H324V450.3H323V450.3H322V454.1H321V454.1H320V454.1H319V454.1H318V454.1H317V454.1H316V453.4H315V453.4H314V453.4H313V453.4H312V460.6H311V460.6H310V460.6H309V460.6H308V460.6H307V455.6H306V455.6H305V455.6H304V455.6H303V455.6H302V467.5H301V467.5H300V467.5H299V467.5H298V467.5H297V453.3H296V453.3H295V458.6H294V458.6H293V458.6H292V458.6H291V458.6H290V458.6H289V455.4H288V462.0H287V462.0H286V462.0H285V462.0H284V462.0H283V461.9H282V462.2H281V462.2H280V462.2H279V462.2H278V462.2H277V462.2H276V457.2H275V457.2H274V459.3H273V459.3H272V462.8H271V462.8H270V462.9H269V462.9H268V462.9H267V462.9H266V462.9H265V462.9H264V458.9H263V458.9H262V451.8H261V451.8H260V458.5H259V458.5H258V458.5H257V458.5H256V458.5H255V457.6H254V459.8H253V459.8H252V459.8H251V464.2H250V464.2H249V464.2H248V464.2H247V464.2H246V464.8H245V464.8H244V464.8H243V469.4H242V469.4H241V469.4H240V469.4H239V469.4H238V469.4H237V466.5H236V466.5H235V466.5H234V466.5H233V466.5H232V466.5H231V460.2H230V465.0H229V465.0H228V472.8H227V472.8H226V472.8H225V472.8H224V472.8H223V472.8H222V467.6H221V467.6H220V469.7H219V469.7H218V469.7H217V469.7H216V469.7H215V465.3H214V473.2H213V473.2H212V473.2H211V473.2H210V473.2H209V462.7H208V462.7H207V462.7H206V463.6H205V463.6H204V463.6H203V465.8H202V465.8H201V465.8H200V465.8H199V465.8H198V465.8H197V464.9H196V464.9H195V464.9H194V461.5H193V461.5H192V458.4H191V458.4H190V461.1H189V463.3H188V463.3H187V463.3H186V463.3H185V463.3H184V460.4H183V460.4H182V460.4H181V467.3H180V467.3H179V467.3H178V467.3H177V467.3H176V464.4H175V464.4H174V477.9H173V477.9H172V477.9H171V477.9H170V477.9H169V468.1H168V468.1H167Z"/><path fill="#ff00ff" shape-rendering="crispEdges" d="M167,156.9H167V156.9H168V156.9H169V156.9H170V156.9H171V156.9H172V154.9H173V154.9H174V154.9H175V154.9H176V154.9H177V153.6H178V153.6H179V153.6H180V153.6H181V153.6H182V159.0H183V159.0H184V163.5H185V163.5H186V164.1H187V164.1H188V161.1H189V161.1H190V161.1H191V161.1H192V161.1H193V161.9H194V161.9H195V161.9H196V158.4H197V156.6H198V156.6H199V156.6H200V156.6H201V156.6H202V158.0H203V158.0H204V160.4H205V160.4H206V162.9H207V167.1H208V161.4H209V161.4H210V161.4H211V161.4H212V161.4H213V159.1H214V159.1H215V159.1H216V159.1H217V159.1H218V171.8H219V164.1H220V143.3H221V143.3H222V143.3H223V143.3H224V143.3H225V143.3H226V164.4H227V166.6H228V166.6H229V167.3H230V167.3H231V167.3H232V148.9H233V148.9H234V148.9H235V148.9H236V148.9H237V163.7H238V163.7H239V149.3H240V149.3H241V149.3H242V149.3H243V149.3H244V163.3H245V163.3H246V160.6H247V155.9H248V155.9H249V155.9H250V155.9H251V155.9H252V155.9H253V161.4H254V167.6H255V164.1H256V164.1H257V164.1H258V162.4H259V162.4H260V162.4H261V158.0H262V158.0H263V158.0H264V158.0H265V158.0H266V171.8H267V167.4H268V167.4H269V167.4H270V167.4H271V164.6H272V164.6H273V162.5H274V162.5H275V162.5H276V162.5H277V162.5H278V163.1H279V163.6H280V161.7H281V161.7H282V161.7H283V161.7H284V151.7H285V151.7H286V151.7H287V151.7H288V151.7H289V151.7H290V156.8H291V155.0H292V155.0H293V155.0H294V155.0H295V155.0H296V155.0H297V159.1H298V159.9H299V159.9H300V159.9H301V157.6H302V157.6H303V157.6H304V157.6H305V157.6H306V158.6H307V158.6H308V153.0H309V153.0H310V153.0H311V153.0H312V153.0H313V141.4H314V141.4H315V141.4H316V141.4H317V141.4H318V141.4H319V149.0H320V149.0H321V146.4H322V146.4H323V146.4H324V146.4H325V146.4H326V146.9H327V146.9H328V146.9H329V146.9H330V146.9H331V146.1H332V146.1H333V146.1H334V146.1H335V146.1H336V157.1H337V157.1H338V154.5H339V154.5H340V154.5H341V154.5H342V154.5H343V155.5H344V155.5H345V148.1H346V148.1H347V148.1H348V148.1H349V148.1H350V156.8H351V156.8H352V158.0H353V158.0H354V159.2H355V159.2H356V166.3H357V142.3H358V142.3H359V142.3H360V142.3H361V142.3H362V142.3H363V162.2H364V162.2H365V162.2H366V163.0H367V163.0H368V163.0H369V163.0H370V163.0H371V165.1H372V165.1H373V165.1H374V165.1H375V165.1H376V169.3H377V169.3H378V166.2H379V166.2H380V166.2H381V165.4H382V165.4H383V154.9H384V154.9H385V154.9H386V154.9H387V154.9H388V154.9H389V162.1H390V162.1H391V162.1H392V162.1H393V162.1H394V162.1H395V169.4H396V169.4H397V171.8H398V157.5H399V157.5H400V157.5H401V157.5H402V157.5H403V157.5H404V180.6H405V180.6H406V180.6H407V180.8H408V182.7H409V182.7H410V182.7H411V182.7H412V178.9H413V178.9H414V178.9H415V178.9H416V178.9H417V178.9H418V185.7H419V185.7H420V185.7H421V185.7H422V185.7H423V185.7H424V199.2H425V199.2H426V199.2H427V199.2H428V202.5H429V202.5H430V202.8H431V202.8H432V212.0H433V207.5H434V207.5H435V207.5H436V207.5H437V207.5H438V213.1H439V213.1H440V213.1H441V221.8H442V225.5H443V232.3H444V232.3H445V234.1H446V224.4H447V224.4H448V224.4H449V224.4H450V224.4H451V241.1H452V244.9H453V244.9H454V244.5H455V244.5H456V244.5H457V244.5H458V244.5H459V248.8H460V253.4H461V253.4H462V253.4H463V253.4H464V253.4H465V248.0H466V248.0H467V248.0H468V248.0H469V248.0H470V248.0H471V260.7H472V260.7H473V260.7H474V260.7H475V260.7H476V260.7H477V272.9H478V272.9H479V279.0H480V279.0H481V279.0H482V281.8H483V283.6H484V283.6H485V286.8H486V286.8H487V286.8H488V292.4H489V294.5H490V294.5H491V294.5H492V294.5H493V302.9H494V302.9H495V302.9H496V302.9H497V302.9H498V314.9H499V319.2H500V319.2H501V320.3H502V317.3H503V317.3H504V317.3H505V317.3H506V317.3H507V330.1H508V330.1H509V333.3H510V334.2H511V334.2H512V334.2H513V334.2H514V339.9H515V339.9H516V339.9H517V339.9H518V339.9H519V339.9H520V350.0H521V350.0H522V353.1H523V352.5H524V352.5H525V352.5H526V352.5H527V352.5H528V360.4H529V360.4H530V363.0H531V363.0H532V364.6H533V364.6H534V373.1H535V374.6H536V374.6H537V374.6H538V378.2H539V378.2H540V378.2H541V378.2H542V378.2H543V378.2H544V384.8H545V384.8H546V388.9H547V388.9H548V393.5H549V394.9H550V394.9H551V398.8H552V398.8H553V398.8H554V398.8H555V398.8H556V398.8H557V402.9H558V411.3H559V411.3H560V411.3H561V418.1H562V418.1H563V418.1H564V418.1H565V418.1H566V418.1H567V421.7H568V421.7H569V421.7H570V429.0H571V429.0H572V436.0H573V436.0H574V436.0H575V429.7H576V429.7H577V429.7H578V429.7H579V429.7H580V433.7H581V433.7H582V433.7H583V433.7H584V433.7H585V439.1H586V442.4H587V442.4H588V442.4H589V442.4H590V445.9H591V445.9H592V445.9H593V447.9H594V447.9H595V447.6H596V447.6H597V447.6H598V447.6H599V447.6H600V455.7H601V455.0H602V455.0H603V446.6H604V446.6H605V446.6H606V446.6H607V446.6H608V446.6H609V448.5H610V448.5H611V448.5H612V461.3H613V463.2H614V463.2H615V466.0H616V466.2H617V467.9H618V464.0H619V464.0H620V464.0H621V464.0H622V464.0H623V464.0H624V466.0H625V466.0H626V466.0H627V466.0H628V466.0H629V466.0H630V469.8H631V469.8H632V469.8H633V469.8H634V473.6H635V474.4H636V471.1H637V462.7H638V454.0H639V447.2H640V429.2H641V428.6H642V426.7H643V426.7H644V426.7H645V426.7H646V426.7H647V430.0H648V437.7H649V443.2H650V455.9H651V469.0H652V469.0H653V478.1H654V485.0H655V485.0H656V489.1H657V489.1H658V489.1H659V490.4H660V493.4H661V494.0H662V497.6H663V497.6H664V497.6H665V497.8H666V497.8H667V497.8H668V501.4H669V501.4H670V501.4H671V501.4H672V502.5H673V502.5H674V504.4H675V504.3H676V504.3H677V504.3H678V504.3H679V504.3H680V507.6H681V507.6H682V509.3H683V509.3H684V509.3H685V509.3H686V509.3H687V511.9H688V513.4H689V511.8H690V511.8H691V511.8H692V511.8H693V511.8H694V511.8H695V511.8H696V518.2H697V518.7H698V518.7H699V517.7H700V517.7H701V517.7H702V517.7H703V517.7H704V514.0H705V514.0H706V514.0H707V514.0H708V514.0H709V514.0H710V519.4H711V519.2H712V514.3H713V514.3H714V514.3H715V514.3H716V514.3H717V514.3H718V520.5H719V520.5H720V519.7H721V519.7H722V519.7H723V519.7H724V519.7H725V519.7H726V521.6H727V521.6H728V521.6H729V521.6H730V521.6H731V521.6H732V525.9H733V525.9H734V527.6H735V527.6H736V527.6H737V530.1H738V528.1H739V528.1H740V528.1H741V528.1H742V528.1H743V529.2H744V529.2H745V529.2H746V529.2H747V529.2H748V531.0H749V531.0H750V531.0H751V531.0H752V532.3H753V531.0H754V530.6H755V530.6H756V530.6H757V530.6H758V530.6H759V533.6H760V536.0H761V535.0H762V535.0H763V535.0H764V535.0H765V535.0H766V535.5H767V535.5H768V535.5H769V535.0H770V533.0H771V533.0H772V533.0H773V533.0H774V533.0H775V535.3H776V535.3H777V535.3H778V534.5H779V534.5H780V534.5H781V534.5H782V534.5H783V534.5H784V536.7H785V536.7H786V536.7H787V536.7H788V536.7H789V536.7H790V539.3H791V539.3H792V537.9H793V536.0H794V536.0H795V535.9H796V533.0H797V533.0H798V533.0H799V533.0H800V533.0H801V531.6H802V531.6H803V531.6H804V531.6H805V531.6H806V530.2H807V530.2H808V530.2H809V530.2H810V530.2H811V530.2H812V530.1H813V530.1H814V530.1H815V529.7H816V529.7H817V529.7H818V525.7H819V525.7H820V520.1H821V520.1H822V511.6H823V511.6H824V501.3H825V501.3H826V488.5H827V482.6H828V479.1H829V465.2H830V460.6H831V460.6H832V459.8H833V459.8H834V459.8H835V459.8H836V459.8H837V459.8H838V470.7H839V476.9H840V479.3H841V489.1H842V502.1H843V507.9H844V514.0H845V514.0H846V517.7H847V517.7H848V517.7H849V524.5H850V524.5H851V524.5H852V524.5H853V524.5H854V525.3H855V525.3H856V525.3H857V524.6H858V524.6H859V523.3H860V523.3H861V523.3H862V523.3H863V523.3H864V523.3H865V524.8H866V524.8H867V524.8H868V521.9H869V521.9H870V521.9H871V521.9H872V518.6H873V518.6H874V515.5H875V514.9H876V501.5H877V501.5H878V496.2H879V487.0H880V481.3H881V474.7H882V474.0H883V464.1H884V464.1H885V464.1H886V464.1H887V464.1H888V470.1H889V471.3H890V477.9H891V488.6H892V488.6H893V492.4H894V503.1H895V508.9H896V513.8H897V516.4H898V517.0H899V517.0H900V517.0H901V526.5H902V527.5H903V523.2H904V523.2H905V523.2H906V523.2H907V523.2H908V523.2H909V528.8H910V528.3H911V528.3H912V528.3H913V528.3H914V528.3H915V529.1H916V529.1H917V526.5H918V526.5H919V526.5H920V526.5H921V526.5H922V526.9H923V526.9H924V526.9H925V526.9H926V528.6H927V527.7H928V525.8H929V525.8H930V525.8H931V525.8H932V525.6H933V525.6H934V525.6H935V525.6H936V525.6H937V525.6H938V526.9H939V526.9H940V526.9H941V526.9H942V530.4H943V530.4H944V530.4H945V530.3H946V526.8H947V526.8H948V526.8H949V526.8H950V524.8H951V524.8H952V524.8H953V524.8H954V524.8H955V528.4H956V525.3H957V525.3H958V525.3H959V525.3H960V525.3H961V525.3H962V527.6H963V527.6H964V527.6H965V527.6H966V527.5H967V527.5H968V527.5H969V527.5H970V527.5H971V527.9H972V527.9H973V525.4H974V525.4H975V525.4H976V525.4H977V524.1H978V524.1H979V524.1H980V524.1H981V524.1H982V524.1H983V522.0H984V522.0H985V522.0H986V522.0H987V522.0H988V524.8H989V524.8H990V520.8H991V520.8H992V520.8H993V520.8H994V520.8H995V522.5H996V522.4H997V522.4H998V522.4H999V514.4H1000V514.4H1001V514.4H1002V514.4H1003V514.4H1004V514.4H1005V516.5H1006V516.5H1007V516.5H1008V514.4H1009V514.4H1010V512.3H1011V512.3H1012V512.3H1013V512.3H1014V512.3H1015V512.3H1016V514.6H1017V513.0H1018V513.0H1019V513.0H1020V513.0H1021V513.0H1022V513.0H1023V518.3H1024V523.1H1025V523.1H1026V524.2H1027V524.2H1028V522.8H1029V522.8H1030V522.8H1031V522.8H1032V522.0H1033V522.0H1034V522.0H1035V520.6H1036V520.6H1037V520.6H1038V520.6H1039V520.6H1040V520.6H1041V521.3H1042V521.8H1043V521.8H1044V521.8H1045V521.8H1046V530.5H1047V530.5H1048V530.5H1049V530.5H1050V530.5H1051V530.5H1052V536.7H1053V536.7H1054V536.7H1055V539.3H1056V539.3H1057V539.3H1058V540.5H1059V541.0H1060V542.8H1061V541.0H1062V541.0H1063V541.0H1064V541.0H1065V541.0H1066V533.8H1067V533.8H1068V533.8H1069V533.8H1070V533.8H1071V533.8H1072V536.9H1073V536.9H1074V536.9H1075V536.9H1076V531.0H1077V531.0H1078V531.0H1079V531.0H1080V531.0H1081V531.0H1082V544.3H1083V544.3H1084V548.8H1085V548.8H1086V551.2H1087V551.2H1088V551.2H1089V551.2H1090V551.8H1091V551.8H1092V551.8H1093V555.9H1094V559.2H1095V554.2H1096V554.2H1097V554.2H1098V554.2H1099V554.2H1100V559.6H1101V559.7H1102V556.4H1103V556.4H1104V556.4H1105V556.4H1106V556.4H1107V556.4H1108V559.0H1109V559.0H1110V559.0H1111V559.0H1112V561.1H1113V561.1H1114V561.1H1115V561.1H1116V561.1H1117V562.6H1118V559.0H1119V559.0H1120V559.0H1121V559.0H1122V559.0H1123V559.0H1124V560.2H1125V560.2H1126V560.2H1127V561.2H1128V562.5H1129V562.5H1130V562.5H1131V562.5H1132V562.5H1133V562.5H1134V563.3H1135V563.3H1136V563.3H1137V563.3H1138V563.4H1139V563.4H1140V563.4H1141V567.9H1142V569.6H1143V570.7H1144V569.0H1145V569.0H1146V569.0H1147V569.0H1148V569.0H1149V569.0H1150V569.8H1151V569.8H1152V569.8H1153V569.8H1154V569.8H1155V570.9H1156V573.7H1157V573.7H1158V574.3H1159V574.3H1160V574.3H1161V574.3H1162V574.3H1163V576.2H1164V576.2H1165V576.9H1166V576.5H1167V573.6H1168V573.6H1169V573.6H1170V571.3H1171V571.3H1172V571.3H1173V571.3H1174V571.3H1175V571.3H1176V573.9H1177V573.9H1178V573.9H1179V573.9H1180V573.9H1181V576.8H1182V577.4H1183V577.4H1184V577.4H1185V577.4H1186V577.2H1187V574.2H1188V574.2H1189V574.2H1190V574.2H1191V574.2H1192V574.2H1193V578.5H1194V578.5H1195V578.5H1196V578.5H1197V578.8H1198V578.8H1199V578.8H1200V579.7H1201V579.9H1202V579.9H1203V581.1H1204V581.1H1205V580.1H1206V580.1H1207V579.9H1208V579.9H1209V579.9H1210V579.9H1211V579.9H1212V582.2H1213V582.2H1214V582.2H1215V582.2H1216V582.2H1217V582.2H1218V582.7H1219V582.7H1220V582.7H1221V582.7H1222V582.7H1223V582.7H1224V583.7H1225V583.9H1226V585.2H1227V585.2H1228V583.7H1229V582.1H1230V582.1H1231V582.1H1232V582.1H1233V582.1H1234V587.0H1235V587.0H1236V582.3H1237V582.3H1238V582.3H1239V582.3H1240V582.3H1241V583.5H1242V583.5H1243V584.6H1244V584.6H1245V584.6H1246V584.6H1247V584.6H1248V584.6H1249V584.9H1250V584.9H1251V584.9H1252V588.8H1253V585.1H1254V585.1H1255V585.1H1256V585.1H1257V585.1H1258V585.1H1259V585.9H1260V585.9H1261V585.9H1262V587.6H1263V587.6H1264V587.6H1265V589.1H1266V589.1H1267V589.3H1268V589.3H1269V590.3H1270V588.8H1271V588.8H1272V588.8H1273V588.8H1274V588.8H1275V588.8H1276V590.3H1277V590.3H1278V590.7H1279V590.7H1280V591.0H1281V592.3H1282V589.7H1283V589.7H1284V589.7H1285V589.7H1286V589.7H1287V591.8H1288V587.8H1289V587.8H1290V587.8H1291V587.8H1292V587.8H1293V587.8H1294V589.7H1295V589.7H1296V590.9H1297V590.9H1298V590.9H1299V590.9H1300V592.6H1301V592.9H1302V592.9H1303V592.9H1304V592.9H1305V592.9H1306V593.5H1307V593.5H1308V592.1H1309V592.1H1310V592.1H1311V592.1H1312V592.1H1313V593.7H1314V593.7H1315V593.7H1316V594.3H1317V595.3H1318V593.2H1319V593.2H1320V593.2H1321V593.2H1322V593.2H1323V592.9H1324V592.9H1325V592.9H1326V592.9H1327V592.9H1328V592.9H1329V593.4H1330V593.4H1331V593.4H1332V593.4H1333V592.2H1334V592.2H1335V592.2H1336V592.2H1337V592.2H1338V595.9H1339V595.9H1340V596.5H1341V593.6H1342V593.6H1343V593.6H1344V593.6H1345V593.6H1346V594.2H1347V594.2H1348V595.1H1349V595.1H1350V596.2H1351V596.2H1352V597.6H1353V597.6H1354V596.5H1355V596.5H1356V596.5H1357V596.5H1358V596.5H1359V596.5H1360V598.3H1361V598.3H1362V599.5H1363V599.4H1364V599.4H1365V597.8H1366V597.8H1367V597.8H1368V597.8H1369V597.8H1370V597.8H1371V599.9H1372V600.1H1373V600.1H1374V600.1H1375V600.3H1376V600.3H1377V599.0H1378V599.0H1379V599.0H1380V599.0H1381V599.0H1382V599.0H1383V599.7H1384V600.2H1385V600.2H1386V600.2H1387V600.2H1388V602.0H1389V602.3H1390V602.3H1391V602.3H1392V602.3H1393V603.0H1394V603.0H1395V603.0H1396V603.0H1397V603.0H1398V603.3H1399V603.3H1400V600.8H1401V600.8H1402V600.8H1403V600.8H1404V600.8H1405V600.8H1406V603.3H1407V603.3H1408V603.0H1409V603.0H1410V603.0H1411V603.0H1412V603.0H1413V603.0H1414V604.2H1415V603.8H1416V603.8H1417V603.8H1418V603.8H1419V603.4H1420V603.4H1421V603.4H1422V603.4H1423V603.4H1424V603.4H1425V605.7H1426V604.4H1427V603.3H1428V603.3H1429V603.3H1430V603.3H1431V603.3H1432V603.7H1433V603.7H1434V603.7H1435V601.2H1436V601.2H1437V601.2H1438V601.2H1439V601.2H1440V604.1H1441V605.9H1442V601.9H1443V601.9H1444V601.9H1445V601.9H1446V601.9H1447V603.8H1448V603.8H1449V603.8H1450V603.8H1451V603.8H1452V605.8H1453V605.8H1454V605.8H1455V606.4H1456V606.7H1457V605.2H1458V605.2H1459V605.2H1460V605.2H1461V605.2H1462V605.2H1463V605.8H1464V605.8H1465V605.8H1466V606.7H1467V606.7H1468V606.4H1469V606.4H1470V606.4H1471V606.4H1472V606.4H1473V606.4H1474V606.7H1475V606.7H1476V606.7H1477V607.7H1478V606.3H1479V606.3H1480V606.3H1481V606.3H1482V606.3H1483V606.3H1484V607.4H1485V607.4H1486V607.0H1487V607.0H1488V607.0H1489V607.0H1490V607.0H1491V607.0H1492V607.6H1493V607.6H1494V606.8H1495V606.8H1496V606.8H1497V606.8H1498V606.3H1499V606.3H1500V606.3H1501V606.3H1502V606.3H1503V606.3H1504V606.8H1505V607.7H1506V608.5H1507V607.8H1508V607.8H1509V607.8H1510V607.8H1511V607.8H1512V607.8H1513V608.8H1514V605.5H1515V605.5H1516V605.5H1517V605.5H1518V605.5H1519V607.1H1520V607.1H1521V607.1H1522V607.1H1523V607.1H1524V607.1H1525V607.1H1526V607.1H1527V609.7H1528V609.7H1529V609.4H1530V607.8H1531V607.8H1532V607.8H1533V607.8H1534V607.8H1535V607.8H1536V608.5H1537V608.5H1538V607.6H1539V607.6H1540V607.6H1541V607.6H1542V607.6H1543V607.6H1544V609.4H1545V609.4H1546V610.0H1547V610.0H1548V610.0H1549V610.0H1550V610.0H1551V610.8H1552V610.8H1553V610.2H1554V610.2H1555V609.7H1556V605.9H1557V605.9H1558V605.9H1559V605.9H1560V605.9H1561V608.4H1562V608.4H1563V608.4H1564V609.7H1565V609.2H1566V609.2H1567V609.2H1568V609.2H1569V609.2H1570V608.4H1571V608.2H1572V606.8H1573V606.8H1574V606.8H1575V606.8H1576V606.8H1577V607.2H1578V608.8H1579V608.8H1580V607.7H1581V607.7H1582V607.7H1583V602.4H1584V602.2H1585V602.2H1586V602.2H1587V602.2H1588V602.2H1589V599.5H1590V599.5H1591V599.5H1592V599.5H1593V599.5H1594V602.8H1595V602.6H1596V602.6H1597V602.6H1598V602.6H1599V602.6H1600V602.6H1601V603.4H1602V603.4H1603V603.4H1604V603.4H1605V603.4H1606V603.4H1607V604.7H1608V604.7H1609V604.7H1610V604.7H1611V606.5H1612V606.5H1613V608.5H1614V604.1H1615V604.1H1616V604.1H1617V604.1H1618V604.1H1619V604.1H1620V609.6H1621V609.6H1622V609.6H1623V609.6H1624V607.8H1625V607.8H1626V607.8H1627V607.8H1628V607.8H1629V611.6H1630V611.2H1631V611.2H1632V611.2H1633V609.9H1634V609.9H1635V606.2H1636V606.2H1637V606.2H1638V606.2H1639V606.2H1640V606.2H1641V609.4H1642V609.4H1643V611.3H1644V611.3H1645V611.3H1646V610.0H1647V610.0H1648V610.0H1649V610.0H1650V610.0H1651V610.0H1652V612.0H1653V612.0H1654V612.0H1655V611.8H1656V611.8H1657V611.2H1658V611.2H1659V611.2H1660V611.2H1661V611.2H1662V611.2H1663V612.1H1664V613.2H1665V613.2H1666V613.2H1667V613.2H1668V612.2H1669V612.2H1670V612.2H1671V612.2H1672V609.1H1673V609.1H1674V609.1H1675V606.8H1676V606.8H1677V606.8H1678V606.0H1679V606.0H1680V606.0H1681V606.0H1682V606.0H1683V606.0H1684V605.6H1685V605.6H1686V605.6H1687V605.6H1688V605.6H1689V605.6H1690V609.7H1691V609.2H1692V608.8H1693V608.8H1694V608.8H1695V608.8H1696V608.8H1697V608.8H1698V610.3H1699V610.3H1700V610.3H1701V607.9H1702V607.9H1703V607.9H1704V607.9H1705V607.9H1706V613.7H1707V613.7H1708V613.7H1709V613.7H1710V612.7H1711V612.7H1712V612.7H1713V612.7H1714V612.7H1715V612.7H1716V614.0H1717V615.4H1718V615.5H1719V615.5H1720V611.8H1721V611.8H1722V611.8H1723V611.8H1724V611.8H1725V611.8H1726V615.6H1727V615.6H1728V615.6H1729V615.6H1730V618.6H1731V618.6H1732V619.5H1733V619.5H1734V619.5H1735V619.5H1736V618.4H1737V618.4H1738V618.4H1739V618.4H1740V618.4H1741V618.4H1742V617.8H1743V617.8H1744V617.8H1745V617.8H1746V617.8H1747V617.0H1748V617.0H1749V617.0H1750V617.0H1751V617.0H1752V617.0H1753V618.3H1754V618.3H1755V618.3H1756V618.3H1757V618.3H1758V619.3H1759V619.3H1760V619.3H1761V619.3H1762V620.5H1763V620.5H1764V620.5H1765V619.8H1766V619.8H1767V619.0H1768V619.0H1769V619.0H1770V619.0H1771V619.0H1772V619.6H1773V619.6H1774V620.3H1775V620.3H1776V620.4H1777V620.4H1778V619.5H1779V619.5H1780V619.5H1781V619.5H1782V619.5H1783V620.9H1784V621.2H1785V619.2H1786V619.2H1787V619.2H1788V619.2H1789V619.2H1790V621.5H1791V621.5H1792V621.2H1793V621.2H1794V621.2H1795V621.2H1796V621.2H1797V621.2H1798V620.9H1799V620.9H1800V620.9H1801V620.9H1802V620.9H1803V619.2H1804V619.2H1805V619.2H1806V619.2H1807V619.2H1808V620.3H1809V620.3H1810V620.3H1811V621.0H1812V621.0H1813V621.0H1814V620.3H1815V620.3H1816V620.3H1817V620.3H1818V619.8H1819V619.6H1820V619.6H1821V619.6H1822V619.6H1823V619.6H1824V619.3H1825V619.3H1826V619.3H1827V619.3H1828V619.3H1829V618.8H1830V618.8H1831V618.8H1832V618.8H1833V618.8H1834V620.3H1835V619.7H1836V619.7H1837V619.7H1838V619.7H1839V619.7H1840V617.7H1841V617.7H1842V617.7H1843V617.7H1844V617.7H1845V617.7H1846V620.0H1847V620.0H1848V621.3H1849V621.3H1850V621.3H1851V619.6H1852V619.6H1853V619.6H1854V619.6H1855V619.6H1856V619.9H1857V619.9H1858V619.9H1859V619.9H1860V619.9H1861V619.9H1862V622.0H1863V622.0H1864V619.4H1865V619.4H1866V619.4H1867V619.4H1868V619.4H1869V619.4H1870V620.2H1871V619.2H1872V619.2H1873V619.2H1874V619.2H1875V619.2H1876V619.5H1877V619.5H1878V619.5H1879V618.7H1880V618.7H1881V618.5H1882V618.5H1883V618.5H1884V618.5H1885V618.5H1886V618.5H1887V617.7H1888V617.7H1889V617.7H1890V617.7H1891V617.7H1892V616.8H1893V616.8H1894V616.8H1895V616.8H1896V616.8H1897V616.8H1898V617.4H1899V617.6H1900V617.6H1901V620.1H1902V619.7H1903V619.7H1904V619.7H1905V619.2H1906V618.6H1907V618.5H1908V618.5H1909V618.5H1910V618.5H1911V618.5H1912V618.5H1913V618.9H1914V617.1H1915V617.1H1916V617.1H1917V617.1H1918V617.1H1919V617.1H1920V618.3H1921V618.3H1922V618.4H1923V618.4H1924V618.4H1925V618.4H1926V618.4H1927V618.4H1928V616.8H1929V616.4H1930V616.4H1931V616.1H1932V615.5H1933V615.5H1934V615.5H1935V615.1H1936V615.1H1937V615.1H1938V614.5H1939V614.5H1940V614.5H1941V614.5H1942V614.5H1943V615.4H1944V615.4H1945V615.0H1946V612.6H1947V612.6H1948V612.6H1949V612.6H1950V612.6H1951V612.6H1952V613.2H1953V613.2H1954V612.7H1955V612.7H1956V610.6H1957V610.6H1958V608.9H1959V608.9H1960V608.9H1961V608.9H1962V608.9H1963V609.3H1964V609.3H1965V611.1H1966V611.1H1967V611.1H1968V611.1H1969V611.1H1970V612.4H1971V611.3H1972V611.3H1973V611.3H1974V611.3H1975V611.3H1976V611.3H1977V612.4H1978V612.4H1979V612.4H1980V614.3H1981V614.3H1982V614.6H1983V614.6H1984V614.6H1985V617.2H1986V617.2H1987V617.2H1988V618.1H1989V618.2H1990V618.2H1991V618.2H1992V618.1H1993V618.1H1994V618.1H1995V618.1H1996V618.1H1997V618.1H1998V619.1H1999V619.1H2000V619.1H2001V619.1H2002V618.0H2003V618.0H2004V617.9H2005V617.9H2006V617.9H2007V617.9H2008V617.9H2009V617.9H2010V618.1H2011V618.9H2012V618.9H2013V617.3H2014V617.3H2015V617.3H2016V617.3H2017V617.3H2018V617.3H2019V620.1H2020V620.2H2021V620.1H2022V620.1H2023V620.1H2024V620.1H2025V620.1H2026V619.8H2027V619.8H2028V619.8H2029V619.8H2030V619.8H2031V621.8H2032V629.5H2031V629.5H2030V629.5H2029V629.9H2028V629.9H2027V633.5H2026V633.5H2025V633.5H2024V633.5H2023V633.5H2022V629.6H2021V629.6H2020V629.5H2019V629.5H2018V629.5H2017V629.5H2016V629.5H2015V629.4H2014V629.2H2013V629.2H2012V629.2H2011V629.2H2010V629.2H2009V627.4H2008V627.0H2007V627.0H2006V628.7H2005V628.7H2004V630.6H2003V630.6H2002V630.6H2001V630.6H2000V630.6H1999V630.6H1998V628.8H1997V628.8H1996V628.8H1995V628.8H1994V628.8H1993V632.2H1992V632.2H1991V632.2H1990V632.2H1989V632.2H1988V626.9H1987V626.9H1986V626.9H1985V626.2H1984V627.5H1983V627.5H1982V627.5H1981V627.5H1980V627.5H1979V627.5H1978V624.9H1977V624.9H1976V624.9H1975V623.0H1974V624.0H1973V624.0H1972V624.0H1971V624.0H1970V624.0H1969V622.8H1968V623.0H1967V623.1H1966V623.1H1965V623.1H1964V623.1H1963V623.1H1962V623.1H1961V622.0H1960V622.0H1959V622.0H1958V623.4H1957V623.4H1956V623.4H1955V623.4H1954V626.0H1953V626.0H1952V626.0H1951V626.0H1950V626.0H1949V626.0H1948V625.1H1947V625.6H1946V625.6H1945V626.5H1944V626.5H1943V627.4H1942V627.4H1941V627.4H1940V627.4H1939V627.4H1938V628.7H1937V628.7H1936V628.7H1935V628.7H1934V628.7H1933V629.7H1932V629.7H1931V629.7H1930V629.7H1929V629.7H1928V629.7H1927V629.4H1926V629.4H1925V629.4H1924V629.1H1923V629.1H1922V629.1H1921V629.1H1920V630.5H1919V630.5H1918V630.5H1917V630.5H1916V630.5H1915V630.5H1914V630.4H1913V630.4H1912V628.2H1911V628.2H1910V630.2H1909V630.2H1908V630.2H1907V630.2H1906V630.2H1905V629.1H1904V628.7H1903V628.2H1902V628.2H1901V628.2H1900V628.6H1899V628.6H1898V630.1H1897V630.1H1896V630.1H1895V630.1H1894V630.1H1893V630.1H1892V629.1H1891V629.1H1890V629.6H1889V629.6H1888V629.6H1887V629.6H1886V629.6H1885V629.6H1884V629.6H1883V629.6H1882V629.4H1881V629.4H1880V629.4H1879V629.4H1878V629.4H1877V628.9H1876V628.9H1875V629.1H1874V629.1H1873V629.2H1872V629.2H1871V630.8H1870V630.8H1869V630.8H1868V630.8H1867V631.1H1866V632.2H1865V632.2H1864V632.2H1863V632.2H1862V632.2H1861V632.2H1860V630.6H1859V630.6H1858V630.1H1857V630.1H1856V630.1H1855V630.1H1854V630.1H1853V630.1H1852V629.7H1851V629.7H1850V629.9H1849V631.6H1848V631.6H1847V631.6H1846V631.6H1845V631.6H1844V630.9H1843V630.9H1842V631.2H1841V631.2H1840V631.2H1839V631.2H1838V631.2H1837V631.2H1836V631.4H1835V631.4H1834V631.4H1833V631.4H1832V631.4H1831V630.1H1830V630.1H1829V629.6H1828V629.3H1827V629.2H1826V629.9H1825V630.9H1824V630.9H1823V630.9H1822V630.9H1821V631.3H1820V631.3H1819V631.3H1818V631.3H1817V631.3H1816V630.6H1815V630.6H1814V630.6H1813V629.0H1812V628.8H1811V630.3H1810V630.3H1809V630.3H1808V630.3H1807V630.3H1806V631.6H1805V631.6H1804V631.6H1803V631.6H1802V631.6H1801V630.7H1800V630.7H1799V630.9H1798V630.9H1797V630.9H1796V630.9H1795V630.9H1794V631.3H1793V631.3H1792V631.3H1791V631.3H1790V631.3H1789V630.5H1788V630.8H1787V631.8H1786V631.8H1785V631.8H1784V631.8H1783V631.8H1782V631.8H1781V630.9H1780V630.9H1779V630.9H1778V630.9H1777V628.3H1776V628.3H1775V629.5H1774V629.5H1773V629.5H1772V629.5H1771V629.5H1770V629.4H1769V629.4H1768V629.4H1767V629.4H1766V628.4H1765V631.4H1764V631.4H1763V631.4H1762V631.4H1761V631.4H1760V631.4H1759V630.0H1758V631.2H1757V631.2H1756V631.2H1755V631.2H1754V631.2H1753V631.2H1752V631.1H1751V631.1H1750V631.1H1749V631.1H1748V631.1H1747V629.9H1746V629.9H1745V629.9H1744V628.7H1743V628.7H1742V628.6H1741V628.6H1740V628.6H1739V628.5H1738V630.1H1737V630.1H1736V630.1H1735V630.1H1734V630.1H1733V628.3H1732V628.3H1731V628.3H1730V628.3H1729V628.3H1728V626.6H1727V626.6H1726V626.6H1725V626.4H1724V626.4H1723V626.4H1722V626.4H1721V625.5H1720V625.5H1719V626.1H1718V626.3H1717V626.3H1716V626.3H1715V626.3H1714V626.3H1713V626.3H1712V625.5H1711V625.5H1710V625.5H1709V625.5H1708V622.7H1707V622.7H1706V627.0H1705V627.0H1704V627.0H1703V627.0H1702V627.0H1701V627.0H1700V621.2H1699V621.2H1698V621.2H1697V619.8H1696V618.9H1695V618.9H1694V620.4H1693V621.3H1692V621.3H1691V621.3H1690V621.3H1689V621.3H1688V620.0H1687V620.0H1686V620.7H1685V620.7H1684V620.7H1683V620.7H1682V620.7H1681V619.9H1680V619.9H1679V619.9H1678V621.4H1677V621.4H1676V621.4H1675V621.4H1674V621.4H1673V624.5H1672V624.5H1671V624.5H1670V624.5H1669V626.7H1668V626.7H1667V626.7H1666V626.7H1665V626.7H1664V624.0H1663V624.0H1662V624.0H1661V624.0H1660V624.0H1659V622.1H1658V622.3H1657V622.3H1656V622.8H1655V622.8H1654V622.8H1653V622.8H1652V622.8H1651V622.0H1650V622.0H1649V624.1H1648V624.1H1647V624.1H1646V624.1H1645V624.1H1644V624.1H1643V621.0H1642V621.3H1641V621.3H1640V621.3H1639V621.3H1638V621.3H1637V621.5H1636V621.5H1635V621.5H1634V621.5H1633V621.5H1632V621.5H1631V620.6H1630V620.6H1629V620.7H1628V621.7H1627V621.7H1626V621.7H1625V621.7H1624V622.7H1623V622.7H1622V622.7H1621V622.7H1620V622.7H1619V622.7H1618V621.1H1617V621.1H1616V618.8H1615V618.0H1614V620.0H1613V620.0H1612V620.0H1611V620.0H1610V620.0H1609V617.9H1608V617.9H1607V617.5H1606V618.0H1605V618.0H1604V618.4H1603V618.4H1602V618.4H1601V618.4H1600V618.4H1599V618.4H1598V616.7H1597V616.7H1596V614.3H1595V614.3H1594V614.3H1593V614.3H1592V613.8H1591V613.8H1590V613.1H1589V615.4H1588V615.4H1587V615.4H1586V616.3H1585V616.3H1584V618.0H1583V618.0H1582V618.0H1581V618.0H1580V618.2H1579V618.2H1578V618.2H1577V618.2H1576V618.2H1575V618.2H1574V617.6H1573V617.8H1572V620.5H1571V620.5H1570V620.5H1569V620.5H1568V620.5H1567V620.9H1566V620.9H1565V621.2H1564V621.2H1563V624.5H1562V624.5H1561V624.5H1560V624.5H1559V624.5H1558V620.2H1557V620.6H1556V620.9H1555V620.9H1554V620.9H1553V620.9H1552V620.9H1551V620.9H1550V620.9H1549V620.9H1548V621.0H1547V621.0H1546V621.0H1545V621.0H1544V621.0H1543V621.0H1542V618.4H1541V618.4H1540V618.8H1539V620.5H1538V620.5H1537V620.5H1536V620.5H1535V620.5H1534V619.2H1533V619.2H1532V620.3H1531V620.3H1530V620.3H1529V620.3H1528V622.0H1527V622.0H1526V622.0H1525V622.0H1524V622.0H1523V622.0H1522V619.5H1521V619.5H1520V620.1H1519V620.1H1518V620.1H1517V620.1H1516V620.1H1515V620.1H1514V619.9H1513V619.9H1512V618.5H1511V618.5H1510V618.5H1509V618.5H1508V618.5H1507V618.0H1506V621.4H1505V621.4H1504V621.4H1503V621.4H1502V621.4H1501V616.4H1500V618.6H1499V618.6H1498V618.6H1497V618.6H1496V618.6H1495V618.6H1494V617.5H1493V617.5H1492V618.3H1491V618.3H1490V618.3H1489V618.3H1488V620.3H1487V620.3H1486V620.3H1485V620.3H1484V620.3H1483V617.8H1482V617.8H1481V617.8H1480V618.1H1479V618.2H1478V618.2H1477V618.2H1476V618.2H1475V618.2H1474V619.7H1473V619.7H1472V619.7H1471V619.7H1470V619.7H1469V619.7H1468V617.1H1467V617.1H1466V617.1H1465V617.1H1464V618.3H1463V618.3H1462V619.9H1461V619.9H1460V619.9H1459V619.9H1458V619.9H1457V618.3H1456V618.3H1455V618.7H1454V618.7H1453V618.7H1452V618.7H1451V618.7H1450V618.7H1449V617.8H1448V617.8H1447V617.8H1446V616.9H1445V618.3H1444V618.3H1443V618.3H1442V618.3H1441V618.3H1440V617.9H1439V617.9H1438V617.9H1437V616.2H1436V616.2H1435V616.2H1434V616.2H1433V616.2H1432V614.6H1431V614.5H1430V618.0H1429V618.0H1428V618.0H1427V618.0H1426V618.0H1425V617.0H1424V617.0H1423V617.0H1422V617.0H1421V617.0H1420V616.4H1419V616.4H1418V616.4H1417V616.4H1416V616.4H1415V616.4H1414V615.9H1413V615.9H1412V615.2H1411V615.2H1410V615.2H1409V610.9H1408V610.9H1407V614.2H1406V614.2H1405V614.2H1404V614.2H1403V614.2H1402V613.8H1401V613.8H1400V613.8H1399V614.8H1398V614.8H1397V614.8H1396V614.8H1395V614.8H1394V614.8H1393V613.9H1392V614.0H1391V614.0H1390V614.0H1389V614.0H1388V614.0H1387V614.0H1386V612.2H1385V612.2H1384V612.2H1383V612.0H1382V612.0H1381V612.0H1380V611.0H1379V611.0H1378V610.6H1377V610.6H1376V610.6H1375V610.2H1374V610.2H1373V609.9H1372V611.7H1371V611.7H1370V611.7H1369V611.7H1368V611.7H1367V611.7H1366V610.2H1365V610.2H1364V610.2H1363V610.2H1362V609.6H1361V609.4H1360V609.4H1359V609.4H1358V608.1H1357V608.1H1356V607.9H1355V607.9H1354V607.8H1353V607.8H1352V607.8H1351V607.8H1350V607.1H1349V607.1H1348V609.3H1347V609.3H1346V609.3H1345V609.3H1344V609.3H1343V609.3H1342V608.1H1341V608.1H1340V607.4H1339V607.4H1338V607.4H1337V607.4H1336V607.4H1335V607.3H1334V607.3H1333V607.3H1332V604.1H1331V607.0H1330V608.6H1329V608.6H1328V608.6H1327V608.6H1326V608.6H1325V608.6H1324V605.7H1323V605.7H1322V605.2H1321V605.2H1320V605.5H1319V606.8H1318V606.8H1317V606.8H1316V606.8H1315V606.8H1314V607.6H1313V607.6H1312V607.6H1311V607.6H1310V607.6H1309V607.0H1308V607.0H1307V607.0H1306V607.0H1305V606.6H1304V604.5H1303V604.5H1302V608.9H1301V608.9H1300V608.9H1299V608.9H1298V608.9H1297V608.9H1296V605.6H1295V605.6H1294V602.0H1293V601.2H1292V602.1H1291V602.1H1290V602.1H1289V602.1H1288V603.7H1287V603.7H1286V603.7H1285V603.7H1284V603.7H1283V603.7H1282V602.1H1281V602.1H1280V602.1H1279V602.7H1278V602.7H1277V602.7H1276V602.7H1275V602.7H1274V603.4H1273V603.4H1272V603.4H1271V603.4H1270V603.4H1269V603.4H1268V603.4H1267V603.4H1266V601.1H1265V601.1H1264V599.6H1263V599.6H1262V599.0H1261V601.4H1260V601.4H1259V601.4H1258V601.4H1257V601.4H1256V601.4H1255V599.1H1254V599.1H1253V600.2H1252V600.2H1251V600.2H1250V600.2H1249V600.2H1248V600.2H1247V598.7H1246V598.7H1245V598.2H1244V598.2H1243V598.2H1242V601.6H1241V601.6H1240V601.6H1239V601.6H1238V601.6H1237V601.6H1236V598.6H1235V597.2H1234V596.3H1233V595.7H1232V596.5H1231V596.5H1230V596.5H1229V596.5H1228V596.5H1227V596.5H1226V594.6H1225V594.6H1224V594.6H1223V597.3H1222V597.3H1221V597.3H1220V597.3H1219V600.2H1218V600.2H1217V600.2H1216V600.2H1215V600.2H1214V600.2H1213V597.6H1212V597.6H1211V597.6H1210V597.6H1209V597.6H1208V592.1H1207V592.1H1206V592.1H1205V592.1H1204V592.1H1203V592.1H1202V593.5H1201V593.5H1200V593.5H1199V593.5H1198V593.5H1197V593.5H1196V590.4H1195V590.3H1194V590.3H1193V590.6H1192V594.1H1191V594.1H1190V594.1H1189V594.1H1188V594.1H1187V594.1H1186V589.8H1185V589.8H1184V589.1H1183V589.1H1182V589.1H1181V589.0H1180V589.0H1179V588.8H1178V589.6H1177V589.6H1176V589.6H1175V589.6H1174V589.6H1173V589.6H1172V588.7H1171V588.7H1170V588.7H1169V588.7H1168V588.7H1167V588.7H1166V588.1H1165V587.1H1164V586.8H1163V586.8H1162V586.8H1161V584.6H1160V584.6H1159V584.6H1158V586.7H1157V586.7H1156V586.7H1155V586.7H1154V586.7H1153V585.8H1152V583.0H1151V583.0H1150V583.0H1149V583.0H1148V583.0H1147V583.0H1146V581.7H1145V581.7H1144V582.4H1143V582.4H1142V582.4H1141V582.4H1140V582.4H1139V581.1H1138V580.1H1137V580.1H1136V578.8H1135V578.8H1134V579.0H1133V579.0H1132V579.0H1131V579.0H1130V579.0H1129V579.1H1128V579.1H1127V579.1H1126V579.1H1125V579.1H1124V579.1H1123V574.9H1122V574.9H1121V574.9H1120V571.7H1119V570.6H1118V572.5H1117V572.5H1116V572.5H1115V573.5H1114V576.2H1113V576.2H1112V576.2H1111V576.2H1110V576.3H1109V576.3H1108V576.3H1107V576.3H1106V576.3H1105V576.3H1104V571.2H1103V571.2H1102V571.4H1101V571.4H1100V571.4H1099V571.4H1098V571.4H1097V571.4H1096V571.4H1095V573.7H1094V573.7H1093V573.7H1092V573.7H1091V573.7H1090V570.4H1089V566.6H1088V566.6H1087V566.6H1086V566.6H1085V566.6H1084V562.9H1083V562.1H1082V559.9H1081V558.2H1080V558.1H1079V557.0H1078V557.0H1077V557.0H1076V549.1H1075V549.1H1074V550.0H1073V550.0H1072V552.4H1071V552.4H1070V552.4H1069V552.4H1068V552.8H1067V560.4H1066V560.4H1065V560.4H1064V560.4H1063V560.4H1062V560.4H1061V559.5H1060V564.2H1059V564.2H1058V564.2H1057V564.2H1056V564.2H1055V556.7H1054V556.7H1053V556.7H1052V556.7H1051V555.1H1050V551.2H1049V551.2H1048V547.4H1047V547.4H1046V547.4H1045V543.0H1044V543.0H1043V543.0H1042V539.9H1041V539.0H1040V539.0H1039V537.7H1038V537.7H1037V537.9H1036V538.6H1035V538.6H1034V538.6H1033V538.6H1032V538.6H1031V538.6H1030V537.1H1029V537.3H1028V537.3H1027V537.3H1026V537.3H1025V537.3H1024V537.2H1023V535.2H1022V535.2H1021V532.9H1020V530.8H1019V528.2H1018V528.2H1017V528.6H1016V528.6H1015V529.8H1014V529.8H1013V529.8H1012V530.5H1011V530.5H1010V530.5H1009V530.5H1008V530.5H1007V531.9H1006V531.9H1005V531.9H1004V533.8H1003V535.1H1002V535.3H1001V535.3H1000V536.7H999V536.7H998V536.7H997V538.7H996V542.4H995V542.4H994V542.4H993V542.4H992V542.4H991V542.4H990V539.0H989V539.0H988V539.0H987V544.6H986V544.6H985V545.8H984V545.8H983V545.8H982V545.8H981V545.8H980V545.1H979V545.1H978V544.3H977V544.3H976V542.6H975V542.7H974V542.7H973V542.7H972V544.6H971V544.6H970V544.6H969V544.6H968V544.6H967V544.6H966V544.2H965V548.1H964V548.1H963V548.1H962V548.1H961V548.1H960V548.1H959V543.2H958V543.2H957V545.5H956V545.5H955V545.5H954V545.5H953V545.5H952V545.6H951V545.6H950V545.6H949V545.6H948V545.6H947V543.7H946V543.7H945V547.1H944V547.1H943V547.1H942V547.1H941V547.1H940V540.6H939V540.6H938V540.1H937V540.8H936V545.4H935V545.4H934V545.4H933V545.4H932V545.4H931V545.4H930V544.3H929V544.3H928V546.0H927V546.0H926V546.0H925V546.0H924V546.0H923V541.5H922V541.5H921V543.2H920V543.2H919V543.8H918V543.8H917V543.8H916V543.8H915V543.8H914V544.3H913V544.3H912V544.3H911V544.3H910V544.3H909V544.3H908V542.5H907V542.5H906V538.6H905V538.6H904V538.3H903V538.3H902V543.2H901V543.2H900V543.2H899V543.2H898V543.2H897V538.0H896V533.0H895V533.0H894V526.9H893V526.1H892V518.5H891V513.9H890V510.1H889V506.0H888V500.6H887V494.5H886V489.4H885V496.4H884V502.8H883V512.9H882V514.5H881V519.7H880V524.4H879V525.6H878V530.1H877V531.8H876V533.8H875V534.8H874V535.8H873V540.2H872V540.2H871V540.2H870V540.2H869V540.2H868V541.0H867V541.0H866V541.0H865V541.0H864V541.8H863V541.8H862V541.8H861V541.8H860V541.8H859V540.4H858V540.4H857V540.4H856V543.1H855V543.1H854V543.1H853V543.1H852V543.1H851V541.1H850V539.9H849V539.9H848V538.5H847V538.5H846V538.5H845V534.2H844V533.3H843V533.3H842V527.4H841V522.7H840V519.7H839V515.4H838V506.6H837V497.4H836V489.0H835V485.3H834V484.8H833V490.5H832V499.2H831V506.9H830V515.1H829V523.0H828V525.3H827V530.7H826V530.7H825V533.1H824V533.4H823V534.4H822V543.7H821V543.7H820V544.7H819V544.7H818V544.7H817V544.7H816V544.7H815V542.2H814V546.2H813V546.2H812V546.2H811V546.2H810V548.2H809V548.2H808V548.9H807V550.7H806V550.7H805V550.7H804V552.8H803V552.8H802V552.8H801V552.8H800V552.8H799V552.8H798V551.8H797V551.4H796V550.1H795V550.1H794V549.8H793V551.4H792V551.4H791V551.4H790V551.4H789V551.4H788V551.4H787V551.3H786V551.3H785V551.3H784V550.3H783V550.3H782V547.4H781V548.4H780V552.5H779V552.5H778V552.5H777V552.5H776V552.5H775V552.5H774V551.9H773V551.9H772V550.6H771V550.6H770V550.6H769V552.5H768V552.5H767V552.5H766V552.5H765V552.5H764V552.5H763V550.5H762V550.5H761V550.5H760V550.5H759V550.5H758V548.1H757V546.8H756V546.8H755V546.8H754V546.8H753V546.8H752V544.2H751V544.4H750V544.4H749V546.5H748V546.5H747V546.5H746V546.5H745V546.5H744V546.4H743V546.4H742V546.4H741V546.4H740V545.4H739V544.7H738V544.7H737V544.7H736V541.9H735V541.9H734V541.9H733V541.9H732V541.0H731V541.0H730V540.0H729V540.0H728V538.7H727V539.6H726V539.6H725V539.6H724V539.6H723V539.6H722V539.6H721V537.5H720V537.5H719V537.5H718V534.8H717V534.8H716V530.8H715V532.2H714V535.0H713V535.0H712V535.0H711V535.0H710V535.0H709V530.7H708V530.7H707V530.7H706V529.5H705V529.7H704V529.7H703V529.7H702V529.7H701V529.7H700V528.7H699V528.7H698V530.5H697V532.1H696V532.1H695V532.1H694V532.1H693V532.1H692V532.1H691V528.7H690V528.3H689V528.3H688V525.9H687V529.1H686V529.1H685V529.1H684V529.1H683V529.1H682V532.0H681V532.0H680V532.0H679V532.0H678V532.0H677V532.0H676V524.1H675V524.1H674V523.2H673V523.2H672V522.5H671V522.5H670V522.5H669V522.5H668V522.5H667V522.5H666V515.7H665V514.1H664V514.1H663V513.7H662V512.5H661V512.5H660V506.7H659V506.7H658V506.7H657V506.7H656V506.7H655V505.0H654V505.0H653V505.0H652V503.3H651V503.3H650V503.3H649V496.5H648V482.8H647V479.7H646V460.4H645V453.1H644V471.3H643V471.9H642V487.9H641V487.9H640V487.9H639V487.9H638V490.1H637V490.1H636V490.1H635V490.1H634V490.1H633V489.3H632V488.5H631V486.4H630V486.4H629V486.4H628V486.0H627V485.1H626V495.3H625V495.3H624V495.3H623V495.3H622V495.3H621V495.3H620V485.3H619V483.4H618V484.5H617V484.5H616V484.5H615V484.5H614V484.5H613V482.0H612V482.0H611V482.0H610V482.0H609V482.0H608V478.5H607V478.5H606V478.5H605V478.5H604V474.5H603V474.5H602V474.5H601V474.5H600V473.0H599V473.0H598V473.0H597V468.0H596V468.0H595V468.0H594V468.0H593V468.0H592V466.8H591V468.5H590V468.5H589V468.5H588V468.5H587V468.5H586V461.4H585V461.4H584V461.4H583V460.8H582V462.0H581V462.0H580V462.0H579V462.0H578V462.0H577V462.0H576V450.1H575V454.9H574V454.9H573V454.9H572V454.9H571V454.9H570V448.5H569V446.5H568V443.6H567V443.6H566V443.6H565V443.6H564V442.5H563V442.5H562V442.5H561V442.5H560V442.5H559V436.7H558V436.7H557V433.1H556V433.1H555V433.1H554V433.1H553V425.0H552V425.0H551V425.0H550V425.0H549V415.7H548V415.7H547V415.7H546V412.2H545V412.2H544V412.2H543V412.2H542V407.7H541V407.3H540V407.3H539V407.3H538V396.2H537V396.2H536V396.2H535V394.6H534V394.6H533V394.6H532V394.6H531V390.0H530V389.3H529V389.3H528V389.3H527V389.3H526V376.2H525V373.7H524V373.7H523V371.5H522V371.5H521V371.5H520V369.0H519V369.0H518V369.0H517V369.0H516V365.0H515V365.0H514V354.6H513V354.6H512V354.6H511V353.8H510V353.8H509V357.0H508V361.5H507V361.5H506V361.5H505V361.5H504V361.5H503V349.5H502V338.6H501V338.6H500V338.6H499V338.6H498V338.6H497V338.6H496V337.6H495V337.6H494V332.3H493V332.3H492V332.3H491V322.8H490V319.1H489V319.1H488V319.1H487V315.4H486V315.4H485V314.4H484V314.4H483V308.4H482V308.4H481V308.4H480V308.4H479V308.4H478V304.4H477V301.3H476V301.3H475V298.0H474V292.0H473V291.1H472V291.1H471V291.1H470V285.0H469V286.1H468V286.1H467V286.1H466V286.1H465V286.1H464V286.1H463V281.5H462V277.8H461V277.8H460V277.8H459V277.8H458V272.5H457V270.1H456V270.1H455V270.1H454V270.1H453V270.0H452V270.0H451V266.9H450V266.9H449V266.9H448V266.2H447V266.2H446V266.2H445V266.2H444V266.2H443V252.3H442V250.8H441V250.8H440V250.8H439V250.8H438V238.0H437V240.6H436V240.6H435V240.6H434V243.7H433V243.7H432V243.7H431V243.7H430V243.7H429V243.7H428V227.1H427V226.5H426V224.6H425V224.2H424V224.2H423V224.2H422V224.2H421V224.2H420V225.5H419V225.5H418V225.5H417V225.5H416V225.5H415V217.2H414V217.2H413V206.8H412V211.9H411V219.1H410V219.1H409V219.1H408V219.1H407V219.1H406V214.9H405V210.6H404V210.6H403V210.6H402V210.6H401V210.6H400V210.6H399V204.1H398V204.1H397V204.1H396V204.1H395V201.7H394V201.7H393V201.7H392V201.7H391V201.7H390V197.8H389V197.8H388V195.2H387V195.2H386V195.2H385V195.2H384V193.6H383V189.5H382V189.5H381V191.2H380V191.2H379V191.2H378V198.5H377V198.5H376V198.5H375V198.5H374V198.5H373V198.5H372V187.7H371V187.7H370V187.7H369V187.7H368V187.7H367V186.7H366V186.7H365V186.7H364V187.9H363V187.9H362V193.1H361V193.1H360V193.1H359V193.1H358V193.1H357V193.1H356V193.1H355V193.1H354V193.1H353V193.1H352V193.1H351V183.4H350V182.3H349V182.3H348V176.3H347V176.3H346V176.3H345V176.9H344V190.1H343V190.1H342V190.1H341V190.1H340V190.1H339V190.1H338V186.8H337V185.7H336V185.7H335V186.6H334V186.6H333V186.6H332V186.6H331V186.6H330V186.0H329V186.0H328V188.0H327V188.0H326V188.0H325V188.0H324V188.0H323V188.0H322V180.2H321V180.1H320V180.1H319V180.1H318V180.4H317V193.3H316V193.3H315V193.3H314V193.3H313V193.3H312V188.7H311V188.7H310V188.7H309V188.7H308V188.7H307V188.7H306V188.1H305V188.1H304V186.7H303V185.7H302V185.7H301V185.7H300V185.7H299V187.4H298V187.4H297V187.4H296V187.4H295V187.4H294V184.1H293V184.1H292V185.8H291V185.8H290V189.6H289V189.6H288V197.8H287V197.8H286V197.8H285V197.8H284V197.8H283V197.8H282V191.0H281V191.0H280V191.0H279V191.0H278V189.4H277V200.4H276V200.4H275V200.4H274V200.4H273V200.4H272V193.8H271V193.8H270V193.8H269V193.8H268V193.8H267V193.8H266V187.9H265V189.1H264V189.1H263V189.1H262V189.1H261V189.1H260V187.7H259V197.3H258V197.3H257V197.3H256V197.3H255V197.3H254V194.3H253V193.6H252V193.6H251V192.4H250V192.4H249V192.4H248V192.4H247V192.4H246V190.0H245V191.8H244V191.8H243V191.8H242V191.8H241V191.8H240V191.8H239V190.8H238V192.6H237V192.6H236V194.6H235V194.6H234V194.6H233V194.6H232V194.6H231V186.6H230V185.4H229V185.4H228V186.8H227V188.8H226V189.6H225V189.6H224V189.6H223V189.6H222V192.4H221V192.4H220V197.2H219V197.2H218V197.2H217V197.2H216V197.2H215V197.2H214V192.1H213V189.3H212V189.3H211V189.3H210V189.3H209V187.3H208V188.2H207V188.2H206V188.2H205V188.2H204V197.9H203V197.9H202V197.9H201V197.9H200V197.9H199V197.9H198V194.5H197V194.5H196V194.5H195V194.5H194V194.5H193V188.4H192V188.4H191V188.4H190V194.0H189V194.0H188V194.0H187V194.0H186V194.0H185V194.0H184V190.1H183V190.1H182V190.1H181V190.1H180V188.5H179V188.5H178V188.5H177V194.8H176V194.8H175V194.8H174V194.8H173V194.8H172V194.8H171V189.4H170V189.4H169V189.4H168V189.4H167Z"/><circle fill="#008000" cx="642.6" cy="410.0" r="13"/><path fill="#ff0000" d="M835.4,403.1 L852.0,423.9 L835.4,444.7 L818.8,423.9 Z"/><g fill="#0000ff"><circle cx="888.9" cy="418.0" r="9"/><circle cx="876.9" cy="434.9" r="9"/><circle cx="900.9" cy="434.9" r="9"/><rect x="882.9" y="425.9" width="12" height="12"/><path d="M886.9,433.9 L890.9,433.9 L891.1,445.9 L894.2,449.9 L883.6,449.9 L886.7,445.9 Z"/></g><path fill="#ff0000" d="M1013.4,459.3 L1030.0,480.1 L1013.4,500.9 L996.8,480.1 Z"/><circle fill="#008000" cx="1037.8" cy="495.9" r="13"/><g fill="#0000ff"><circle cx="1078.0" cy="483.8" r="9"/><circle cx="1066.0" cy="500.7" r="9"/><circle cx="1090.0" cy="500.7" r="9"/><rect x="1072.0" y="491.7" width="12" height="12"/><path d="M1076.0,499.7 L1080.0,499.7 L1080.2,511.7 L1083.3,515.7 L1072.7,515.7 L1075.8,511.7 Z"/></g><path fill="#ff0000" d="M1592.4,545.2 L1609.0,566.0 L1592.4,586.8 L1575.8,566.0 Z"/><g fill="#0000ff"><circle cx="1682.9" cy="560.9" r="9"/><circle cx="1670.9" cy="577.8" r="9"/><circle cx="1694.9" cy="577.8" r="9"/><rect x="1676.9" y="568.8" width="12" height="12"/><path d="M1680.9,576.8 L1684.9,576.8 L1685.1,588.8 L1688.2,592.8 L1677.6,592.8 L1680.7,588.8 Z"/></g><path fill="#ff0000" d="M1957.4,552.1 L1974.0,572.9 L1957.4,593.7 L1940.8,572.9 Z"/><circle fill="#008000" cx="594.0" cy="154.0" r="13"/><path fill="#ff0000" d="M871.5,128.2 L888.1,149.0 L871.5,169.8 L854.9,149.0 Z"/><g fill="#0000ff"><circle cx="1111.9" cy="131.0" r="9"/><circle cx="1099.9" cy="147.9" r="9"/><circle cx="1123.9" cy="147.9" r="9"/><rect x="1105.9" y="138.9" width="12" height="12"/><path d="M1109.9,146.9 L1113.9,146.9 L1114.1,158.9 L1117.2,162.9 L1106.6,162.9 L1109.7,158.9 Z"/></g><text x="311.3" y="1492" text-anchor="middle" font-size="77" font-family="'Liberation Serif', 'Times New Roman', serif" font-weight="bold">20</text><text x="597.9" y="1492" text-anchor="middle" font-size="77" font-family="'Liberation Serif', 'Times New Roman', serif" font-weight="bold">30</text><text x="884.5" y="1492" text-anchor="middle" font-size="77" font-family="'Liberation Serif', 'Times New Roman', serif" font-weight="bold">40</text><text x="1171.2" y="1492" text-anchor="middle" font-size="77" font-family="'Liberation Serif', 'Times New Roman', serif" font-weight="bold">50</text><text x="1457.8" y="1492" text-anchor="middle" font-size="77" font-family="'Liberation Serif', 'Times New Roman', serif" font-weight="bold">60</text><text x="1744.4" y="1492" text-anchor="middle" font-size="77" font-family="'Liberation Serif', 'Times New Roman', serif" font-weight="bold">70</text><text x="2031.0" y="1492" text-anchor="middle" font-size="77" font-family="'Liberation Serif', 'Times New Roman', serif" font-weight="bold">80</text><text x="1037" y="1610.3" font-size="86" font-family="'Liberation Serif', 'Times New Roman', serif" font-weight="bold">2<tspan font-weight="normal">θ</tspan> (degree)</text><text transform="translate(89.1,898.7) rotate(-90)" x="0" y="0" font-size="86.5" font-family="'Liberation Serif', 'Times New Roman', serif" font-weight="bold">Intensity (a.u.)</text><text x="638.5" y="177.8" font-size="86" font-family="'Liberation Serif', 'Times New Roman', serif" font-weight="bold">PdO</text><text x="925" y="175.8" font-size="86" font-family="'Liberation Serif', 'Times New Roman', serif" font-weight="bold">Au<tspan font-weight="normal" font-size="59" dy="-38.7">0</tspan></text><text x="1177.5" y="171.6" font-size="86" font-family="'Liberation Serif', 'Times New Roman', serif" font-weight="bold">Pd<tspan font-weight="normal" font-size="59" dy="-38.2">0</tspan></text><text x="1527" y="468.8" font-size="86" font-family="'Liberation Serif', 'Times New Roman', serif" font-weight="bold">Au-Pd/MC</text><text x="1601.4" y="775.6" font-size="86" font-family="'Liberation Serif', 'Times New Roman', serif" font-weight="bold">Pd/MC</text><text x="1597.2" y="1074.8" font-size="86" font-family="'Liberation Serif', 'Times New Roman', serif" font-weight="bold">Au/MC</text><text x="1694.3" y="1275.7" font-size="86" font-family="'Liberation Serif', 'Times New Roman', serif" font-weight="bold">MC</text></svg></body></html>
